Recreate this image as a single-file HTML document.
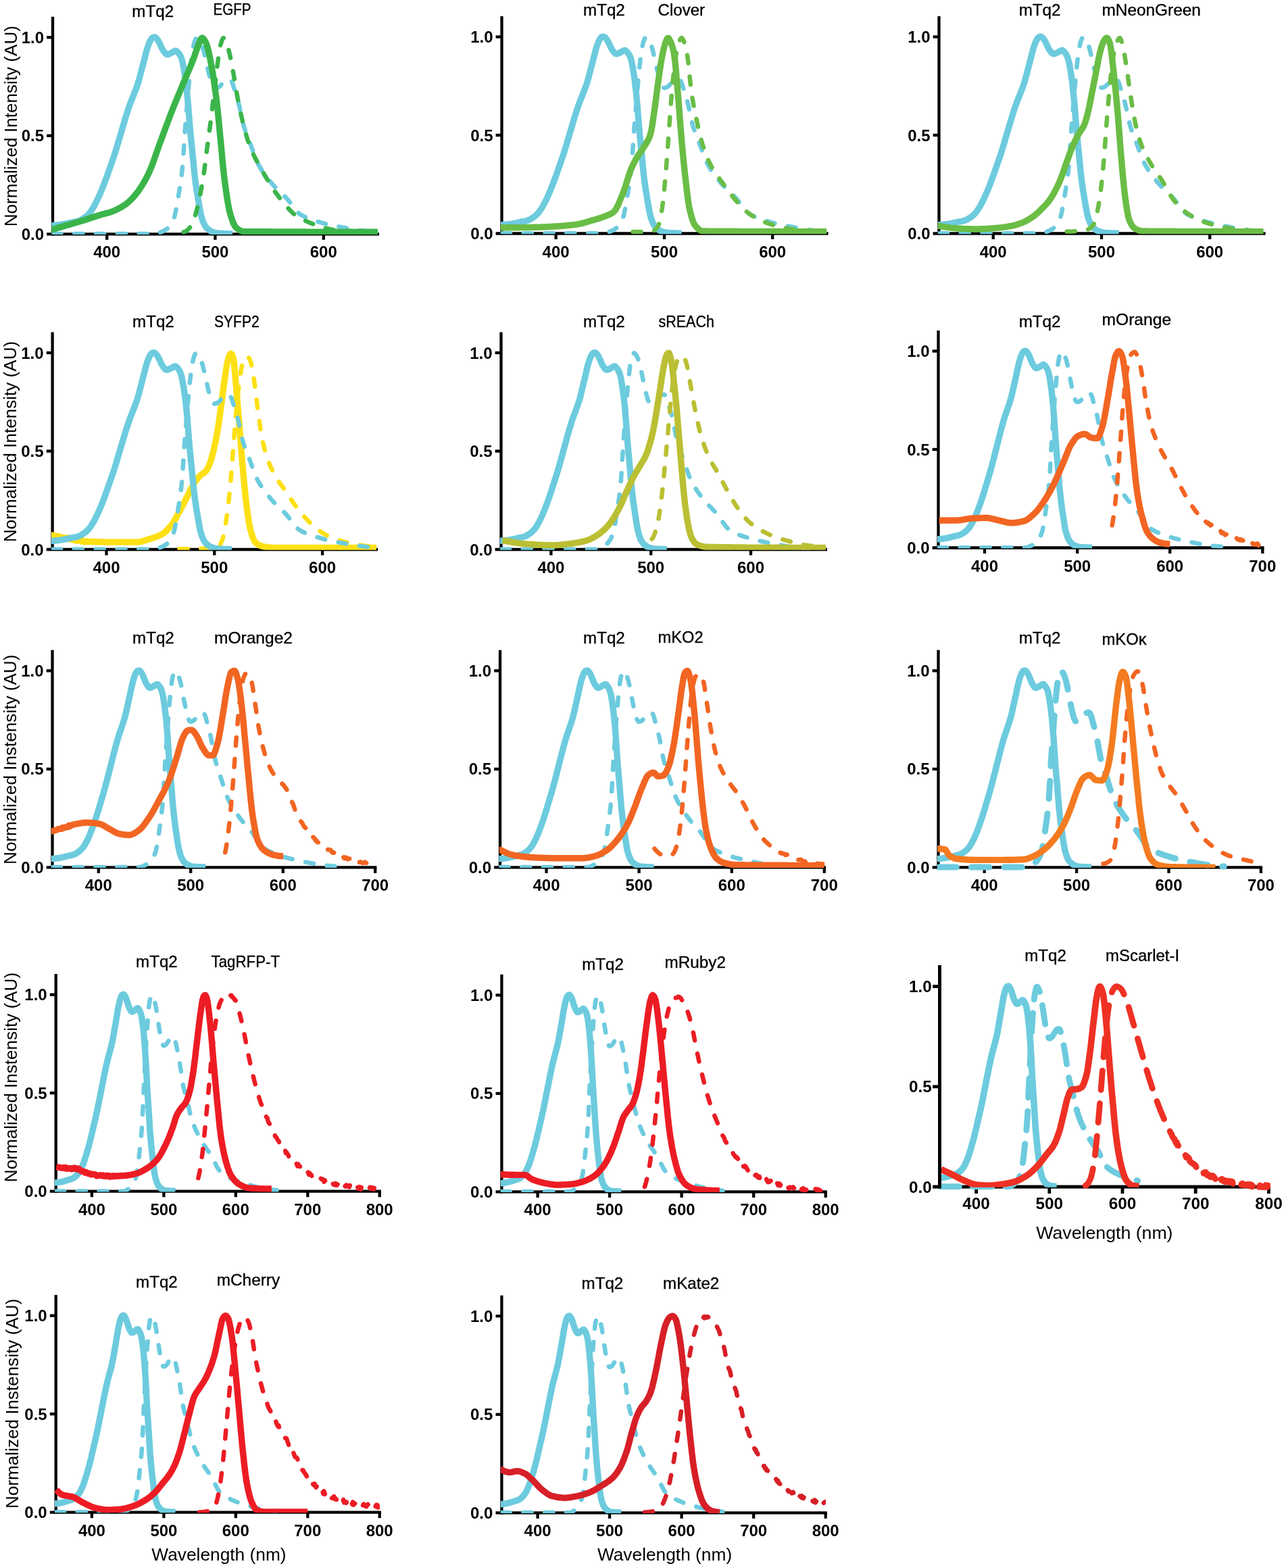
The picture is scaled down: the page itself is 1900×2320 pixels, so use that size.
<!DOCTYPE html>
<html lang="en">
<head>
<meta charset="utf-8">
<title>Spectra of mTq2 FRET pairs</title>
<style>
html,body{margin:0;padding:0;background:#fff;}
body{width:1900px;height:2320px;overflow:hidden;}
svg{display:block;}
text{white-space:pre;}
</style>
</head>
<body>
<svg width="1900" height="2320" viewBox="0 0 1900 2320">
<rect width="1900" height="2320" fill="#fff"/>
<g>
<g stroke="#000" stroke-width="4.3" fill="none" stroke-linecap="butt">
<path d="M78.0,24.7 V348.4"/>
<path d="M69.1,346.3 H561.0"/>
<path d="M69.1,200.8 H78.0"/>
<path d="M69.1,55.3 H78.0"/>
<path d="M158.2,346.3 V354.8"/>
<path d="M318.4,346.3 V354.8"/>
<path d="M478.8,346.3 V354.8"/>
</g>
<g font-family='"Liberation Sans", "DejaVu Sans", sans-serif' font-weight="700" font-size="24.0" fill="#000">
<text x="65.0" y="354.8" text-anchor="end">0.0</text>
<text x="65.0" y="209.3" text-anchor="end">0.5</text>
<text x="65.0" y="63.8" text-anchor="end">1.0</text>
<text x="158.2" y="381.3" text-anchor="middle">400</text>
<text x="318.4" y="381.3" text-anchor="middle">500</text>
<text x="478.8" y="381.3" text-anchor="middle">600</text>
</g>
<g font-family='"Liberation Sans", "DejaVu Sans", sans-serif' font-size="24.4" fill="#000" stroke="#000" stroke-width="0.35">
<text x="195.3" y="24.7" textLength="61.8" lengthAdjust="spacingAndGlyphs">mTq2</text>
<text x="315.5" y="22.3" textLength="56.1" lengthAdjust="spacingAndGlyphs">EGFP</text>
</g>
<text transform="translate(24.5,186.7) rotate(-90)" text-anchor="middle" font-family='"Liberation Sans", "DejaVu Sans", sans-serif' font-size="26.1" fill="#000">Normalized Intensity (AU)</text>
<clipPath id="c1"><rect x="76.3" y="-2.9" width="482.9" height="349.9"/></clipPath>
<clipPath id="c1b"><rect x="76.3" y="-2.9" width="485.1" height="361.2"/></clipPath>
<g fill="none" stroke-linejoin="round" clip-path="url(#c1)"><path d="M78.5,346.0 80.1,346.0 81.7,346.0 83.3,346.0 84.9,346.0 86.5,346.0 88.1,346.0 89.7,346.0 91.3,346.0 92.9,346.0 94.5,346.0 96.1,346.0 97.7,346.0 99.3,346.0 100.9,346.0 102.5,346.0 104.1,346.0 105.7,346.0 107.3,346.0 108.9,346.0 110.5,346.0 112.1,346.0 113.7,346.0 115.3,346.0 116.9,346.0 118.5,346.0 120.1,346.0 121.7,346.0 123.3,346.0 124.9,346.0 126.5,346.0 128.1,346.0 129.7,346.0 131.3,346.0 132.9,346.0 134.5,346.0 136.1,346.0 137.7,346.0 139.3,346.0 140.9,346.0 142.5,346.0 144.1,346.0 145.7,346.0 147.3,346.0 148.9,346.0 150.5,346.0 152.1,346.0 153.7,346.0 155.3,346.0 156.9,346.0 158.5,346.0 160.1,346.0 161.7,346.0 163.3,346.0 164.9,346.0 166.5,346.0 168.1,346.0 169.7,346.0 171.3,346.0 173.0,346.0 174.6,346.0 176.2,346.0 177.8,346.0 179.4,346.0 181.0,346.0 182.6,346.0 184.2,346.0 185.8,346.0 187.4,346.0 189.0,346.0 190.6,346.0 192.2,346.0 193.8,346.0 195.4,346.0 197.0,346.0 198.6,346.0 200.2,346.0 201.8,346.0 203.4,346.0 205.0,346.0 206.6,346.0 208.2,346.0 209.8,346.0 211.4,346.0 213.0,346.0 214.6,346.0 216.2,346.0 217.8,346.0 219.4,346.0 221.0,346.0 222.6,346.0 224.2,346.0 225.8,346.0 227.4,346.0 229.0,346.0 230.6,346.0 232.2,345.6 233.8,345.1 235.4,344.5 237.0,343.8 238.6,343.2 240.2,342.5 241.8,341.8 243.4,341.0 245.0,340.1 246.6,339.0 248.2,337.7 249.8,336.1 251.4,334.1 253.0,331.8 254.6,329.0 256.2,325.7 257.8,321.9 259.4,315.8 261.0,307.6 262.6,298.3 264.2,288.7 265.8,279.2 267.4,268.9 269.0,256.8 270.6,241.5 272.2,217.2 273.8,192.3 275.4,172.0 277.0,153.3 278.6,134.9 280.2,116.5 281.8,99.8 283.5,86.2 285.1,74.1 286.7,65.9 288.3,60.8 289.9,57.0 291.5,55.7 293.1,56.6 294.7,58.6 296.3,60.9 297.9,64.4 299.5,68.8 301.1,74.1 302.7,80.8 304.3,87.7 305.9,95.1 307.5,102.1 309.1,108.8 310.7,115.0 312.3,120.6 313.9,125.6 315.5,128.5 317.1,130.3 318.7,130.8 320.3,130.4 321.9,129.8 323.5,129.0 325.1,127.9 326.7,126.2 328.3,124.3 329.9,122.6 331.5,121.0 333.1,119.5 334.7,118.2 336.3,117.6 337.9,117.2 339.5,117.0 341.1,117.8 342.7,120.2 344.3,123.8 345.9,129.1 347.5,134.0 349.1,138.9 350.7,144.1 352.3,149.6 353.9,155.9 355.5,163.2 357.1,171.0 358.7,178.5 360.3,185.0 361.9,190.2 363.5,194.9 365.1,199.2 366.7,203.3 368.3,207.3 369.9,211.4 371.5,215.7 373.1,220.1 374.7,224.6 376.3,229.0 377.9,233.2 379.5,237.2 381.1,240.8 382.7,243.9 384.3,246.8 385.9,249.5 387.5,252.1 389.1,254.6 390.7,256.9 392.3,259.1 394.0,261.3 395.6,263.4 397.2,265.4 398.8,267.3 400.4,269.3 402.0,271.1 403.6,273.0 405.2,274.8 406.8,276.5 408.4,278.2 410.0,279.7 411.6,281.3 413.2,282.8 414.8,284.3 416.4,285.8 418.0,287.3 419.6,288.8 421.2,290.4 422.8,292.0 424.4,293.7 426.0,295.6 427.6,297.6 429.2,299.7 430.8,301.8 432.4,304.0 434.0,306.1 435.6,308.2 437.2,310.3 438.8,312.2 440.4,313.9 442.0,315.4 443.6,316.7 445.2,317.7 446.8,318.7 448.4,319.5 450.0,320.4 451.6,321.1 453.2,321.9 454.8,322.6 456.4,323.3 458.0,323.9 459.6,324.5 461.2,325.1 462.8,325.6 464.4,326.1 466.0,326.6 467.6,327.1 469.2,327.6 470.8,328.1 472.4,328.5 474.0,329.0 475.6,329.5 477.2,329.9 478.8,330.3 480.4,330.8 482.0,331.2 483.6,331.6 485.2,331.9 486.8,332.3 488.4,332.7 490.0,333.0 491.6,333.4 493.2,333.7 494.8,334.1 496.4,334.4 498.0,334.7 499.6,335.0 501.2,335.3 502.8,335.6 504.5,336.0 506.1,336.3 507.7,336.6 509.3,336.9 510.9,337.2 512.5,337.5 514.1,337.8 515.7,338.0 517.3,338.3 518.9,338.6 520.5,338.9 522.1,339.2 523.7,339.4 525.3,339.7 526.9,340.0 528.5,340.2 530.1,340.5 531.7,340.7 533.3,340.9 534.9,341.2 536.5,341.4 538.1,341.6 539.7,341.8 541.3,342.0 542.9,342.2 544.5,342.4 546.1,342.7 547.7,342.9 549.3,343.0 550.9,343.2 552.5,343.4 554.1,343.6 555.7,343.7 557.3,343.9 558.9,344.0" stroke="#6dcbde" stroke-width="6.5" stroke-dasharray="12 19.8" stroke-linecap="round"/></g>
<g fill="none" stroke-linejoin="round" clip-path="url(#c1)"><path d="M76.0,333.5 78.0,333.5 79.6,333.4 81.2,333.3 82.8,333.1 84.4,333.0 86.0,332.8 87.6,332.6 89.2,332.4 90.8,332.2 92.4,331.9 94.0,331.7 95.6,331.4 97.2,331.1 98.8,330.7 100.4,330.4 102.0,330.0 103.6,329.7 105.3,329.3 106.9,329.0 108.5,328.7 110.1,328.4 111.7,328.1 113.3,327.8 114.9,327.4 116.5,326.9 118.1,326.2 119.7,325.4 121.3,324.5 122.9,323.5 124.5,322.5 126.1,321.3 127.7,320.1 129.3,318.7 130.9,317.1 132.5,315.3 134.1,313.2 135.7,310.8 137.3,308.3 138.9,305.7 140.5,302.8 142.1,299.7 143.7,296.4 145.3,292.9 146.9,289.4 148.5,285.8 150.1,282.0 151.7,278.1 153.3,274.0 154.9,269.9 156.5,265.5 158.2,261.0 159.8,256.4 161.4,251.8 163.0,247.3 164.6,242.7 166.2,238.1 167.8,233.5 169.4,228.7 171.0,223.6 172.6,218.4 174.2,213.1 175.8,207.7 177.4,202.3 179.0,197.0 180.6,191.6 182.2,186.2 183.8,180.8 185.4,175.4 187.0,170.2 188.6,165.3 190.2,160.4 191.8,155.8 193.4,151.4 195.0,147.3 196.6,143.4 198.2,139.4 199.8,135.3 201.4,131.2 203.0,126.9 204.6,121.9 206.2,116.1 207.8,109.9 209.4,103.9 211.0,97.7 212.7,91.5 214.3,85.2 215.9,78.7 217.5,72.8 219.1,68.0 220.7,63.6 222.3,60.2 223.9,57.6 225.5,55.8 227.1,55.2 228.7,54.9 230.3,55.6 231.9,57.2 233.5,59.3 235.1,62.0 236.7,65.1 238.3,68.7 239.9,72.1 241.5,74.7 243.1,76.9 244.7,78.9 246.3,80.3 247.9,80.6 249.5,80.2 251.1,79.6 252.7,78.8 254.3,78.0 255.9,77.0 257.5,76.0 259.1,75.3 260.7,75.3 262.3,76.5 263.9,78.2 265.6,80.3 267.2,83.1 268.8,87.1 270.4,93.3 272.0,101.8 273.6,111.6 275.2,123.7 276.8,137.8 278.4,154.7 280.0,175.0 281.6,194.3 283.2,210.7 284.8,226.4 286.4,243.1 288.0,259.0 289.6,271.7 291.2,282.8 292.8,292.6 294.4,301.9 296.0,311.0 297.6,318.9 299.2,324.4 300.8,328.6 302.4,332.1 304.0,334.9 305.6,337.0 307.2,338.5 308.8,339.8 310.4,341.0 312.0,342.0 313.6,342.8 315.2,343.4 316.8,343.9 318.4,344.3 320.1,344.7 321.7,345.0 323.3,345.1 324.9,345.3 326.5,345.4 328.1,345.5 329.7,345.5 331.3,345.6 332.9,345.7 334.5,345.7 336.1,345.8 337.7,345.8 339.3,345.9 340.9,345.9 342.5,345.9 344.1,346.0" stroke="#6dcbde" stroke-width="9.4" stroke-linecap="butt"/></g>
<g fill="none" stroke-linejoin="round" clip-path="url(#c1)"><path d="M271.6,343.2 273.2,342.9 274.8,342.2 276.4,341.2 278.0,339.8 279.6,338.2 281.2,336.3 282.8,334.3 284.5,331.7 286.1,327.8 287.7,322.9 289.3,317.4 290.9,311.4 292.5,305.3 294.1,298.5 295.7,291.0 297.3,282.7 298.9,273.8 300.5,264.3 302.1,253.3 303.7,240.9 305.3,228.2 306.9,216.0 308.5,204.3 310.1,192.4 311.7,180.1 313.3,166.9 314.9,153.0 316.5,139.1 318.2,125.6 319.8,111.9 321.4,98.5 323.0,86.5 324.6,76.2 326.2,67.2 327.8,61.5 329.4,57.3 331.0,56.1 332.6,58.1 334.2,61.4 335.8,65.3 337.4,70.5 339.0,76.5 340.6,83.2 342.2,91.1 343.8,99.7 345.4,108.5 347.0,118.1 348.6,128.2 350.3,137.9 351.9,146.5 353.5,154.7 355.1,162.5 356.7,169.9 358.3,176.6 359.9,183.1 361.5,189.4 363.1,195.4 364.7,201.1 366.3,206.4 367.9,211.4 369.5,215.8 371.1,219.8 372.7,223.6 374.3,227.1 375.9,230.4 377.5,233.6 379.1,236.6 380.7,239.6 382.4,242.4 384.0,245.3 385.6,248.2 387.2,251.1 388.8,253.9 390.4,256.8 392.0,259.6 393.6,262.4 395.2,265.1 396.8,267.8 398.4,270.4 400.0,273.0 401.6,275.5 403.2,277.9 404.8,280.3 406.4,282.6 408.0,285.0 409.6,287.2 411.2,289.4 412.8,291.6 414.5,293.8 416.1,295.8 417.7,297.8 419.3,299.8 420.9,301.7 422.5,303.5 424.1,305.4 425.7,307.2 427.3,309.0 428.9,310.7 430.5,312.4 432.1,314.0 433.7,315.6 435.3,317.0 436.9,318.3 438.5,319.4 440.1,320.5 441.7,321.5 443.3,322.4 444.9,323.3 446.6,324.1 448.2,324.9 449.8,325.7 451.4,326.4 453.0,327.2 454.6,327.8 456.2,328.5 457.8,329.2 459.4,329.9 461.0,330.5 462.6,331.2 464.2,331.8 465.8,332.5 467.4,333.1 469.0,333.7 470.6,334.3 472.2,334.8 473.8,335.3 475.4,335.8 477.0,336.3 478.7,336.7 480.3,337.1 481.9,337.5 483.5,337.9 485.1,338.3 486.7,338.7 488.3,339.0 489.9,339.4 491.5,339.7 493.1,340.0 494.7,340.3 496.3,340.5 497.9,340.8 499.5,340.9 501.1,341.1 502.7,341.2 504.3,341.3 505.9,341.4 507.5,341.5 509.1,341.6 510.8,341.7 512.4,341.8 514.0,341.9 515.6,341.9 517.2,342.0 518.8,342.1 520.4,342.2 522.0,342.3 523.6,342.3 525.2,342.4 526.8,342.5 528.4,342.5 530.0,342.6 531.6,342.7 533.2,342.7 534.8,342.8 536.4,342.8 538.0,342.9 539.6,342.9 541.2,342.9 542.9,343.0 544.5,343.0 546.1,343.0 547.7,343.1 549.3,343.1 550.9,343.1 552.5,343.1 554.1,343.1 555.7,343.1 557.3,343.2 558.9,343.2" stroke="#3bb54a" stroke-width="6.5" stroke-dasharray="12 19.8" stroke-linecap="round"/></g>
<g fill="none" stroke-linejoin="round" clip-path="url(#c1)"><path d="M76.0,339.5 78.0,339.5 79.6,339.0 81.2,338.5 82.8,338.1 84.4,337.6 86.0,337.1 87.6,336.6 89.2,336.2 90.8,335.7 92.4,335.2 94.0,334.8 95.6,334.3 97.2,333.8 98.8,333.3 100.4,332.9 102.0,332.4 103.6,331.9 105.3,331.5 106.9,331.0 108.5,330.5 110.1,330.0 111.7,329.6 113.3,329.1 114.9,328.6 116.5,328.1 118.1,327.7 119.7,327.2 121.3,326.7 122.9,326.2 124.5,325.7 126.1,325.2 127.7,324.7 129.3,324.2 130.9,323.7 132.5,323.1 134.1,322.6 135.7,322.1 137.3,321.5 138.9,321.0 140.5,320.4 142.1,319.9 143.7,319.4 145.3,318.9 146.9,318.4 148.5,317.9 150.1,317.4 151.7,317.0 153.3,316.6 154.9,316.2 156.5,315.7 158.2,315.3 159.8,314.9 161.4,314.4 163.0,313.9 164.6,313.4 166.2,312.8 167.8,312.2 169.4,311.5 171.0,310.8 172.6,310.1 174.2,309.3 175.8,308.5 177.4,307.6 179.0,306.7 180.6,305.8 182.2,304.8 183.8,303.8 185.4,302.7 187.0,301.5 188.6,300.2 190.2,298.9 191.8,297.4 193.4,295.8 195.0,294.2 196.6,292.5 198.2,290.7 199.8,288.8 201.4,286.8 203.0,284.9 204.6,282.7 206.2,280.5 207.8,278.1 209.4,275.6 211.0,273.0 212.7,270.3 214.3,267.4 215.9,264.5 217.5,261.4 219.1,258.2 220.7,254.9 222.3,251.2 223.9,247.3 225.5,243.1 227.1,238.8 228.7,234.3 230.3,229.7 231.9,225.1 233.5,220.5 235.1,216.0 236.7,211.6 238.3,207.3 239.9,203.0 241.5,198.7 243.1,194.4 244.7,190.0 246.3,185.7 247.9,181.4 249.5,177.1 251.1,172.9 252.7,168.7 254.3,164.6 255.9,160.5 257.5,156.5 259.1,152.5 260.7,148.6 262.3,144.7 263.9,140.8 265.6,136.9 267.2,133.0 268.8,129.2 270.4,125.3 272.0,121.4 273.6,117.6 275.2,113.8 276.8,110.1 278.4,106.3 280.0,102.6 281.6,98.8 283.2,94.9 284.8,90.9 286.4,86.7 288.0,82.2 289.6,77.4 291.2,72.8 292.8,68.5 294.4,64.5 296.0,60.3 297.6,57.1 299.2,56.0 300.8,57.0 302.4,59.1 304.0,61.9 305.6,65.2 307.2,70.4 308.8,77.0 310.4,84.5 312.0,92.5 313.6,101.1 315.2,110.7 316.8,121.4 318.4,133.0 320.1,145.4 321.7,159.0 323.3,174.9 324.9,191.9 326.5,208.5 328.1,225.4 329.7,242.5 331.3,258.1 332.9,270.8 334.5,282.4 336.1,293.3 337.7,302.9 339.3,311.0 340.9,317.2 342.5,322.3 344.1,327.0 345.7,331.0 347.3,334.1 348.9,336.4 350.5,337.8 352.1,339.0 353.7,340.1 355.3,341.0 356.9,341.7 358.5,342.3 360.1,342.5 361.7,342.6 363.3,342.6 364.9,342.6 366.5,342.6 368.1,342.6 369.7,342.6 371.3,342.7 373.0,342.7 374.6,342.7 376.2,342.7 377.8,342.7 379.4,342.7 381.0,342.7 382.6,342.7 384.2,342.7 385.8,342.8 387.4,342.8 389.0,342.8 390.6,342.8 392.2,342.8 393.8,342.8 395.4,342.8 397.0,342.8 398.6,342.8 400.2,342.8 401.8,342.9 403.4,342.9 405.0,342.9 406.6,342.9 408.2,342.9 409.8,342.9 411.4,342.9 413.0,342.9 414.6,342.9 416.2,342.9 417.8,342.9 419.4,342.9 421.0,342.9 422.6,343.0 424.2,343.0 425.9,343.0 427.5,343.0 429.1,343.0 430.7,343.0 432.3,343.0 433.9,343.0 435.5,343.0 437.1,343.0 438.7,343.0 440.3,343.0 441.9,343.0 443.5,343.0 445.1,343.0 446.7,343.0 448.3,343.0 449.9,343.0 451.5,343.0 453.1,343.1 454.7,343.1 456.3,343.1 457.9,343.1 459.5,343.1 461.1,343.1 462.7,343.1 464.3,343.1 465.9,343.1 467.5,343.1 469.1,343.1 470.7,343.1 472.3,343.1 473.9,343.1 475.5,343.1 477.1,343.1 478.8,343.1 480.4,343.1 482.0,343.1 483.6,343.1 485.2,343.1 486.8,343.1 488.4,343.1 490.0,343.1 491.6,343.1 493.2,343.1 494.8,343.1 496.4,343.1 498.0,343.1 499.6,343.1 501.2,343.1 502.8,343.1 504.4,343.1 506.0,343.1 507.6,343.1 509.2,343.1 510.8,343.1 512.4,343.1 514.0,343.1 515.6,343.1 517.2,343.1 518.8,343.1 520.4,343.1 522.0,343.2 523.6,343.2 525.2,343.2 526.8,343.2 528.4,343.2 530.0,343.2 531.6,343.2 533.3,343.2 534.9,343.2 536.5,343.2 538.1,343.2 539.7,343.2 541.3,343.2 542.9,343.2 544.5,343.2 546.1,343.2 547.7,343.2 549.3,343.2 550.9,343.2 552.5,343.2 554.1,343.2 555.7,343.2 557.3,343.2 558.9,343.2" stroke="#3bb54a" stroke-width="9.4" stroke-linecap="butt"/></g>
</g>
<g>
<g stroke="#000" stroke-width="4.3" fill="none" stroke-linecap="butt">
<path d="M742.5,23.9 V347.6"/>
<path d="M733.6,345.5 H1225.6"/>
<path d="M733.6,200.0 H742.5"/>
<path d="M733.6,54.5 H742.5"/>
<path d="M822.6,345.5 V354.0"/>
<path d="M983.0,345.5 V354.0"/>
<path d="M1143.2,345.5 V354.0"/>
</g>
<g font-family='"Liberation Sans", "DejaVu Sans", sans-serif' font-weight="700" font-size="24.0" fill="#000">
<text x="729.5" y="354.0" text-anchor="end">0.0</text>
<text x="729.5" y="208.5" text-anchor="end">0.5</text>
<text x="729.5" y="63.0" text-anchor="end">1.0</text>
<text x="822.6" y="380.5" text-anchor="middle">400</text>
<text x="983.0" y="380.5" text-anchor="middle">500</text>
<text x="1143.2" y="380.5" text-anchor="middle">600</text>
</g>
<g font-family='"Liberation Sans", "DejaVu Sans", sans-serif' font-size="24.4" fill="#000" stroke="#000" stroke-width="0.35">
<text x="863.0" y="23.0" textLength="61.8" lengthAdjust="spacingAndGlyphs">mTq2</text>
<text x="973.6" y="23.0" textLength="69.5" lengthAdjust="spacingAndGlyphs">Clover</text>
</g>
<clipPath id="c2"><rect x="740.8" y="-3.7" width="482.9" height="349.9"/></clipPath>
<clipPath id="c2b"><rect x="740.8" y="-3.7" width="485.1" height="361.2"/></clipPath>
<g fill="none" stroke-linejoin="round" clip-path="url(#c2)"><path d="M743.0,345.2 744.6,345.2 746.2,345.2 747.8,345.2 749.4,345.2 751.0,345.2 752.6,345.2 754.2,345.2 755.8,345.2 757.4,345.2 759.0,345.2 760.6,345.2 762.2,345.2 763.8,345.2 765.4,345.2 767.0,345.2 768.6,345.2 770.2,345.2 771.8,345.2 773.4,345.2 775.0,345.2 776.6,345.2 778.2,345.2 779.8,345.2 781.4,345.2 783.0,345.2 784.6,345.2 786.2,345.2 787.8,345.2 789.4,345.2 791.0,345.2 792.6,345.2 794.2,345.2 795.8,345.2 797.4,345.2 799.0,345.2 800.6,345.2 802.2,345.2 803.8,345.2 805.4,345.2 807.0,345.2 808.6,345.2 810.2,345.2 811.8,345.2 813.4,345.2 815.0,345.2 816.6,345.2 818.2,345.2 819.8,345.2 821.4,345.2 823.0,345.2 824.6,345.2 826.2,345.2 827.8,345.2 829.4,345.2 831.0,345.2 832.6,345.2 834.2,345.2 835.8,345.2 837.5,345.2 839.1,345.2 840.7,345.2 842.3,345.2 843.9,345.2 845.5,345.2 847.1,345.2 848.7,345.2 850.3,345.2 851.9,345.2 853.5,345.2 855.1,345.2 856.7,345.2 858.3,345.2 859.9,345.2 861.5,345.2 863.1,345.2 864.7,345.2 866.3,345.2 867.9,345.2 869.5,345.2 871.1,345.2 872.7,345.2 874.3,345.2 875.9,345.2 877.5,345.2 879.1,345.2 880.7,345.2 882.3,345.2 883.9,345.2 885.5,345.2 887.1,345.2 888.7,345.2 890.3,345.2 891.9,345.2 893.5,345.2 895.1,345.2 896.7,344.8 898.3,344.3 899.9,343.7 901.5,343.0 903.1,342.4 904.7,341.7 906.3,341.0 907.9,340.2 909.5,339.3 911.1,338.2 912.7,336.9 914.3,335.3 915.9,333.3 917.5,331.0 919.1,328.2 920.7,324.9 922.3,321.1 923.9,315.0 925.5,306.8 927.1,297.5 928.7,287.9 930.3,278.4 931.9,268.1 933.5,256.0 935.1,240.7 936.7,216.4 938.3,191.5 939.9,171.2 941.5,152.5 943.1,134.1 944.7,115.7 946.3,99.0 948.0,85.4 949.6,73.3 951.2,65.1 952.8,60.0 954.4,56.2 956.0,54.9 957.6,55.8 959.2,57.8 960.8,60.1 962.4,63.6 964.0,68.0 965.6,73.3 967.2,80.0 968.8,86.9 970.4,94.3 972.0,101.3 973.6,108.0 975.2,114.2 976.8,119.8 978.4,124.8 980.0,127.7 981.6,129.5 983.2,130.0 984.8,129.6 986.4,129.0 988.0,128.2 989.6,127.1 991.2,125.4 992.8,123.5 994.4,121.8 996.0,120.2 997.6,118.7 999.2,117.4 1000.8,116.8 1002.4,116.4 1004.0,116.2 1005.6,117.0 1007.2,119.4 1008.8,123.0 1010.4,128.3 1012.0,133.2 1013.6,138.1 1015.2,143.3 1016.8,148.8 1018.4,155.1 1020.0,162.4 1021.6,170.2 1023.2,177.7 1024.8,184.2 1026.4,189.4 1028.0,194.1 1029.6,198.4 1031.2,202.5 1032.8,206.5 1034.4,210.6 1036.0,214.9 1037.6,219.3 1039.2,223.8 1040.8,228.2 1042.4,232.4 1044.0,236.4 1045.6,240.0 1047.2,243.1 1048.8,246.0 1050.4,248.7 1052.0,251.3 1053.6,253.8 1055.2,256.1 1056.8,258.3 1058.5,260.5 1060.1,262.6 1061.7,264.6 1063.3,266.5 1064.9,268.5 1066.5,270.3 1068.1,272.2 1069.7,274.0 1071.3,275.7 1072.9,277.4 1074.5,278.9 1076.1,280.5 1077.7,282.0 1079.3,283.5 1080.9,285.0 1082.5,286.5 1084.1,288.0 1085.7,289.6 1087.3,291.2 1088.9,292.9 1090.5,294.8 1092.1,296.8 1093.7,298.9 1095.3,301.0 1096.9,303.2 1098.5,305.3 1100.1,307.4 1101.7,309.5 1103.3,311.4 1104.9,313.1 1106.5,314.6 1108.1,315.9 1109.7,316.9 1111.3,317.9 1112.9,318.7 1114.5,319.6 1116.1,320.3 1117.7,321.1 1119.3,321.8 1120.9,322.5 1122.5,323.1 1124.1,323.7 1125.7,324.3 1127.3,324.8 1128.9,325.3 1130.5,325.8 1132.1,326.3 1133.7,326.8 1135.3,327.3 1136.9,327.7 1138.5,328.2 1140.1,328.7 1141.7,329.1 1143.3,329.5 1144.9,330.0 1146.5,330.4 1148.1,330.8 1149.7,331.1 1151.3,331.5 1152.9,331.9 1154.5,332.2 1156.1,332.6 1157.7,332.9 1159.3,333.3 1160.9,333.6 1162.5,333.9 1164.1,334.2 1165.7,334.5 1167.3,334.8 1169.0,335.2 1170.6,335.5 1172.2,335.8 1173.8,336.1 1175.4,336.4 1177.0,336.7 1178.6,337.0 1180.2,337.2 1181.8,337.5 1183.4,337.8 1185.0,338.1 1186.6,338.4 1188.2,338.6 1189.8,338.9 1191.4,339.2 1193.0,339.4 1194.6,339.7 1196.2,339.9 1197.8,340.1 1199.4,340.4 1201.0,340.6 1202.6,340.8 1204.2,341.0 1205.8,341.2 1207.4,341.4 1209.0,341.6 1210.6,341.9 1212.2,342.1 1213.8,342.2 1215.4,342.4 1217.0,342.6 1218.6,342.8 1220.2,342.9 1221.8,343.1 1223.4,343.2" stroke="#6dcbde" stroke-width="6.5" stroke-dasharray="12 19.8" stroke-linecap="round"/></g>
<g fill="none" stroke-linejoin="round" clip-path="url(#c2)"><path d="M740.5,332.7 742.5,332.7 744.1,332.6 745.7,332.5 747.3,332.3 748.9,332.2 750.5,332.0 752.1,331.8 753.7,331.6 755.3,331.4 756.9,331.1 758.5,330.9 760.1,330.6 761.7,330.3 763.3,329.9 764.9,329.6 766.5,329.2 768.1,328.9 769.8,328.5 771.4,328.2 773.0,327.9 774.6,327.6 776.2,327.3 777.8,327.0 779.4,326.6 781.0,326.1 782.6,325.4 784.2,324.6 785.8,323.7 787.4,322.7 789.0,321.7 790.6,320.5 792.2,319.3 793.8,317.9 795.4,316.3 797.0,314.5 798.6,312.4 800.2,310.0 801.8,307.5 803.4,304.9 805.0,302.0 806.6,298.9 808.2,295.6 809.8,292.1 811.4,288.6 813.0,285.0 814.6,281.2 816.2,277.3 817.8,273.2 819.4,269.1 821.0,264.7 822.6,260.2 824.3,255.6 825.9,251.0 827.5,246.5 829.1,241.9 830.7,237.3 832.3,232.7 833.9,227.9 835.5,222.8 837.1,217.6 838.7,212.3 840.3,206.9 841.9,201.5 843.5,196.2 845.1,190.8 846.7,185.4 848.3,180.0 849.9,174.6 851.5,169.4 853.1,164.5 854.7,159.6 856.3,155.0 857.9,150.6 859.5,146.5 861.1,142.6 862.7,138.6 864.3,134.5 865.9,130.4 867.5,126.1 869.1,121.1 870.7,115.3 872.3,109.1 873.9,103.1 875.5,96.9 877.2,90.7 878.8,84.4 880.4,77.9 882.0,72.0 883.6,67.2 885.2,62.8 886.8,59.4 888.4,56.8 890.0,55.0 891.6,54.4 893.2,54.1 894.8,54.8 896.4,56.4 898.0,58.5 899.6,61.2 901.2,64.3 902.8,67.9 904.4,71.3 906.0,73.9 907.6,76.1 909.2,78.1 910.8,79.5 912.4,79.8 914.0,79.4 915.6,78.8 917.2,78.0 918.8,77.2 920.4,76.2 922.0,75.2 923.6,74.5 925.2,74.5 926.8,75.7 928.4,77.4 930.1,79.5 931.7,82.3 933.3,86.3 934.9,92.5 936.5,101.0 938.1,110.8 939.7,122.9 941.3,137.0 942.9,153.9 944.5,174.2 946.1,193.5 947.7,209.9 949.3,225.6 950.9,242.3 952.5,258.2 954.1,270.9 955.7,282.0 957.3,291.8 958.9,301.1 960.5,310.2 962.1,318.1 963.7,323.6 965.3,327.8 966.9,331.3 968.5,334.1 970.1,336.2 971.7,337.7 973.3,339.0 974.9,340.2 976.5,341.2 978.1,342.0 979.7,342.6 981.3,343.1 983.0,343.5 984.6,343.9 986.2,344.2 987.8,344.3 989.4,344.5 991.0,344.6 992.6,344.7 994.2,344.7 995.8,344.8 997.4,344.9 999.0,344.9 1000.6,345.0 1002.2,345.0 1003.8,345.1 1005.4,345.1 1007.0,345.1 1008.6,345.2" stroke="#6dcbde" stroke-width="9.4" stroke-linecap="butt"/></g>
<g fill="none" stroke-linejoin="round" clip-path="url(#c2)"><path d="M936.6,343.1 938.2,343.1 939.8,343.1 941.4,343.1 943.0,343.1 944.6,343.1 946.2,343.0 947.8,343.0 949.4,343.0 951.0,342.9 952.6,342.8 954.2,342.8 955.8,342.7 957.4,342.6 959.0,342.5 960.6,342.4 962.2,342.3 963.8,342.1 965.4,342.0 967.0,341.6 968.7,340.6 970.3,339.1 971.9,337.2 973.5,334.9 975.1,331.6 976.7,325.5 978.3,317.3 979.9,307.7 981.5,295.1 983.1,279.0 984.7,260.9 986.3,242.0 987.9,220.6 989.5,198.4 991.1,176.4 992.7,154.0 994.3,134.5 995.9,117.5 997.5,102.1 999.1,89.1 1000.7,79.2 1002.3,70.9 1003.9,64.5 1005.5,60.4 1007.1,57.3 1008.7,56.0 1010.3,57.5 1011.9,60.8 1013.5,65.1 1015.1,71.8 1016.7,80.3 1018.3,91.1 1019.9,106.4 1021.5,122.6 1023.1,135.9 1024.7,146.1 1026.3,155.3 1027.9,163.6 1029.5,171.4 1031.1,178.9 1032.7,186.2 1034.3,193.2 1035.9,200.0 1037.5,206.3 1039.1,212.1 1040.7,217.2 1042.4,222.0 1044.0,226.5 1045.6,230.7 1047.2,234.7 1048.8,238.4 1050.4,241.8 1052.0,245.0 1053.6,247.9 1055.2,250.6 1056.8,253.2 1058.4,255.7 1060.0,258.0 1061.6,260.3 1063.2,262.5 1064.8,264.6 1066.4,266.8 1068.0,269.0 1069.6,271.3 1071.2,273.5 1072.8,275.8 1074.4,278.0 1076.0,280.3 1077.6,282.5 1079.2,284.6 1080.8,286.7 1082.4,288.8 1084.0,290.8 1085.6,292.7 1087.2,294.6 1088.8,296.4 1090.4,298.3 1092.0,300.1 1093.6,301.9 1095.2,303.6 1096.8,305.4 1098.4,307.1 1100.0,308.7 1101.6,310.2 1103.2,311.7 1104.8,313.1 1106.4,314.5 1108.0,315.7 1109.6,316.8 1111.2,317.9 1112.8,318.9 1114.5,319.9 1116.1,320.9 1117.7,321.8 1119.3,322.7 1120.9,323.6 1122.5,324.4 1124.1,325.2 1125.7,326.0 1127.3,326.7 1128.9,327.5 1130.5,328.1 1132.1,328.8 1133.7,329.4 1135.3,330.0 1136.9,330.6 1138.5,331.1 1140.1,331.7 1141.7,332.2 1143.3,332.7 1144.9,333.2 1146.5,333.7 1148.1,334.1 1149.7,334.6 1151.3,335.0 1152.9,335.4 1154.5,335.8 1156.1,336.2 1157.7,336.6 1159.3,336.9 1160.9,337.2 1162.5,337.5 1164.1,337.8 1165.7,338.1 1167.3,338.3 1168.9,338.5 1170.5,338.7 1172.1,338.9 1173.7,339.1 1175.3,339.3 1176.9,339.5 1178.5,339.7 1180.1,339.8 1181.7,340.0 1183.3,340.1 1184.9,340.3 1186.5,340.4 1188.2,340.6 1189.8,340.7 1191.4,340.8 1193.0,340.9 1194.6,341.0 1196.2,341.2 1197.8,341.3 1199.4,341.4 1201.0,341.5 1202.6,341.6 1204.2,341.7 1205.8,341.8 1207.4,341.9 1209.0,341.9 1210.6,342.0 1212.2,342.1 1213.8,342.2 1215.4,342.3 1217.0,342.3 1218.6,342.4 1220.2,342.5 1221.8,342.5 1223.4,342.6" stroke="#6abd45" stroke-width="6.5" stroke-dasharray="12 19.8" stroke-linecap="round"/></g>
<g fill="none" stroke-linejoin="round" clip-path="url(#c2)"><path d="M740.5,336.8 742.5,336.8 744.1,336.8 745.7,336.8 747.3,336.8 748.9,336.8 750.5,336.8 752.1,336.8 753.7,336.8 755.3,336.8 756.9,336.8 758.5,336.8 760.1,336.7 761.7,336.7 763.3,336.7 764.9,336.7 766.5,336.7 768.1,336.6 769.8,336.6 771.4,336.6 773.0,336.6 774.6,336.6 776.2,336.5 777.8,336.5 779.4,336.5 781.0,336.5 782.6,336.4 784.2,336.4 785.8,336.4 787.4,336.3 789.0,336.3 790.6,336.3 792.2,336.3 793.8,336.2 795.4,336.2 797.0,336.1 798.6,336.1 800.2,336.1 801.8,336.0 803.4,335.9 805.0,335.9 806.6,335.8 808.2,335.7 809.8,335.7 811.4,335.6 813.0,335.5 814.6,335.4 816.2,335.3 817.8,335.2 819.4,335.2 821.0,335.0 822.6,334.9 824.3,334.8 825.9,334.7 827.5,334.6 829.1,334.5 830.7,334.4 832.3,334.2 833.9,334.1 835.5,334.0 837.1,333.8 838.7,333.7 840.3,333.5 841.9,333.4 843.5,333.2 845.1,333.0 846.7,332.9 848.3,332.7 849.9,332.5 851.5,332.3 853.1,332.1 854.7,331.8 856.3,331.5 857.9,331.2 859.5,330.8 861.1,330.5 862.7,330.0 864.3,329.6 865.9,329.2 867.5,328.7 869.1,328.2 870.7,327.8 872.3,327.3 873.9,326.8 875.5,326.3 877.2,325.8 878.8,325.4 880.4,324.9 882.0,324.4 883.6,324.0 885.2,323.5 886.8,323.0 888.4,322.4 890.0,321.9 891.6,321.3 893.2,320.8 894.8,320.1 896.4,319.5 898.0,318.9 899.6,318.2 901.2,317.6 902.8,316.9 904.4,316.0 906.0,315.1 907.6,313.9 909.2,312.4 910.8,310.3 912.4,307.6 914.0,304.4 915.6,301.0 917.2,297.2 918.8,293.3 920.4,289.3 922.0,285.4 923.6,281.2 925.2,276.5 926.8,271.3 928.4,266.1 930.1,260.9 931.7,256.0 933.3,251.6 934.9,247.8 936.5,244.3 938.1,241.1 939.7,238.0 941.3,235.1 942.9,232.3 944.5,229.7 946.1,227.4 947.7,225.1 949.3,222.9 950.9,220.6 952.5,218.2 954.1,215.5 955.7,212.9 957.3,210.3 958.9,207.4 960.5,204.0 962.1,199.8 963.7,193.8 965.3,184.5 966.9,173.5 968.5,162.5 970.1,150.8 971.7,138.3 973.3,126.0 974.9,114.6 976.5,103.4 978.1,92.8 979.7,83.7 981.3,75.9 983.0,69.0 984.6,63.6 986.2,59.4 987.8,56.4 989.4,56.5 991.0,59.2 992.6,62.6 994.2,66.6 995.8,71.9 997.4,79.0 999.0,91.5 1000.6,108.7 1002.2,127.5 1003.8,146.1 1005.4,166.7 1007.0,187.7 1008.6,207.0 1010.2,224.4 1011.8,240.9 1013.4,256.2 1015.0,270.2 1016.6,284.1 1018.2,296.7 1019.8,306.5 1021.4,313.5 1023.0,319.7 1024.6,325.0 1026.2,329.4 1027.8,332.6 1029.4,334.7 1031.0,336.5 1032.6,338.0 1034.2,339.4 1035.8,340.5 1037.5,341.4 1039.1,341.9 1040.7,342.0 1042.3,342.0 1043.9,342.0 1045.5,342.1 1047.1,342.1 1048.7,342.1 1050.3,342.1 1051.9,342.1 1053.5,342.1 1055.1,342.1 1056.7,342.1 1058.3,342.2 1059.9,342.2 1061.5,342.2 1063.1,342.2 1064.7,342.2 1066.3,342.2 1067.9,342.2 1069.5,342.2 1071.1,342.2 1072.7,342.3 1074.3,342.3 1075.9,342.3 1077.5,342.3 1079.1,342.3 1080.7,342.3 1082.3,342.3 1083.9,342.3 1085.5,342.3 1087.1,342.3 1088.7,342.3 1090.4,342.3 1092.0,342.4 1093.6,342.4 1095.2,342.4 1096.8,342.4 1098.4,342.4 1100.0,342.4 1101.6,342.4 1103.2,342.4 1104.8,342.4 1106.4,342.4 1108.0,342.4 1109.6,342.4 1111.2,342.4 1112.8,342.4 1114.4,342.4 1116.0,342.5 1117.6,342.5 1119.2,342.5 1120.8,342.5 1122.4,342.5 1124.0,342.5 1125.6,342.5 1127.2,342.5 1128.8,342.5 1130.4,342.5 1132.0,342.5 1133.6,342.5 1135.2,342.5 1136.8,342.5 1138.4,342.5 1140.0,342.5 1141.6,342.5 1143.2,342.5 1144.9,342.5 1146.5,342.5 1148.1,342.5 1149.7,342.5 1151.3,342.5 1152.9,342.5 1154.5,342.5 1156.1,342.6 1157.7,342.6 1159.3,342.6 1160.9,342.6 1162.5,342.6 1164.1,342.6 1165.7,342.6 1167.3,342.6 1168.9,342.6 1170.5,342.6 1172.1,342.6 1173.7,342.6 1175.3,342.6 1176.9,342.6 1178.5,342.6 1180.1,342.6 1181.7,342.6 1183.3,342.6 1184.9,342.6 1186.5,342.6 1188.1,342.6 1189.7,342.6 1191.3,342.6 1192.9,342.6 1194.5,342.6 1196.1,342.6 1197.8,342.6 1199.4,342.6 1201.0,342.6 1202.6,342.6 1204.2,342.6 1205.8,342.6 1207.4,342.6 1209.0,342.6 1210.6,342.6 1212.2,342.6 1213.8,342.6 1215.4,342.6 1217.0,342.6 1218.6,342.6 1220.2,342.6 1221.8,342.6 1223.4,342.6" stroke="#6abd45" stroke-width="9.4" stroke-linecap="butt"/></g>
</g>
<g>
<g stroke="#000" stroke-width="4.3" fill="none" stroke-linecap="butt">
<path d="M1389.5,23.9 V347.6"/>
<path d="M1380.6,345.5 H1872.6"/>
<path d="M1380.6,200.0 H1389.5"/>
<path d="M1380.6,54.5 H1389.5"/>
<path d="M1469.7,345.5 V354.0"/>
<path d="M1630.0,345.5 V354.0"/>
<path d="M1790.2,345.5 V354.0"/>
</g>
<g font-family='"Liberation Sans", "DejaVu Sans", sans-serif' font-weight="700" font-size="24.0" fill="#000">
<text x="1376.5" y="354.0" text-anchor="end">0.0</text>
<text x="1376.5" y="208.5" text-anchor="end">0.5</text>
<text x="1376.5" y="63.0" text-anchor="end">1.0</text>
<text x="1469.7" y="380.5" text-anchor="middle">400</text>
<text x="1630.0" y="380.5" text-anchor="middle">500</text>
<text x="1790.2" y="380.5" text-anchor="middle">600</text>
</g>
<g font-family='"Liberation Sans", "DejaVu Sans", sans-serif' font-size="24.4" fill="#000" stroke="#000" stroke-width="0.35">
<text x="1507.7" y="23.0" textLength="61.8" lengthAdjust="spacingAndGlyphs">mTq2</text>
<text x="1630.5" y="23.0" textLength="146.3" lengthAdjust="spacingAndGlyphs">mNeonGreen</text>
</g>
<clipPath id="c3"><rect x="1387.8" y="-3.7" width="482.9" height="349.9"/></clipPath>
<clipPath id="c3b"><rect x="1387.8" y="-3.7" width="485.1" height="361.2"/></clipPath>
<g fill="none" stroke-linejoin="round" clip-path="url(#c3)"><path d="M1390.0,345.2 1391.6,345.2 1393.2,345.2 1394.8,345.2 1396.4,345.2 1398.0,345.2 1399.6,345.2 1401.2,345.2 1402.8,345.2 1404.4,345.2 1406.0,345.2 1407.6,345.2 1409.2,345.2 1410.8,345.2 1412.4,345.2 1414.0,345.2 1415.6,345.2 1417.2,345.2 1418.8,345.2 1420.4,345.2 1422.0,345.2 1423.6,345.2 1425.2,345.2 1426.8,345.2 1428.4,345.2 1430.0,345.2 1431.6,345.2 1433.2,345.2 1434.8,345.2 1436.4,345.2 1438.0,345.2 1439.6,345.2 1441.2,345.2 1442.8,345.2 1444.4,345.2 1446.0,345.2 1447.6,345.2 1449.2,345.2 1450.8,345.2 1452.4,345.2 1454.0,345.2 1455.6,345.2 1457.2,345.2 1458.8,345.2 1460.4,345.2 1462.0,345.2 1463.6,345.2 1465.2,345.2 1466.8,345.2 1468.4,345.2 1470.0,345.2 1471.6,345.2 1473.2,345.2 1474.8,345.2 1476.4,345.2 1478.0,345.2 1479.6,345.2 1481.2,345.2 1482.8,345.2 1484.5,345.2 1486.1,345.2 1487.7,345.2 1489.3,345.2 1490.9,345.2 1492.5,345.2 1494.1,345.2 1495.7,345.2 1497.3,345.2 1498.9,345.2 1500.5,345.2 1502.1,345.2 1503.7,345.2 1505.3,345.2 1506.9,345.2 1508.5,345.2 1510.1,345.2 1511.7,345.2 1513.3,345.2 1514.9,345.2 1516.5,345.2 1518.1,345.2 1519.7,345.2 1521.3,345.2 1522.9,345.2 1524.5,345.2 1526.1,345.2 1527.7,345.2 1529.3,345.2 1530.9,345.2 1532.5,345.2 1534.1,345.2 1535.7,345.2 1537.3,345.2 1538.9,345.2 1540.5,345.2 1542.1,345.2 1543.7,344.8 1545.3,344.3 1546.9,343.7 1548.5,343.0 1550.1,342.4 1551.7,341.7 1553.3,341.0 1554.9,340.2 1556.5,339.3 1558.1,338.2 1559.7,336.9 1561.3,335.3 1562.9,333.3 1564.5,331.0 1566.1,328.2 1567.7,324.9 1569.3,321.1 1570.9,315.0 1572.5,306.8 1574.1,297.5 1575.7,287.9 1577.3,278.4 1578.9,268.1 1580.5,256.0 1582.1,240.7 1583.7,216.4 1585.3,191.5 1586.9,171.2 1588.5,152.5 1590.1,134.1 1591.7,115.7 1593.3,99.0 1595.0,85.4 1596.6,73.3 1598.2,65.1 1599.8,60.0 1601.4,56.2 1603.0,54.9 1604.6,55.8 1606.2,57.8 1607.8,60.1 1609.4,63.6 1611.0,68.0 1612.6,73.3 1614.2,80.0 1615.8,86.9 1617.4,94.3 1619.0,101.3 1620.6,108.0 1622.2,114.2 1623.8,119.8 1625.4,124.8 1627.0,127.7 1628.6,129.5 1630.2,130.0 1631.8,129.6 1633.4,129.0 1635.0,128.2 1636.6,127.1 1638.2,125.4 1639.8,123.5 1641.4,121.8 1643.0,120.2 1644.6,118.7 1646.2,117.4 1647.8,116.8 1649.4,116.4 1651.0,116.2 1652.6,117.0 1654.2,119.4 1655.8,123.0 1657.4,128.3 1659.0,133.2 1660.6,138.1 1662.2,143.3 1663.8,148.8 1665.4,155.1 1667.0,162.4 1668.6,170.2 1670.2,177.7 1671.8,184.2 1673.4,189.4 1675.0,194.1 1676.6,198.4 1678.2,202.5 1679.8,206.5 1681.4,210.6 1683.0,214.9 1684.6,219.3 1686.2,223.8 1687.8,228.2 1689.4,232.4 1691.0,236.4 1692.6,240.0 1694.2,243.1 1695.8,246.0 1697.4,248.7 1699.0,251.3 1700.6,253.8 1702.2,256.1 1703.8,258.3 1705.5,260.5 1707.1,262.6 1708.7,264.6 1710.3,266.5 1711.9,268.5 1713.5,270.3 1715.1,272.2 1716.7,274.0 1718.3,275.7 1719.9,277.4 1721.5,278.9 1723.1,280.5 1724.7,282.0 1726.3,283.5 1727.9,285.0 1729.5,286.5 1731.1,288.0 1732.7,289.6 1734.3,291.2 1735.9,292.9 1737.5,294.8 1739.1,296.8 1740.7,298.9 1742.3,301.0 1743.9,303.2 1745.5,305.3 1747.1,307.4 1748.7,309.5 1750.3,311.4 1751.9,313.1 1753.5,314.6 1755.1,315.9 1756.7,316.9 1758.3,317.9 1759.9,318.7 1761.5,319.6 1763.1,320.3 1764.7,321.1 1766.3,321.8 1767.9,322.5 1769.5,323.1 1771.1,323.7 1772.7,324.3 1774.3,324.8 1775.9,325.3 1777.5,325.8 1779.1,326.3 1780.7,326.8 1782.3,327.3 1783.9,327.7 1785.5,328.2 1787.1,328.7 1788.7,329.1 1790.3,329.5 1791.9,330.0 1793.5,330.4 1795.1,330.8 1796.7,331.1 1798.3,331.5 1799.9,331.9 1801.5,332.2 1803.1,332.6 1804.7,332.9 1806.3,333.3 1807.9,333.6 1809.5,333.9 1811.1,334.2 1812.7,334.5 1814.3,334.8 1816.0,335.2 1817.6,335.5 1819.2,335.8 1820.8,336.1 1822.4,336.4 1824.0,336.7 1825.6,337.0 1827.2,337.2 1828.8,337.5 1830.4,337.8 1832.0,338.1 1833.6,338.4 1835.2,338.6 1836.8,338.9 1838.4,339.2 1840.0,339.4 1841.6,339.7 1843.2,339.9 1844.8,340.1 1846.4,340.4 1848.0,340.6 1849.6,340.8 1851.2,341.0 1852.8,341.2 1854.4,341.4 1856.0,341.6 1857.6,341.9 1859.2,342.1 1860.8,342.2 1862.4,342.4 1864.0,342.6 1865.6,342.8 1867.2,342.9 1868.8,343.1 1870.4,343.2" stroke="#6dcbde" stroke-width="6.5" stroke-dasharray="12 19.8" stroke-linecap="round"/></g>
<g fill="none" stroke-linejoin="round" clip-path="url(#c3)"><path d="M1387.5,332.7 1389.5,332.7 1391.1,332.6 1392.7,332.5 1394.3,332.3 1395.9,332.2 1397.5,332.0 1399.1,331.8 1400.7,331.6 1402.3,331.4 1403.9,331.1 1405.5,330.9 1407.1,330.6 1408.7,330.3 1410.3,329.9 1411.9,329.6 1413.5,329.2 1415.1,328.9 1416.8,328.5 1418.4,328.2 1420.0,327.9 1421.6,327.6 1423.2,327.3 1424.8,327.0 1426.4,326.6 1428.0,326.1 1429.6,325.4 1431.2,324.6 1432.8,323.7 1434.4,322.7 1436.0,321.7 1437.6,320.5 1439.2,319.3 1440.8,317.9 1442.4,316.3 1444.0,314.5 1445.6,312.4 1447.2,310.0 1448.8,307.5 1450.4,304.9 1452.0,302.0 1453.6,298.9 1455.2,295.6 1456.8,292.1 1458.4,288.6 1460.0,285.0 1461.6,281.2 1463.2,277.3 1464.8,273.2 1466.4,269.1 1468.0,264.7 1469.7,260.2 1471.3,255.6 1472.9,251.0 1474.5,246.5 1476.1,241.9 1477.7,237.3 1479.3,232.7 1480.9,227.9 1482.5,222.8 1484.1,217.6 1485.7,212.3 1487.3,206.9 1488.9,201.5 1490.5,196.2 1492.1,190.8 1493.7,185.4 1495.3,180.0 1496.9,174.6 1498.5,169.4 1500.1,164.5 1501.7,159.6 1503.3,155.0 1504.9,150.6 1506.5,146.5 1508.1,142.6 1509.7,138.6 1511.3,134.5 1512.9,130.4 1514.5,126.1 1516.1,121.1 1517.7,115.3 1519.3,109.1 1520.9,103.1 1522.5,96.9 1524.2,90.7 1525.8,84.4 1527.4,77.9 1529.0,72.0 1530.6,67.2 1532.2,62.8 1533.8,59.4 1535.4,56.8 1537.0,55.0 1538.6,54.4 1540.2,54.1 1541.8,54.8 1543.4,56.4 1545.0,58.5 1546.6,61.2 1548.2,64.3 1549.8,67.9 1551.4,71.3 1553.0,73.9 1554.6,76.1 1556.2,78.1 1557.8,79.5 1559.4,79.8 1561.0,79.4 1562.6,78.8 1564.2,78.0 1565.8,77.2 1567.4,76.2 1569.0,75.2 1570.6,74.5 1572.2,74.5 1573.8,75.7 1575.4,77.4 1577.1,79.5 1578.7,82.3 1580.3,86.3 1581.9,92.5 1583.5,101.0 1585.1,110.8 1586.7,122.9 1588.3,137.0 1589.9,153.9 1591.5,174.2 1593.1,193.5 1594.7,209.9 1596.3,225.6 1597.9,242.3 1599.5,258.2 1601.1,270.9 1602.7,282.0 1604.3,291.8 1605.9,301.1 1607.5,310.2 1609.1,318.1 1610.7,323.6 1612.3,327.8 1613.9,331.3 1615.5,334.1 1617.1,336.2 1618.7,337.7 1620.3,339.0 1621.9,340.2 1623.5,341.2 1625.1,342.0 1626.7,342.6 1628.3,343.1 1630.0,343.5 1631.6,343.9 1633.2,344.2 1634.8,344.3 1636.4,344.5 1638.0,344.6 1639.6,344.7 1641.2,344.7 1642.8,344.8 1644.4,344.9 1646.0,344.9 1647.6,345.0 1649.2,345.0 1650.8,345.1 1652.4,345.1 1654.0,345.1 1655.6,345.2" stroke="#6dcbde" stroke-width="9.4" stroke-linecap="butt"/></g>
<g fill="none" stroke-linejoin="round" clip-path="url(#c3)"><path d="M1578.7,342.6 1580.3,342.6 1581.9,342.6 1583.6,342.5 1585.2,342.5 1586.8,342.4 1588.4,342.3 1590.0,342.2 1591.6,342.1 1593.2,342.0 1594.8,341.9 1596.4,341.7 1598.0,341.6 1599.6,341.4 1601.2,341.2 1602.8,341.0 1604.4,340.7 1606.1,340.5 1607.7,340.2 1609.3,339.8 1610.9,339.1 1612.5,338.1 1614.1,336.8 1615.7,335.3 1617.3,333.4 1618.9,331.3 1620.5,327.6 1622.1,321.3 1623.7,313.5 1625.3,305.3 1626.9,295.4 1628.6,283.7 1630.2,270.4 1631.8,254.6 1633.4,237.0 1635.0,216.5 1636.6,193.9 1638.2,173.2 1639.8,154.3 1641.4,136.6 1643.0,119.8 1644.6,103.5 1646.2,90.3 1647.8,80.7 1649.4,72.6 1651.1,66.3 1652.7,62.2 1654.3,58.9 1655.9,56.6 1657.5,56.2 1659.1,59.4 1660.7,65.4 1662.3,72.1 1663.9,80.0 1665.5,89.9 1667.1,100.5 1668.7,111.2 1670.3,122.6 1671.9,134.4 1673.6,145.3 1675.2,155.4 1676.8,165.2 1678.4,174.4 1680.0,182.6 1681.6,189.6 1683.2,195.9 1684.8,201.6 1686.4,206.9 1688.0,211.6 1689.6,215.9 1691.2,219.8 1692.8,223.5 1694.4,226.9 1696.1,230.1 1697.7,233.1 1699.3,236.0 1700.9,238.8 1702.5,241.6 1704.1,244.3 1705.7,246.9 1707.3,249.4 1708.9,251.7 1710.5,254.1 1712.1,256.3 1713.7,258.6 1715.3,260.9 1717.0,263.3 1718.6,265.7 1720.2,268.2 1721.8,270.8 1723.4,273.6 1725.0,276.4 1726.6,279.4 1728.2,282.3 1729.8,285.1 1731.4,287.9 1733.0,290.6 1734.6,293.0 1736.2,295.3 1737.8,297.4 1739.5,299.3 1741.1,301.2 1742.7,303.0 1744.3,304.7 1745.9,306.4 1747.5,307.9 1749.1,309.4 1750.7,310.8 1752.3,312.2 1753.9,313.4 1755.5,314.6 1757.1,315.7 1758.7,316.8 1760.3,317.8 1762.0,318.8 1763.6,319.8 1765.2,320.8 1766.8,321.7 1768.4,322.5 1770.0,323.3 1771.6,324.1 1773.2,324.9 1774.8,325.6 1776.4,326.3 1778.0,327.0 1779.6,327.6 1781.2,328.2 1782.8,328.8 1784.5,329.3 1786.1,329.9 1787.7,330.4 1789.3,330.9 1790.9,331.4 1792.5,331.9 1794.1,332.3 1795.7,332.8 1797.3,333.2 1798.9,333.6 1800.5,334.0 1802.1,334.3 1803.7,334.7 1805.3,335.0 1807.0,335.4 1808.6,335.7 1810.2,336.1 1811.8,336.4 1813.4,336.7 1815.0,337.0 1816.6,337.3 1818.2,337.6 1819.8,337.8 1821.4,338.1 1823.0,338.3 1824.6,338.6 1826.2,338.8 1827.8,339.0 1829.5,339.1 1831.1,339.3 1832.7,339.5 1834.3,339.6 1835.9,339.8 1837.5,340.0 1839.1,340.1 1840.7,340.3 1842.3,340.4 1843.9,340.6 1845.5,340.7 1847.1,340.9 1848.7,341.0 1850.3,341.1 1852.0,341.2 1853.6,341.4 1855.2,341.5 1856.8,341.6 1858.4,341.6 1860.0,341.7 1861.6,341.8 1863.2,341.9 1864.8,341.9 1866.4,342.0 1868.0,342.0 1869.6,342.0" stroke="#6abd45" stroke-width="6.5" stroke-dasharray="12 19.8" stroke-linecap="round"/></g>
<g fill="none" stroke-linejoin="round" clip-path="url(#c3)"><path d="M1387.5,334.4 1389.5,334.4 1391.1,334.6 1392.7,334.9 1394.3,335.2 1395.9,335.5 1397.5,335.7 1399.1,336.0 1400.7,336.2 1402.3,336.5 1403.9,336.7 1405.5,336.9 1407.1,337.1 1408.7,337.2 1410.3,337.4 1411.9,337.5 1413.5,337.6 1415.1,337.7 1416.7,337.9 1418.3,338.0 1419.9,338.1 1421.5,338.2 1423.1,338.3 1424.7,338.4 1426.3,338.5 1427.9,338.6 1429.5,338.7 1431.1,338.7 1432.7,338.8 1434.3,338.8 1435.9,338.9 1437.5,338.9 1439.1,339.0 1440.7,339.0 1442.3,339.0 1443.9,339.0 1445.5,339.0 1447.1,338.9 1448.7,338.9 1450.3,338.8 1451.9,338.8 1453.5,338.7 1455.1,338.6 1456.7,338.6 1458.3,338.5 1459.9,338.4 1461.5,338.3 1463.1,338.2 1464.7,338.1 1466.3,338.0 1467.9,337.8 1469.5,337.7 1471.1,337.6 1472.7,337.5 1474.3,337.4 1475.9,337.2 1477.5,337.1 1479.1,336.9 1480.7,336.8 1482.3,336.6 1483.9,336.4 1485.5,336.2 1487.1,335.9 1488.7,335.7 1490.3,335.4 1491.9,335.2 1493.5,334.9 1495.1,334.6 1496.7,334.3 1498.3,334.0 1499.9,333.6 1501.5,333.2 1503.1,332.8 1504.7,332.3 1506.3,331.8 1507.9,331.3 1509.5,330.7 1511.1,330.1 1512.7,329.5 1514.3,328.8 1515.9,328.1 1517.5,327.3 1519.1,326.5 1520.7,325.6 1522.3,324.6 1523.9,323.7 1525.5,322.6 1527.1,321.6 1528.7,320.5 1530.3,319.3 1531.9,318.0 1533.5,316.6 1535.1,315.2 1536.7,313.7 1538.3,312.2 1539.9,310.6 1541.5,309.0 1543.1,307.4 1544.7,305.8 1546.3,304.1 1547.9,302.4 1549.5,300.6 1551.1,298.7 1552.7,296.6 1554.3,294.3 1555.9,291.9 1557.5,289.3 1559.1,286.6 1560.7,283.7 1562.3,280.6 1563.9,277.5 1565.5,274.1 1567.1,270.7 1568.7,267.0 1570.3,262.8 1571.9,258.4 1573.6,253.8 1575.2,249.1 1576.8,244.5 1578.4,239.9 1580.0,235.6 1581.6,231.1 1583.2,226.7 1584.8,222.3 1586.4,218.3 1588.0,214.5 1589.6,211.1 1591.2,207.8 1592.8,204.6 1594.4,201.6 1596.0,198.7 1597.6,196.0 1599.2,193.6 1600.8,191.3 1602.4,188.7 1604.0,185.7 1605.6,181.8 1607.2,176.7 1608.8,170.7 1610.4,164.2 1612.0,157.0 1613.6,148.8 1615.2,140.4 1616.8,132.3 1618.4,124.3 1620.0,116.3 1621.6,108.3 1623.2,100.0 1624.8,91.4 1626.4,83.3 1628.0,76.6 1629.6,70.7 1631.2,65.5 1632.8,61.5 1634.4,59.0 1636.0,57.0 1637.6,56.0 1639.2,57.0 1640.8,59.9 1642.4,64.0 1644.0,72.6 1645.6,85.7 1647.2,100.3 1648.8,114.5 1650.4,129.8 1652.0,146.2 1653.6,163.6 1655.2,182.8 1656.8,203.7 1658.4,224.2 1660.0,242.6 1661.6,260.4 1663.2,276.9 1664.8,290.9 1666.4,302.3 1668.0,312.6 1669.6,320.8 1671.2,326.0 1672.8,329.5 1674.4,332.5 1676.0,334.9 1677.6,336.7 1679.2,338.0 1680.8,338.9 1682.4,339.7 1684.0,340.4 1685.6,341.0 1687.2,341.5 1688.8,341.8 1690.4,342.0 1692.0,342.0 1693.6,342.0 1695.2,342.0 1696.8,342.1 1698.4,342.1 1700.0,342.1 1701.6,342.1 1703.2,342.1 1704.8,342.1 1706.4,342.1 1708.0,342.1 1709.6,342.2 1711.2,342.2 1712.8,342.2 1714.4,342.2 1716.0,342.2 1717.6,342.2 1719.2,342.2 1720.8,342.2 1722.4,342.2 1724.0,342.3 1725.6,342.3 1727.2,342.3 1728.8,342.3 1730.4,342.3 1732.0,342.3 1733.6,342.3 1735.2,342.3 1736.8,342.3 1738.4,342.3 1740.0,342.3 1741.6,342.4 1743.2,342.4 1744.8,342.4 1746.4,342.4 1748.0,342.4 1749.6,342.4 1751.2,342.4 1752.8,342.4 1754.4,342.4 1756.0,342.4 1757.6,342.4 1759.2,342.4 1760.8,342.4 1762.4,342.4 1764.0,342.5 1765.6,342.5 1767.2,342.5 1768.8,342.5 1770.4,342.5 1772.0,342.5 1773.6,342.5 1775.2,342.5 1776.8,342.5 1778.4,342.5 1780.0,342.5 1781.6,342.5 1783.2,342.5 1784.8,342.5 1786.4,342.5 1788.0,342.5 1789.6,342.5 1791.2,342.5 1792.8,342.5 1794.4,342.5 1796.0,342.5 1797.6,342.5 1799.2,342.5 1800.8,342.5 1802.4,342.5 1804.0,342.6 1805.6,342.6 1807.2,342.6 1808.8,342.6 1810.4,342.6 1812.0,342.6 1813.6,342.6 1815.2,342.6 1816.8,342.6 1818.4,342.6 1820.0,342.6 1821.6,342.6 1823.2,342.6 1824.8,342.6 1826.4,342.6 1828.0,342.6 1829.6,342.6 1831.2,342.6 1832.8,342.6 1834.4,342.6 1836.0,342.6 1837.6,342.6 1839.2,342.6 1840.8,342.6 1842.4,342.6 1844.0,342.6 1845.6,342.6 1847.2,342.6 1848.8,342.6 1850.4,342.6 1852.0,342.6 1853.6,342.6 1855.2,342.6 1856.8,342.6 1858.4,342.6 1860.0,342.6 1861.6,342.6 1863.2,342.6 1864.8,342.6 1866.4,342.6 1868.0,342.6 1869.6,342.6" stroke="#6abd45" stroke-width="9.4" stroke-linecap="butt"/></g>
</g>
<g>
<g stroke="#000" stroke-width="4.3" fill="none" stroke-linecap="butt">
<path d="M77.6,491.4 V815.1"/>
<path d="M68.7,813.0 H559.1"/>
<path d="M68.7,667.5 H77.6"/>
<path d="M68.7,522.0 H77.6"/>
<path d="M157.5,813.0 V821.5"/>
<path d="M317.3,813.0 V821.5"/>
<path d="M477.1,813.0 V821.5"/>
</g>
<g font-family='"Liberation Sans", "DejaVu Sans", sans-serif' font-weight="700" font-size="24.0" fill="#000">
<text x="64.6" y="821.5" text-anchor="end">0.0</text>
<text x="64.6" y="676.0" text-anchor="end">0.5</text>
<text x="64.6" y="530.5" text-anchor="end">1.0</text>
<text x="157.5" y="848.0" text-anchor="middle">400</text>
<text x="317.3" y="848.0" text-anchor="middle">500</text>
<text x="477.1" y="848.0" text-anchor="middle">600</text>
</g>
<g font-family='"Liberation Sans", "DejaVu Sans", sans-serif' font-size="24.4" fill="#000" stroke="#000" stroke-width="0.35">
<text x="196.0" y="483.5" textLength="61.8" lengthAdjust="spacingAndGlyphs">mTq2</text>
<text x="317.0" y="483.5" textLength="66.7" lengthAdjust="spacingAndGlyphs">SYFP2</text>
</g>
<text transform="translate(24.1,653.4) rotate(-90)" text-anchor="middle" font-family='"Liberation Sans", "DejaVu Sans", sans-serif' font-size="26.1" fill="#000">Normalized Intensity (AU)</text>
<clipPath id="c4"><rect x="75.9" y="463.8" width="481.4" height="349.9"/></clipPath>
<clipPath id="c4b"><rect x="75.9" y="463.8" width="483.6" height="361.2"/></clipPath>
<g fill="none" stroke-linejoin="round" clip-path="url(#c4)"><path d="M265.6,812.2 267.2,812.2 268.8,812.2 270.4,812.2 272.0,812.2 273.6,812.2 275.2,812.2 276.8,812.2 278.4,812.2 280.0,812.1 281.6,812.1 283.2,812.1 284.8,812.1 286.4,812.1 288.0,812.1 289.6,812.0 291.2,812.0 292.8,812.0 294.4,812.0 296.0,811.9 297.6,811.9 299.2,811.9 300.8,811.8 302.4,811.8 304.0,811.7 305.6,811.7 307.2,811.6 308.8,811.6 310.4,811.5 312.0,811.4 313.6,811.4 315.2,811.3 316.8,811.2 318.4,811.2 320.0,811.1 321.6,810.8 323.2,809.6 324.8,807.5 326.4,804.5 328.0,801.0 329.6,797.0 331.2,790.7 332.8,782.1 334.4,771.9 336.0,761.1 337.6,748.6 339.2,734.0 340.8,718.0 342.4,700.1 344.0,679.1 345.6,657.5 347.2,637.7 348.8,618.4 350.4,600.2 352.0,584.3 353.6,569.8 355.2,556.9 356.8,547.1 358.4,539.6 360.0,533.6 361.6,530.3 363.2,528.7 364.8,527.6 366.4,527.4 368.0,529.0 369.6,532.1 371.2,536.1 372.8,543.0 374.4,552.3 376.0,562.7 377.7,574.0 379.3,587.4 380.9,601.3 382.5,613.6 384.1,625.4 385.7,636.4 387.3,645.8 388.9,653.5 390.5,660.4 392.1,666.6 393.7,672.1 395.3,677.1 396.9,681.6 398.5,685.9 400.1,689.8 401.7,693.5 403.3,696.9 404.9,700.1 406.5,703.0 408.1,705.8 409.7,708.4 411.3,710.8 412.9,713.1 414.5,715.3 416.1,717.5 417.7,719.7 419.3,722.0 420.9,724.3 422.5,726.7 424.1,729.1 425.7,731.6 427.3,734.0 428.9,736.4 430.5,738.8 432.1,741.2 433.7,743.4 435.3,745.7 436.9,747.8 438.5,750.0 440.1,752.1 441.7,754.2 443.3,756.2 444.9,758.2 446.5,760.1 448.1,762.0 449.7,763.8 451.3,765.6 452.9,767.4 454.5,769.1 456.1,770.8 457.7,772.4 459.3,774.0 460.9,775.5 462.5,777.0 464.1,778.4 465.7,779.7 467.3,781.1 468.9,782.3 470.5,783.6 472.1,784.8 473.7,786.0 475.3,787.1 476.9,788.2 478.5,789.3 480.1,790.3 481.7,791.2 483.3,792.0 484.9,792.8 486.5,793.6 488.1,794.4 489.7,795.1 491.3,795.8 492.9,796.4 494.5,797.0 496.1,797.6 497.8,798.2 499.4,798.7 501.0,799.3 502.6,799.7 504.2,800.2 505.8,800.7 507.4,801.2 509.0,801.6 510.6,802.0 512.2,802.4 513.8,802.8 515.4,803.2 517.0,803.6 518.6,803.9 520.2,804.3 521.8,804.6 523.4,804.9 525.0,805.1 526.6,805.4 528.2,805.7 529.8,806.0 531.4,806.2 533.0,806.5 534.6,806.7 536.2,807.0 537.8,807.2 539.4,807.4 541.0,807.7 542.6,807.9 544.2,808.1 545.8,808.3 547.4,808.5 549.0,808.7 550.6,808.8 552.2,809.0 553.8,809.1 555.4,809.3 557.0,809.4" stroke="#fde014" stroke-width="6.5" stroke-dasharray="12 19.8" stroke-linecap="round"/></g>
<g fill="none" stroke-linejoin="round" clip-path="url(#c4)"><path d="M75.6,792.0 77.6,792.0 79.2,792.4 80.8,792.8 82.4,793.1 84.0,793.7 85.6,793.4 87.2,793.8 88.8,794.1 90.4,794.5 92.0,795.7 93.6,795.5 95.2,795.8 96.8,796.5 98.4,795.7 100.0,796.3 101.6,795.9 103.2,797.6 104.8,798.1 106.4,797.3 108.0,797.0 109.6,798.9 111.2,799.6 112.8,799.9 114.4,800.2 116.0,799.5 117.5,800.0 119.1,800.3 120.7,801.1 122.3,799.8 123.9,800.9 125.5,802.0 127.1,801.1 128.7,801.2 130.3,801.3 131.9,801.3 133.5,801.4 135.1,801.5 136.7,801.5 138.3,801.6 139.9,801.6 141.5,801.7 143.1,801.7 144.7,801.8 146.3,801.8 147.9,801.9 149.5,801.9 151.1,801.9 152.7,802.0 154.3,802.0 155.9,802.0 157.5,802.0 159.1,802.1 160.7,802.1 162.3,802.1 163.9,802.1 165.5,802.1 167.1,802.1 168.7,802.1 170.3,802.1 171.9,802.1 173.5,802.1 175.1,802.1 176.7,802.1 178.3,802.1 179.9,802.1 181.5,802.1 183.1,802.1 184.7,802.1 186.3,802.1 187.9,802.1 189.5,802.1 191.1,802.1 192.7,802.1 194.3,802.1 195.9,802.1 197.4,802.1 199.0,802.1 200.6,802.1 202.2,802.1 203.8,802.1 205.4,801.9 207.0,801.7 208.6,801.4 210.2,801.0 211.8,800.5 213.4,800.0 215.0,799.5 216.6,799.0 218.2,798.4 219.8,797.9 221.4,797.4 223.0,796.9 224.6,796.5 226.2,796.0 227.8,795.5 229.4,794.9 231.0,794.3 232.6,793.7 234.2,793.1 235.8,792.4 237.4,791.6 239.0,790.8 240.6,789.9 242.2,788.8 243.8,787.5 245.4,786.0 247.0,784.4 248.6,782.7 250.2,780.8 251.8,778.9 253.4,776.9 255.0,774.9 256.6,772.6 258.2,770.1 259.8,767.4 261.4,764.5 263.0,761.6 264.6,758.7 266.2,755.8 267.8,752.8 269.4,749.7 271.0,746.5 272.6,743.3 274.2,740.1 275.8,737.0 277.4,733.9 278.9,730.8 280.5,727.6 282.1,724.4 283.7,721.3 285.3,718.4 286.9,715.8 288.5,713.3 290.1,711.1 291.7,708.9 293.3,706.9 294.9,705.1 296.5,703.4 298.1,702.0 299.7,700.9 301.3,699.9 302.9,698.7 304.5,697.2 306.1,695.0 307.7,692.0 309.3,688.6 310.9,684.7 312.5,679.9 314.1,674.2 315.7,667.9 317.3,661.1 318.9,653.6 320.5,645.3 322.1,636.3 323.7,626.1 325.3,614.8 326.9,603.0 328.5,591.2 330.1,578.7 331.7,566.2 333.3,554.9 334.9,544.8 336.5,535.7 338.1,529.6 339.7,525.4 341.3,523.1 342.9,523.9 344.5,527.1 346.1,534.8 347.7,552.2 349.3,570.1 350.9,589.1 352.5,609.0 354.1,628.6 355.7,648.5 357.2,668.3 358.8,687.1 360.4,704.7 362.0,721.9 363.6,737.4 365.2,750.5 366.8,762.5 368.4,773.1 370.0,781.3 371.6,787.3 373.2,792.6 374.8,797.1 376.4,800.6 378.0,802.8 379.6,804.1 381.2,805.3 382.8,806.3 384.4,807.1 386.0,807.7 387.6,808.2 389.2,808.6 390.8,808.9 392.4,809.2 394.0,809.4 395.6,809.7 397.2,809.9 398.8,810.1 400.4,810.2 402.0,810.3 403.6,810.4 405.2,810.4 406.8,810.4 408.4,810.4 410.0,810.4 411.6,810.4 413.2,810.4 414.8,810.4 416.4,810.4 418.0,810.4 419.6,810.4 421.2,810.4 422.8,810.4 424.4,810.4 426.0,810.4 427.6,810.4 429.2,810.4 430.8,810.4 432.4,810.4 434.0,810.4 435.6,810.4 437.1,810.4 438.7,810.4 440.3,810.4 441.9,810.4 443.5,810.4 445.1,810.4 446.7,810.4 448.3,810.4 449.9,810.4 451.5,810.4 453.1,810.4 454.7,810.4 456.3,810.4 457.9,810.4 459.5,810.4 461.1,810.4 462.7,810.4 464.3,810.4 465.9,810.4 467.5,810.4 469.1,810.4 470.7,810.4 472.3,810.4 473.9,810.4 475.5,810.4 477.1,810.4 478.7,810.4 480.3,810.4 481.9,810.4 483.5,810.4 485.1,810.4 486.7,810.4 488.3,810.4 489.9,810.4 491.5,810.4 493.1,810.4 494.7,810.4 496.3,810.4 497.9,810.4 499.5,810.4 501.1,810.4 502.7,810.4 504.3,810.4 505.9,810.4 507.5,810.4 509.1,810.4 510.7,810.4 512.3,810.4 513.9,810.4 515.5,810.4 517.1,810.4 518.6,810.4 520.2,810.4 521.8,810.4 523.4,810.4 525.0,810.4 526.6,810.4 528.2,810.4 529.8,810.4 531.4,810.4 533.0,810.4 534.6,810.4 536.2,810.4 537.8,810.4 539.4,810.4 541.0,810.4 542.6,810.4 544.2,810.4 545.8,810.4 547.4,810.4 549.0,810.4 550.6,810.4 552.2,810.4 553.8,810.4 555.4,810.4 557.0,810.4" stroke="#fde014" stroke-width="9.4" stroke-linecap="butt"/></g>
<g fill="none" stroke-linejoin="round" clip-path="url(#c4)"><path d="M78.1,812.7 79.7,812.7 81.3,812.7 82.9,812.7 84.4,812.7 86.0,812.7 87.6,812.7 89.2,812.7 90.8,812.7 92.4,812.7 94.0,812.7 95.6,812.7 97.2,812.7 98.8,812.7 100.4,812.7 102.0,812.7 103.6,812.7 105.2,812.7 106.8,812.7 108.4,812.7 110.0,812.7 111.6,812.7 113.2,812.7 114.8,812.7 116.4,812.7 118.0,812.7 119.6,812.7 121.2,812.7 122.8,812.7 124.4,812.7 126.0,812.7 127.6,812.7 129.1,812.7 130.7,812.7 132.3,812.7 133.9,812.7 135.5,812.7 137.1,812.7 138.7,812.7 140.3,812.7 141.9,812.7 143.5,812.7 145.1,812.7 146.7,812.7 148.3,812.7 149.9,812.7 151.5,812.7 153.1,812.7 154.7,812.7 156.3,812.7 157.9,812.7 159.5,812.7 161.1,812.7 162.7,812.7 164.3,812.7 165.9,812.7 167.5,812.7 169.1,812.7 170.7,812.7 172.3,812.7 173.9,812.7 175.4,812.7 177.0,812.7 178.6,812.7 180.2,812.7 181.8,812.7 183.4,812.7 185.0,812.7 186.6,812.7 188.2,812.7 189.8,812.7 191.4,812.7 193.0,812.7 194.6,812.7 196.2,812.7 197.8,812.7 199.4,812.7 201.0,812.7 202.6,812.7 204.2,812.7 205.8,812.7 207.4,812.7 209.0,812.7 210.6,812.7 212.2,812.7 213.8,812.7 215.4,812.7 217.0,812.7 218.6,812.7 220.1,812.7 221.7,812.7 223.3,812.7 224.9,812.7 226.5,812.7 228.1,812.7 229.7,812.7 231.3,812.3 232.9,811.8 234.5,811.2 236.1,810.5 237.7,809.9 239.3,809.2 240.9,808.5 242.5,807.7 244.1,806.8 245.7,805.7 247.3,804.4 248.9,802.8 250.5,800.8 252.1,798.5 253.7,795.7 255.3,792.4 256.9,788.6 258.5,782.5 260.1,774.3 261.7,765.0 263.3,755.4 264.8,745.9 266.4,735.6 268.0,723.5 269.6,708.2 271.2,683.9 272.8,659.0 274.4,638.7 276.0,620.0 277.6,601.6 279.2,583.2 280.8,566.5 282.4,552.9 284.0,540.8 285.6,532.6 287.2,527.5 288.8,523.7 290.4,522.4 292.0,523.3 293.6,525.3 295.2,527.6 296.8,531.1 298.4,535.5 300.0,540.8 301.6,547.5 303.2,554.4 304.8,561.8 306.4,568.8 308.0,575.5 309.5,581.7 311.1,587.3 312.7,592.3 314.3,595.2 315.9,597.0 317.5,597.5 319.1,597.1 320.7,596.5 322.3,595.7 323.9,594.6 325.5,592.9 327.1,591.0 328.7,589.3 330.3,587.7 331.9,586.2 333.5,584.9 335.1,584.3 336.7,583.9 338.3,583.7 339.9,584.5 341.5,586.9 343.1,590.5 344.7,595.8 346.3,600.7 347.9,605.6 349.5,610.8 351.1,616.3 352.7,622.6 354.3,629.9 355.8,637.7 357.4,645.2 359.0,651.7 360.6,656.9 362.2,661.6 363.8,665.9 365.4,670.0 367.0,674.0 368.6,678.1 370.2,682.4 371.8,686.8 373.4,691.3 375.0,695.7 376.6,699.9 378.2,703.9 379.8,707.5 381.4,710.6 383.0,713.5 384.6,716.2 386.2,718.8 387.8,721.3 389.4,723.6 391.0,725.8 392.6,728.0 394.2,730.1 395.8,732.1 397.4,734.0 399.0,736.0 400.5,737.8 402.1,739.7 403.7,741.5 405.3,743.2 406.9,744.9 408.5,746.4 410.1,748.0 411.7,749.5 413.3,751.0 414.9,752.5 416.5,754.0 418.1,755.5 419.7,757.1 421.3,758.7 422.9,760.4 424.5,762.3 426.1,764.3 427.7,766.4 429.3,768.5 430.9,770.7 432.5,772.8 434.1,774.9 435.7,777.0 437.3,778.9 438.9,780.6 440.5,782.1 442.1,783.4 443.7,784.4 445.2,785.4 446.8,786.2 448.4,787.1 450.0,787.8 451.6,788.6 453.2,789.3 454.8,790.0 456.4,790.6 458.0,791.2 459.6,791.8 461.2,792.3 462.8,792.8 464.4,793.3 466.0,793.8 467.6,794.3 469.2,794.8 470.8,795.2 472.4,795.7 474.0,796.2 475.6,796.6 477.2,797.0 478.8,797.5 480.4,797.9 482.0,798.3 483.6,798.6 485.2,799.0 486.8,799.4 488.4,799.7 489.9,800.1 491.5,800.4 493.1,800.8 494.7,801.1 496.3,801.4 497.9,801.7 499.5,802.0 501.1,802.3 502.7,802.7 504.3,803.0 505.9,803.3 507.5,803.6 509.1,803.9 510.7,804.2 512.3,804.5 513.9,804.7 515.5,805.0 517.1,805.3 518.7,805.6 520.3,805.9 521.9,806.1 523.5,806.4 525.1,806.7 526.7,806.9 528.3,807.2 529.9,807.4 531.5,807.6 533.1,807.9 534.6,808.1 536.2,808.3 537.8,808.5 539.4,808.7 541.0,808.9 542.6,809.1 544.2,809.4 545.8,809.6 547.4,809.7 549.0,809.9 550.6,810.1 552.2,810.3 553.8,810.4 555.4,810.6 557.0,810.7" stroke="#6dcbde" stroke-width="6.5" stroke-dasharray="12 19.8" stroke-linecap="round"/></g>
<g fill="none" stroke-linejoin="round" clip-path="url(#c4)"><path d="M75.6,800.2 77.6,800.2 79.2,800.1 80.8,800.0 82.4,799.8 84.0,799.7 85.6,799.5 87.2,799.3 88.8,799.1 90.4,798.9 92.0,798.6 93.6,798.4 95.2,798.1 96.8,797.8 98.4,797.4 100.0,797.1 101.6,796.7 103.2,796.4 104.8,796.0 106.4,795.7 108.0,795.4 109.6,795.1 111.2,794.8 112.8,794.5 114.4,794.1 116.0,793.6 117.5,792.9 119.1,792.1 120.7,791.2 122.3,790.2 123.9,789.2 125.5,788.0 127.1,786.8 128.7,785.4 130.3,783.8 131.9,782.0 133.5,779.9 135.1,777.5 136.7,775.0 138.3,772.4 139.9,769.5 141.5,766.4 143.1,763.1 144.7,759.6 146.3,756.1 147.9,752.5 149.5,748.7 151.1,744.8 152.7,740.7 154.3,736.6 155.9,732.2 157.5,727.7 159.1,723.1 160.7,718.5 162.3,714.0 163.9,709.4 165.5,704.8 167.1,700.2 168.7,695.4 170.3,690.3 171.9,685.1 173.5,679.8 175.1,674.4 176.7,669.0 178.3,663.7 179.9,658.3 181.5,652.9 183.1,647.5 184.7,642.1 186.3,636.9 187.9,632.0 189.5,627.1 191.1,622.5 192.7,618.1 194.3,614.0 195.9,610.1 197.4,606.1 199.0,602.0 200.6,597.9 202.2,593.6 203.8,588.6 205.4,582.8 207.0,576.6 208.6,570.6 210.2,564.4 211.8,558.2 213.4,551.9 215.0,545.4 216.6,539.5 218.2,534.7 219.8,530.3 221.4,526.9 223.0,524.3 224.6,522.5 226.2,521.9 227.8,521.6 229.4,522.3 231.0,523.9 232.6,526.0 234.2,528.7 235.8,531.8 237.4,535.4 239.0,538.8 240.6,541.4 242.2,543.6 243.8,545.6 245.4,547.0 247.0,547.3 248.6,546.9 250.2,546.3 251.8,545.5 253.4,544.7 255.0,543.7 256.6,542.7 258.2,542.0 259.8,542.0 261.4,543.2 263.0,544.9 264.6,547.0 266.2,549.8 267.8,553.8 269.4,560.0 271.0,568.5 272.6,578.3 274.2,590.4 275.8,604.5 277.4,621.4 278.9,641.7 280.5,661.0 282.1,677.4 283.7,693.1 285.3,709.8 286.9,725.7 288.5,738.4 290.1,749.5 291.7,759.3 293.3,768.6 294.9,777.7 296.5,785.6 298.1,791.1 299.7,795.3 301.3,798.8 302.9,801.6 304.5,803.7 306.1,805.2 307.7,806.5 309.3,807.7 310.9,808.7 312.5,809.5 314.1,810.1 315.7,810.6 317.3,811.0 318.9,811.4 320.5,811.7 322.1,811.8 323.7,812.0 325.3,812.1 326.9,812.2 328.5,812.2 330.1,812.3 331.7,812.4 333.3,812.4 334.9,812.5 336.5,812.5 338.1,812.6 339.7,812.6 341.3,812.6 342.9,812.7" stroke="#6dcbde" stroke-width="9.4" stroke-linecap="butt"/></g>
</g>
<g>
<g stroke="#000" stroke-width="4.3" fill="none" stroke-linecap="butt">
<path d="M741.5,491.4 V815.1"/>
<path d="M732.6,813.0 H1224.0"/>
<path d="M732.6,667.5 H741.5"/>
<path d="M732.6,522.0 H741.5"/>
<path d="M815.4,813.0 V821.5"/>
<path d="M963.2,813.0 V821.5"/>
<path d="M1111.0,813.0 V821.5"/>
</g>
<g font-family='"Liberation Sans", "DejaVu Sans", sans-serif' font-weight="700" font-size="24.0" fill="#000">
<text x="728.5" y="821.5" text-anchor="end">0.0</text>
<text x="728.5" y="676.0" text-anchor="end">0.5</text>
<text x="728.5" y="530.5" text-anchor="end">1.0</text>
<text x="815.4" y="848.0" text-anchor="middle">400</text>
<text x="963.2" y="848.0" text-anchor="middle">500</text>
<text x="1111.0" y="848.0" text-anchor="middle">600</text>
</g>
<g font-family='"Liberation Sans", "DejaVu Sans", sans-serif' font-size="24.4" fill="#000" stroke="#000" stroke-width="0.35">
<text x="863.0" y="483.5" textLength="61.8" lengthAdjust="spacingAndGlyphs">mTq2</text>
<text x="974.4" y="483.5" textLength="82.5" lengthAdjust="spacingAndGlyphs">sREACh</text>
</g>
<clipPath id="c5"><rect x="739.8" y="463.8" width="482.3" height="349.9"/></clipPath>
<clipPath id="c5b"><rect x="739.8" y="463.8" width="484.5" height="361.2"/></clipPath>
<g fill="none" stroke-linejoin="round" clip-path="url(#c5)"><path d="M741.9,812.7 743.4,812.7 744.9,812.7 746.4,812.7 747.8,812.7 749.3,812.7 750.8,812.7 752.3,812.7 753.7,812.7 755.2,812.7 756.7,812.7 758.2,812.7 759.6,812.7 761.1,812.7 762.6,812.7 764.1,812.7 765.6,812.7 767.0,812.7 768.5,812.7 770.0,812.7 771.5,812.7 772.9,812.7 774.4,812.7 775.9,812.7 777.4,812.7 778.8,812.7 780.3,812.7 781.8,812.7 783.3,812.7 784.8,812.7 786.2,812.7 787.7,812.7 789.2,812.7 790.7,812.7 792.1,812.7 793.6,812.7 795.1,812.7 796.6,812.7 798.0,812.7 799.5,812.7 801.0,812.7 802.5,812.7 803.9,812.7 805.4,812.7 806.9,812.7 808.4,812.7 809.9,812.7 811.3,812.7 812.8,812.7 814.3,812.7 815.8,812.7 817.2,812.7 818.7,812.7 820.2,812.7 821.7,812.7 823.1,812.7 824.6,812.7 826.1,812.7 827.6,812.7 829.0,812.7 830.5,812.7 832.0,812.7 833.5,812.7 835.0,812.7 836.4,812.7 837.9,812.7 839.4,812.7 840.9,812.7 842.3,812.7 843.8,812.7 845.3,812.7 846.8,812.7 848.2,812.7 849.7,812.7 851.2,812.7 852.7,812.7 854.2,812.7 855.6,812.7 857.1,812.7 858.6,812.7 860.1,812.7 861.5,812.7 863.0,812.7 864.5,812.7 866.0,812.7 867.4,812.7 868.9,812.7 870.4,812.7 871.9,812.7 873.3,812.7 874.8,812.7 876.3,812.7 877.8,812.7 879.3,812.7 880.7,812.7 882.2,812.7 883.7,812.3 885.2,811.8 886.6,811.2 888.1,810.5 889.6,809.9 891.1,809.2 892.5,808.5 894.0,807.7 895.5,806.8 897.0,805.7 898.4,804.4 899.9,802.8 901.4,800.8 902.9,798.5 904.4,795.7 905.8,792.4 907.3,788.6 908.8,782.5 910.3,774.3 911.7,765.0 913.2,755.3 914.7,745.9 916.2,735.6 917.6,723.5 919.1,708.1 920.6,683.8 922.1,658.9 923.6,638.7 925.0,619.9 926.5,601.6 928.0,583.1 929.5,566.5 930.9,552.9 932.4,540.8 933.9,532.5 935.4,527.5 936.8,523.7 938.3,522.4 939.8,523.3 941.3,525.3 942.7,527.7 944.2,531.1 945.7,535.5 947.2,540.9 948.7,547.5 950.1,554.5 951.6,561.8 953.1,568.8 954.6,575.5 956.0,581.7 957.5,587.3 959.0,592.4 960.5,595.2 961.9,597.1 963.4,597.5 964.9,597.1 966.4,596.5 967.8,595.7 969.3,594.5 970.8,592.9 972.3,591.0 973.8,589.3 975.2,587.7 976.7,586.2 978.2,584.9 979.7,584.3 981.1,583.9 982.6,583.7 984.1,584.5 985.6,586.9 987.0,590.5 988.5,595.8 990.0,600.7 991.5,605.7 993.0,610.8 994.4,616.3 995.9,622.6 997.4,629.9 998.9,637.7 1000.3,645.2 1001.8,651.7 1003.3,657.0 1004.8,661.7 1006.2,666.0 1007.7,670.0 1009.2,674.0 1010.7,678.1 1012.1,682.4 1013.6,686.8 1015.1,691.3 1016.6,695.7 1018.1,700.0 1019.5,703.9 1021.0,707.5 1022.5,710.6 1024.0,713.5 1025.4,716.2 1026.9,718.8 1028.4,721.3 1029.9,723.6 1031.3,725.8 1032.8,728.0 1034.3,730.1 1035.8,732.1 1037.2,734.0 1038.7,736.0 1040.2,737.8 1041.7,739.7 1043.2,741.5 1044.6,743.2 1046.1,744.9 1047.6,746.4 1049.1,748.0 1050.5,749.5 1052.0,751.0 1053.5,752.5 1055.0,754.0 1056.4,755.5 1057.9,757.1 1059.4,758.7 1060.9,760.5 1062.4,762.3 1063.8,764.3 1065.3,766.4 1066.8,768.5 1068.3,770.7 1069.7,772.8 1071.2,775.0 1072.7,777.0 1074.2,778.9 1075.6,780.6 1077.1,782.1 1078.6,783.4 1080.1,784.5 1081.5,785.4 1083.0,786.2 1084.5,787.1 1086.0,787.8 1087.5,788.6 1088.9,789.3 1090.4,790.0 1091.9,790.6 1093.4,791.2 1094.8,791.8 1096.3,792.3 1097.8,792.8 1099.3,793.3 1100.7,793.8 1102.2,794.3 1103.7,794.8 1105.2,795.2 1106.6,795.7 1108.1,796.2 1109.6,796.6 1111.1,797.0 1112.6,797.5 1114.0,797.9 1115.5,798.3 1117.0,798.6 1118.5,799.0 1119.9,799.4 1121.4,799.7 1122.9,800.1 1124.4,800.4 1125.8,800.8 1127.3,801.1 1128.8,801.4 1130.3,801.7 1131.8,802.0 1133.2,802.3 1134.7,802.7 1136.2,803.0 1137.7,803.3 1139.1,803.6 1140.6,803.9 1142.1,804.2 1143.6,804.5 1145.0,804.8 1146.5,805.0 1148.0,805.3 1149.5,805.6 1150.9,805.9 1152.4,806.1 1153.9,806.4 1155.4,806.7 1156.9,806.9 1158.3,807.2 1159.8,807.4 1161.3,807.6 1162.8,807.9 1164.2,808.1 1165.7,808.3 1167.2,808.5 1168.7,808.7 1170.1,808.9 1171.6,809.1 1173.1,809.4 1174.6,809.6 1176.1,809.7 1177.5,809.9 1179.0,810.1 1180.5,810.3 1182.0,810.4 1183.4,810.6 1184.9,810.7 1186.4,810.8 1187.9,810.9 1189.3,811.0 1190.8,811.1 1192.3,811.2 1193.8,811.3 1195.2,811.4" stroke="#6dcbde" stroke-width="6.5" stroke-dasharray="12 19.8" stroke-linecap="round"/></g>
<g fill="none" stroke-linejoin="round" clip-path="url(#c5)"><path d="M739.5,800.2 741.5,800.2 743.0,800.1 744.5,800.0 745.9,799.8 747.4,799.7 748.9,799.5 750.4,799.3 751.8,799.1 753.3,798.9 754.8,798.6 756.3,798.4 757.8,798.1 759.2,797.8 760.7,797.4 762.2,797.1 763.7,796.7 765.1,796.4 766.6,796.0 768.1,795.7 769.6,795.4 771.1,795.1 772.5,794.8 774.0,794.5 775.5,794.1 777.0,793.6 778.5,792.9 779.9,792.1 781.4,791.2 782.9,790.2 784.4,789.2 785.8,788.0 787.3,786.8 788.8,785.4 790.3,783.8 791.8,782.0 793.2,779.9 794.7,777.5 796.2,775.0 797.7,772.4 799.1,769.5 800.6,766.4 802.1,763.1 803.6,759.6 805.1,756.1 806.5,752.5 808.0,748.7 809.5,744.8 811.0,740.7 812.4,736.6 813.9,732.2 815.4,727.7 816.9,723.1 818.4,718.5 819.8,714.0 821.3,709.4 822.8,704.8 824.3,700.2 825.7,695.4 827.2,690.3 828.7,685.1 830.2,679.8 831.7,674.4 833.1,669.0 834.6,663.7 836.1,658.3 837.6,652.9 839.0,647.5 840.5,642.1 842.0,636.9 843.5,632.0 845.0,627.1 846.4,622.5 847.9,618.1 849.4,614.0 850.9,610.1 852.4,606.1 853.8,602.0 855.3,597.9 856.8,593.6 858.3,588.6 859.7,582.8 861.2,576.6 862.7,570.6 864.2,564.4 865.7,558.2 867.1,551.9 868.6,545.4 870.1,539.5 871.6,534.7 873.0,530.3 874.5,526.9 876.0,524.3 877.5,522.5 879.0,521.9 880.4,521.6 881.9,522.3 883.4,523.9 884.9,526.0 886.3,528.7 887.8,531.8 889.3,535.4 890.8,538.8 892.3,541.4 893.7,543.6 895.2,545.6 896.7,547.0 898.2,547.3 899.6,546.9 901.1,546.3 902.6,545.5 904.1,544.7 905.6,543.7 907.0,542.7 908.5,542.0 910.0,542.0 911.5,543.2 912.9,544.9 914.4,547.0 915.9,549.8 917.4,553.8 918.9,560.0 920.3,568.5 921.8,578.3 923.3,590.4 924.8,604.5 926.2,621.4 927.7,641.7 929.2,661.0 930.7,677.4 932.2,693.1 933.6,709.8 935.1,725.7 936.6,738.4 938.1,749.5 939.6,759.3 941.0,768.6 942.5,777.7 944.0,785.6 945.5,791.1 946.9,795.3 948.4,798.8 949.9,801.6 951.4,803.7 952.9,805.2 954.3,806.5 955.8,807.7 957.3,808.7 958.8,809.5 960.2,810.1 961.7,810.6 963.2,811.0 964.7,811.4 966.2,811.7 967.6,811.8 969.1,812.0 970.6,812.1 972.1,812.2 973.5,812.2 975.0,812.3 976.5,812.4 978.0,812.4 979.5,812.5 980.9,812.5 982.4,812.6 983.9,812.6 985.4,812.6 986.8,812.7" stroke="#6dcbde" stroke-width="9.4" stroke-linecap="butt"/></g>
<g fill="none" stroke-linejoin="round" clip-path="url(#c5)"><path d="M964.7,797.5 966.2,795.6 967.7,792.5 969.1,788.6 970.6,784.1 972.1,778.9 973.6,772.2 975.1,764.2 976.5,755.1 978.0,744.6 979.5,732.0 981.0,718.0 982.4,703.6 983.9,688.5 985.4,672.4 986.9,656.1 988.4,640.0 989.8,623.3 991.3,606.7 992.8,591.5 994.3,577.9 995.7,564.7 997.2,553.5 998.7,545.6 1000.2,539.7 1001.7,534.8 1003.1,531.5 1004.6,529.8 1006.1,528.6 1007.6,527.7 1009.0,527.0 1010.5,526.8 1012.0,527.7 1013.5,530.8 1015.0,535.4 1016.4,540.3 1017.9,546.9 1019.4,555.3 1020.9,564.2 1022.3,572.4 1023.8,580.7 1025.3,589.0 1026.8,597.2 1028.3,605.0 1029.7,612.1 1031.2,619.0 1032.7,625.7 1034.2,632.2 1035.6,638.2 1037.1,643.8 1038.6,648.8 1040.1,653.5 1041.6,657.8 1043.0,661.9 1044.5,665.8 1046.0,669.4 1047.5,672.9 1048.9,676.2 1050.4,679.3 1051.9,682.2 1053.4,684.9 1054.9,687.5 1056.3,690.0 1057.8,692.4 1059.3,694.8 1060.8,697.3 1062.2,699.8 1063.7,702.4 1065.2,705.1 1066.7,707.9 1068.2,710.7 1069.6,713.5 1071.1,716.4 1072.6,719.3 1074.1,722.1 1075.5,724.9 1077.0,727.6 1078.5,730.3 1080.0,732.8 1081.5,735.4 1082.9,737.9 1084.4,740.4 1085.9,742.9 1087.4,745.3 1088.8,747.7 1090.3,749.9 1091.8,752.1 1093.3,754.2 1094.8,756.2 1096.2,758.2 1097.7,760.1 1099.2,762.0 1100.7,763.9 1102.1,765.6 1103.6,767.3 1105.1,768.9 1106.6,770.4 1108.1,771.8 1109.5,773.1 1111.0,774.4 1112.5,775.6 1114.0,776.7 1115.4,777.8 1116.9,778.9 1118.4,779.9 1119.9,780.9 1121.4,781.8 1122.8,782.8 1124.3,783.6 1125.8,784.5 1127.3,785.3 1128.7,786.1 1130.2,786.9 1131.7,787.7 1133.2,788.4 1134.7,789.1 1136.1,789.9 1137.6,790.5 1139.1,791.2 1140.6,791.8 1142.0,792.5 1143.5,793.1 1145.0,793.7 1146.5,794.2 1148.0,794.8 1149.4,795.3 1150.9,795.9 1152.4,796.4 1153.9,796.9 1155.3,797.3 1156.8,797.8 1158.3,798.2 1159.8,798.7 1161.3,799.1 1162.7,799.5 1164.2,799.9 1165.7,800.3 1167.2,800.7 1168.6,801.1 1170.1,801.5 1171.6,801.9 1173.1,802.3 1174.6,802.7 1176.0,803.0 1177.5,803.4 1179.0,803.8 1180.5,804.2 1181.9,804.5 1183.4,804.9 1184.9,805.2 1186.4,805.5 1187.9,805.8 1189.3,806.1 1190.8,806.4 1192.3,806.6 1193.8,806.8 1195.2,807.0 1196.7,807.2 1198.2,807.4 1199.7,807.6 1201.2,807.8 1202.6,808.0 1204.1,808.1 1205.6,808.3 1207.1,808.5 1208.5,808.6 1210.0,808.8 1211.5,808.9 1213.0,809.0 1214.5,809.2 1215.9,809.3 1217.4,809.4 1218.9,809.4 1220.4,809.5 1221.8,809.5" stroke="#bbbf33" stroke-width="6.5" stroke-dasharray="12 19.8" stroke-linecap="round"/></g>
<g fill="none" stroke-linejoin="round" clip-path="url(#c5)"><path d="M743.5,799.5 745.0,799.8 746.5,800.1 747.9,800.4 749.4,800.6 750.9,800.9 752.4,801.2 753.8,801.5 755.3,801.7 756.8,802.0 758.3,802.2 759.8,802.5 761.2,802.7 762.7,802.9 764.2,803.2 765.7,803.4 767.1,803.6 768.6,803.8 770.1,804.0 771.6,804.1 773.0,804.3 774.5,804.5 776.0,804.6 777.5,804.7 778.9,804.9 780.4,805.0 781.9,805.1 783.4,805.2 784.8,805.3 786.3,805.4 787.8,805.5 789.3,805.6 790.8,805.7 792.2,805.8 793.7,805.9 795.2,806.0 796.7,806.1 798.1,806.1 799.6,806.2 801.1,806.3 802.6,806.4 804.0,806.4 805.5,806.5 807.0,806.5 808.5,806.6 809.9,806.6 811.4,806.7 812.9,806.7 814.4,806.7 815.9,806.7 817.3,806.7 818.8,806.7 820.3,806.7 821.8,806.6 823.2,806.6 824.7,806.5 826.2,806.4 827.7,806.3 829.1,806.1 830.6,806.0 832.1,805.9 833.6,805.7 835.0,805.5 836.5,805.4 838.0,805.2 839.5,805.0 840.9,804.8 842.4,804.6 843.9,804.4 845.4,804.3 846.9,804.1 848.3,803.9 849.8,803.7 851.3,803.4 852.8,803.2 854.2,802.9 855.7,802.7 857.2,802.4 858.7,802.1 860.1,801.8 861.6,801.4 863.1,801.1 864.6,800.7 866.0,800.3 867.5,799.9 869.0,799.4 870.5,798.9 872.0,798.4 873.4,797.7 874.9,797.0 876.4,796.3 877.9,795.5 879.3,794.6 880.8,793.7 882.3,792.8 883.8,791.8 885.2,790.8 886.7,789.8 888.2,788.7 889.7,787.6 891.1,786.3 892.6,785.0 894.1,783.6 895.6,782.2 897.1,780.6 898.5,779.0 900.0,777.3 901.5,775.6 903.0,773.7 904.4,771.7 905.9,769.6 907.4,767.3 908.9,765.0 910.3,762.5 911.8,759.9 913.3,757.3 914.8,754.6 916.2,751.8 917.7,748.9 919.2,745.9 920.7,742.6 922.1,739.2 923.6,735.7 925.1,732.2 926.6,728.8 928.1,725.6 929.5,722.3 931.0,719.1 932.5,715.9 934.0,712.7 935.4,709.7 936.9,706.7 938.4,704.0 939.9,701.3 941.3,698.8 942.8,696.3 944.3,693.8 945.8,691.2 947.2,688.7 948.7,686.3 950.2,684.0 951.7,681.6 953.2,679.0 954.6,676.1 956.1,672.8 957.6,669.0 959.1,664.8 960.5,660.2 962.0,655.1 963.5,649.7 965.0,643.8 966.4,637.4 967.9,629.9 969.4,621.6 970.9,612.8 972.3,603.6 973.8,594.4 975.3,585.3 976.8,575.9 978.3,566.0 979.7,556.1 981.2,547.2 982.7,539.8 984.2,533.0 985.6,527.3 987.1,524.1 988.6,522.5 990.1,522.5 991.5,526.2 993.0,531.7 994.5,540.8 996.0,553.0 997.4,566.7 998.9,580.5 1000.4,595.8 1001.9,612.3 1003.3,629.3 1004.8,646.6 1006.3,665.2 1007.8,683.8 1009.3,700.9 1010.7,716.8 1012.2,732.2 1013.7,746.0 1015.2,757.2 1016.6,766.7 1018.1,775.4 1019.6,783.0 1021.1,789.2 1022.5,793.6 1024.0,796.7 1025.5,799.5 1027.0,801.7 1028.4,803.5 1029.9,804.7 1031.4,805.5 1032.9,806.2 1034.4,806.8 1035.8,807.4 1037.3,807.9 1038.8,808.3 1040.3,808.7 1041.7,808.9 1043.2,809.1 1044.7,809.3 1046.2,809.3 1047.6,809.3 1049.1,809.4 1050.6,809.4 1052.1,809.4 1053.5,809.4 1055.0,809.5 1056.5,809.5 1058.0,809.5 1059.5,809.5 1060.9,809.5 1062.4,809.6 1063.9,809.6 1065.4,809.6 1066.8,809.6 1068.3,809.7 1069.8,809.7 1071.3,809.7 1072.7,809.7 1074.2,809.7 1075.7,809.7 1077.2,809.8 1078.6,809.8 1080.1,809.8 1081.6,809.8 1083.1,809.8 1084.5,809.9 1086.0,809.9 1087.5,809.9 1089.0,809.9 1090.5,809.9 1091.9,809.9 1093.4,809.9 1094.9,810.0 1096.4,810.0 1097.8,810.0 1099.3,810.0 1100.8,810.0 1102.3,810.0 1103.7,810.0 1105.2,810.1 1106.7,810.1 1108.2,810.1 1109.6,810.1 1111.1,810.1 1112.6,810.1 1114.1,810.1 1115.6,810.1 1117.0,810.1 1118.5,810.2 1120.0,810.2 1121.5,810.2 1122.9,810.2 1124.4,810.2 1125.9,810.2 1127.4,810.2 1128.8,810.2 1130.3,810.2 1131.8,810.2 1133.3,810.2 1134.7,810.3 1136.2,810.3 1137.7,810.3 1139.2,810.3 1140.7,810.3 1142.1,810.3 1143.6,810.3 1145.1,810.3 1146.6,810.3 1148.0,810.3 1149.5,810.3 1151.0,810.3 1152.5,810.3 1153.9,810.3 1155.4,810.3 1156.9,810.3 1158.4,810.4 1159.8,810.4 1161.3,810.4 1162.8,810.4 1164.3,810.4 1165.7,810.4 1167.2,810.4 1168.7,810.4 1170.2,810.4 1171.7,810.4 1173.1,810.4 1174.6,810.4 1176.1,810.4 1177.6,810.4 1179.0,810.4 1180.5,810.4 1182.0,810.4 1183.5,810.4 1184.9,810.4 1186.4,810.4 1187.9,810.4 1189.4,810.4 1190.8,810.4 1192.3,810.4 1193.8,810.4 1195.3,810.4 1196.8,810.4 1198.2,810.4 1199.7,810.4 1201.2,810.4 1202.7,810.4 1204.1,810.4 1205.6,810.4 1207.1,810.4 1208.6,810.4 1210.0,810.4 1211.5,810.4 1213.0,810.4 1214.5,810.4 1215.9,810.4 1217.4,810.4 1218.9,810.4 1220.4,810.4 1221.8,810.4" stroke="#bbbf33" stroke-width="9.4" stroke-linecap="butt"/></g>
</g>
<g>
<g stroke="#000" stroke-width="4.3" fill="none" stroke-linecap="butt">
<path d="M1388.5,488.9 V812.6"/>
<path d="M1379.6,810.5 H1870.5"/>
<path d="M1379.6,665.0 H1388.5"/>
<path d="M1379.6,519.5 H1388.5"/>
<path d="M1457.0,810.5 V819.0"/>
<path d="M1594.2,810.5 V819.0"/>
<path d="M1731.2,810.5 V819.0"/>
<path d="M1868.3,810.5 V819.0"/>
</g>
<g font-family='"Liberation Sans", "DejaVu Sans", sans-serif' font-weight="700" font-size="24.0" fill="#000">
<text x="1375.5" y="819.0" text-anchor="end">0.0</text>
<text x="1375.5" y="673.5" text-anchor="end">0.5</text>
<text x="1375.5" y="528.0" text-anchor="end">1.0</text>
<text x="1457.0" y="845.5" text-anchor="middle">400</text>
<text x="1594.2" y="845.5" text-anchor="middle">500</text>
<text x="1731.2" y="845.5" text-anchor="middle">600</text>
<text x="1868.3" y="845.5" text-anchor="middle">700</text>
</g>
<g font-family='"Liberation Sans", "DejaVu Sans", sans-serif' font-size="24.4" fill="#000" stroke="#000" stroke-width="0.35">
<text x="1507.7" y="483.5" textLength="61.8" lengthAdjust="spacingAndGlyphs">mTq2</text>
<text x="1630.5" y="481.3" textLength="102.6" lengthAdjust="spacingAndGlyphs">mOrange</text>
</g>
<clipPath id="c6"><rect x="1386.8" y="461.3" width="481.8" height="349.9"/></clipPath>
<clipPath id="c6b"><rect x="1386.8" y="461.3" width="484.0" height="361.2"/></clipPath>
<g fill="none" stroke-linejoin="round" clip-path="url(#c6)"><path d="M1388.9,810.2 1390.3,810.2 1391.6,810.2 1393.0,810.2 1394.4,810.2 1395.7,810.2 1397.1,810.2 1398.5,810.2 1399.9,810.2 1401.2,810.2 1402.6,810.2 1404.0,810.2 1405.3,810.2 1406.7,810.2 1408.1,810.2 1409.4,810.2 1410.8,810.2 1412.2,810.2 1413.6,810.2 1414.9,810.2 1416.3,810.2 1417.7,810.2 1419.0,810.2 1420.4,810.2 1421.8,810.2 1423.1,810.2 1424.5,810.2 1425.9,810.2 1427.2,810.2 1428.6,810.2 1430.0,810.2 1431.4,810.2 1432.7,810.2 1434.1,810.2 1435.5,810.2 1436.8,810.2 1438.2,810.2 1439.6,810.2 1440.9,810.2 1442.3,810.2 1443.7,810.2 1445.1,810.2 1446.4,810.2 1447.8,810.2 1449.2,810.2 1450.5,810.2 1451.9,810.2 1453.3,810.2 1454.6,810.2 1456.0,810.2 1457.4,810.2 1458.8,810.2 1460.1,810.2 1461.5,810.2 1462.9,810.2 1464.2,810.2 1465.6,810.2 1467.0,810.2 1468.3,810.2 1469.7,810.2 1471.1,810.2 1472.4,810.2 1473.8,810.2 1475.2,810.2 1476.6,810.2 1477.9,810.2 1479.3,810.2 1480.7,810.2 1482.0,810.2 1483.4,810.2 1484.8,810.2 1486.1,810.2 1487.5,810.2 1488.9,810.2 1490.3,810.2 1491.6,810.2 1493.0,810.2 1494.4,810.2 1495.7,810.2 1497.1,810.2 1498.5,810.2 1499.8,810.2 1501.2,810.2 1502.6,810.2 1504.0,810.2 1505.3,810.2 1506.7,810.2 1508.1,810.2 1509.4,810.2 1510.8,810.2 1512.2,810.2 1513.5,810.2 1514.9,810.2 1516.3,810.2 1517.6,810.2 1519.0,810.2 1520.4,809.8 1521.8,809.3 1523.1,808.7 1524.5,808.0 1525.9,807.4 1527.2,806.7 1528.6,806.0 1530.0,805.2 1531.3,804.3 1532.7,803.2 1534.1,801.9 1535.5,800.3 1536.8,798.3 1538.2,796.0 1539.6,793.2 1540.9,789.9 1542.3,786.1 1543.7,780.0 1545.0,771.8 1546.4,762.5 1547.8,752.8 1549.2,743.4 1550.5,733.1 1551.9,721.0 1553.3,705.6 1554.6,681.3 1556.0,656.4 1557.4,636.2 1558.7,617.4 1560.1,599.1 1561.5,580.6 1562.9,564.0 1564.2,550.4 1565.6,538.3 1567.0,530.0 1568.3,525.0 1569.7,521.2 1571.1,519.9 1572.4,520.8 1573.8,522.8 1575.2,525.2 1576.5,528.6 1577.9,533.0 1579.3,538.4 1580.7,545.0 1582.0,552.0 1583.4,559.3 1584.8,566.3 1586.1,573.0 1587.5,579.2 1588.9,584.8 1590.2,589.9 1591.6,592.7 1593.0,594.6 1594.4,595.0 1595.7,594.6 1597.1,594.0 1598.5,593.2 1599.8,592.0 1601.2,590.4 1602.6,588.5 1603.9,586.8 1605.3,585.2 1606.7,583.7 1608.1,582.4 1609.4,581.8 1610.8,581.4 1612.2,581.2 1613.5,582.0 1614.9,584.4 1616.3,588.0 1617.6,593.3 1619.0,598.2 1620.4,603.2 1621.7,608.3 1623.1,613.8 1624.5,620.1 1625.9,627.4 1627.2,635.2 1628.6,642.7 1630.0,649.2 1631.3,654.5 1632.7,659.2 1634.1,663.5 1635.4,667.5 1636.8,671.5 1638.2,675.6 1639.6,679.9 1640.9,684.3 1642.3,688.8 1643.7,693.2 1645.0,697.5 1646.4,701.4 1647.8,705.0 1649.1,708.1 1650.5,711.0 1651.9,713.7 1653.3,716.3 1654.6,718.8 1656.0,721.1 1657.4,723.3 1658.7,725.5 1660.1,727.6 1661.5,729.6 1662.8,731.5 1664.2,733.5 1665.6,735.3 1666.9,737.2 1668.3,739.0 1669.7,740.7 1671.1,742.4 1672.4,743.9 1673.8,745.5 1675.2,747.0 1676.5,748.5 1677.9,750.0 1679.3,751.5 1680.6,753.0 1682.0,754.6 1683.4,756.2 1684.8,758.0 1686.1,759.8 1687.5,761.8 1688.9,763.9 1690.2,766.0 1691.6,768.2 1693.0,770.3 1694.3,772.5 1695.7,774.5 1697.1,776.4 1698.5,778.1 1699.8,779.6 1701.2,780.9 1702.6,782.0 1703.9,782.9 1705.3,783.7 1706.7,784.6 1708.0,785.3 1709.4,786.1 1710.8,786.8 1712.1,787.5 1713.5,788.1 1714.9,788.7 1716.3,789.3 1717.6,789.8 1719.0,790.3 1720.4,790.8 1721.7,791.3 1723.1,791.8 1724.5,792.3 1725.8,792.7 1727.2,793.2 1728.6,793.7 1730.0,794.1 1731.3,794.5 1732.7,795.0 1734.1,795.4 1735.4,795.8 1736.8,796.1 1738.2,796.5 1739.5,796.9 1740.9,797.2 1742.3,797.6 1743.7,797.9 1745.0,798.3 1746.4,798.6 1747.8,798.9 1749.1,799.2 1750.5,799.5 1751.9,799.8 1753.2,800.2 1754.6,800.5 1756.0,800.8 1757.3,801.1 1758.7,801.4 1760.1,801.7 1761.5,802.0 1762.8,802.3 1764.2,802.5 1765.6,802.8 1766.9,803.1 1768.3,803.4 1769.7,803.6 1771.0,803.9 1772.4,804.2 1773.8,804.4 1775.2,804.7 1776.5,804.9 1777.9,805.1 1779.3,805.4 1780.6,805.6 1782.0,805.8 1783.4,806.0 1784.7,806.2 1786.1,806.4 1787.5,806.6 1788.9,806.9 1790.2,807.1 1791.6,807.2 1793.0,807.4 1794.3,807.6 1795.7,807.8 1797.1,807.9 1798.4,808.1 1799.8,808.2 1801.2,808.3 1802.5,808.4 1803.9,808.5 1805.3,808.6 1806.7,808.7 1808.0,808.8 1809.4,808.9" stroke="#6dcbde" stroke-width="6.5" stroke-dasharray="12 19.8" stroke-linecap="round"/></g>
<g fill="none" stroke-linejoin="round" clip-path="url(#c6)"><path d="M1386.5,797.7 1388.5,797.7 1389.9,797.6 1391.2,797.5 1392.6,797.3 1394.0,797.2 1395.4,797.0 1396.7,796.8 1398.1,796.6 1399.5,796.4 1400.8,796.1 1402.2,795.9 1403.6,795.6 1405.0,795.3 1406.3,794.9 1407.7,794.6 1409.1,794.2 1410.4,793.9 1411.8,793.5 1413.2,793.2 1414.5,792.9 1415.9,792.6 1417.3,792.3 1418.7,792.0 1420.0,791.6 1421.4,791.1 1422.8,790.4 1424.1,789.6 1425.5,788.7 1426.9,787.7 1428.3,786.7 1429.6,785.5 1431.0,784.3 1432.4,782.9 1433.7,781.3 1435.1,779.5 1436.5,777.4 1437.9,775.0 1439.2,772.5 1440.6,769.9 1442.0,767.0 1443.3,763.9 1444.7,760.6 1446.1,757.1 1447.5,753.6 1448.8,750.0 1450.2,746.2 1451.6,742.3 1452.9,738.2 1454.3,734.1 1455.7,729.7 1457.0,725.2 1458.4,720.6 1459.8,716.0 1461.2,711.5 1462.5,706.9 1463.9,702.3 1465.3,697.7 1466.6,692.9 1468.0,687.8 1469.4,682.6 1470.8,677.3 1472.1,671.9 1473.5,666.5 1474.9,661.2 1476.2,655.8 1477.6,650.4 1479.0,645.0 1480.4,639.6 1481.7,634.4 1483.1,629.5 1484.5,624.6 1485.8,620.0 1487.2,615.6 1488.6,611.5 1490.0,607.6 1491.3,603.6 1492.7,599.5 1494.1,595.4 1495.4,591.1 1496.8,586.1 1498.2,580.3 1499.6,574.1 1500.9,568.1 1502.3,561.9 1503.7,555.7 1505.0,549.4 1506.4,542.9 1507.8,537.0 1509.1,532.2 1510.5,527.8 1511.9,524.4 1513.3,521.8 1514.6,520.0 1516.0,519.4 1517.4,519.1 1518.7,519.8 1520.1,521.4 1521.5,523.5 1522.9,526.2 1524.2,529.3 1525.6,532.9 1527.0,536.3 1528.3,538.9 1529.7,541.1 1531.1,543.1 1532.5,544.5 1533.8,544.8 1535.2,544.4 1536.6,543.8 1537.9,543.0 1539.3,542.2 1540.7,541.2 1542.1,540.2 1543.4,539.5 1544.8,539.5 1546.2,540.7 1547.5,542.4 1548.9,544.5 1550.3,547.3 1551.6,551.3 1553.0,557.5 1554.4,566.0 1555.8,575.8 1557.1,587.9 1558.5,602.0 1559.9,618.9 1561.2,639.2 1562.6,658.5 1564.0,674.9 1565.4,690.6 1566.7,707.3 1568.1,723.2 1569.5,735.9 1570.8,747.0 1572.2,756.8 1573.6,766.1 1575.0,775.2 1576.3,783.1 1577.7,788.6 1579.1,792.8 1580.4,796.3 1581.8,799.1 1583.2,801.2 1584.6,802.7 1585.9,804.0 1587.3,805.2 1588.7,806.2 1590.0,807.0 1591.4,807.6 1592.8,808.1 1594.2,808.5 1595.5,808.9 1596.9,809.2 1598.3,809.3 1599.6,809.5 1601.0,809.6 1602.4,809.7 1603.7,809.7 1605.1,809.8 1606.5,809.9 1607.9,809.9 1609.2,810.0 1610.6,810.0 1612.0,810.1 1613.3,810.1 1614.7,810.1 1616.1,810.2" stroke="#6dcbde" stroke-width="9.4" stroke-linecap="butt"/></g>
<g fill="none" stroke-linejoin="round" clip-path="url(#c6)"><path d="M1645.7,777.3 1647.1,768.9 1648.5,759.0 1649.9,747.7 1651.2,735.4 1652.6,721.2 1654.0,704.9 1655.3,687.4 1656.7,669.7 1658.1,651.4 1659.5,631.8 1660.8,612.9 1662.2,596.3 1663.6,582.1 1665.0,568.9 1666.3,557.3 1667.7,548.0 1669.1,540.7 1670.4,534.0 1671.8,528.7 1673.2,525.3 1674.6,523.5 1675.9,522.1 1677.3,521.1 1678.7,520.6 1680.0,521.2 1681.4,523.3 1682.8,526.3 1684.2,529.8 1685.5,533.8 1686.9,539.3 1688.3,545.7 1689.6,552.8 1691.0,560.6 1692.4,570.1 1693.8,579.9 1695.1,589.1 1696.5,597.1 1697.9,604.7 1699.2,612.0 1700.6,618.8 1702.0,624.8 1703.4,629.9 1704.7,634.5 1706.1,638.7 1707.5,642.5 1708.9,646.1 1710.2,649.5 1711.6,652.8 1713.0,656.0 1714.3,659.0 1715.7,661.8 1717.1,664.5 1718.5,667.1 1719.8,669.7 1721.2,672.2 1722.6,674.6 1723.9,676.9 1725.3,679.2 1726.7,681.4 1728.1,683.6 1729.4,685.8 1730.8,688.1 1732.2,690.5 1733.5,693.0 1734.9,695.6 1736.3,698.3 1737.7,701.1 1739.0,704.0 1740.4,706.8 1741.8,709.7 1743.1,712.5 1744.5,715.3 1745.9,718.0 1747.3,720.6 1748.6,723.1 1750.0,725.7 1751.4,728.2 1752.7,730.8 1754.1,733.3 1755.5,735.7 1756.9,738.1 1758.2,740.4 1759.6,742.7 1761.0,744.8 1762.4,746.9 1763.7,748.6 1765.1,750.4 1766.5,752.4 1767.8,754.2 1769.2,756.7 1770.6,757.5 1772.0,760.0 1773.3,761.1 1774.7,763.6 1776.1,764.4 1777.4,764.3 1778.8,766.4 1780.2,767.7 1781.6,769.4 1782.9,769.2 1784.3,772.0 1785.7,773.5 1787.0,773.3 1788.4,775.2 1789.8,774.7 1791.2,777.4 1792.5,776.6 1793.9,778.1 1795.3,780.7 1796.6,780.1 1798.0,780.7 1799.4,780.9 1800.8,782.2 1802.1,783.2 1803.5,784.8 1804.9,786.9 1806.2,785.5 1807.6,788.6 1809.0,787.8 1810.4,788.5 1811.7,790.5 1813.1,791.4 1814.5,790.5 1815.9,791.4 1817.2,792.6 1818.6,793.9 1820.0,792.8 1821.3,794.8 1822.7,795.7 1824.1,795.4 1825.5,795.9 1826.8,796.8 1828.2,797.6 1829.6,796.0 1830.9,797.6 1832.3,798.5 1833.7,798.2 1835.1,799.4 1836.4,798.1 1837.8,799.6 1839.2,799.7 1840.5,799.1 1841.9,801.3 1843.3,802.1 1844.7,800.3 1846.0,801.8 1847.4,801.0 1848.8,801.4 1850.1,802.5 1851.5,804.8 1852.9,803.4 1854.3,804.8 1855.6,805.5 1857.0,805.1 1858.4,805.9 1859.8,804.5 1861.1,804.3 1862.5,807.2 1863.9,806.8 1865.2,807.0 1866.6,807.6 1868.0,805.5" stroke="#f26522" stroke-width="6.5" stroke-dasharray="12 19.8" stroke-linecap="round"/></g>
<g fill="none" stroke-linejoin="round" clip-path="url(#c6)"><path d="M1389.6,770.0 1391.0,770.0 1392.3,770.0 1393.7,770.0 1395.1,770.0 1396.5,770.0 1397.8,770.0 1399.2,770.0 1400.6,770.0 1402.0,770.0 1403.3,770.0 1404.7,770.0 1406.1,770.0 1407.4,770.0 1408.8,770.0 1410.2,770.0 1411.6,770.0 1412.9,770.0 1414.3,770.0 1415.7,770.0 1417.0,769.9 1418.4,769.9 1419.8,769.7 1421.2,769.5 1422.5,769.3 1423.9,769.1 1425.3,768.9 1426.7,768.6 1428.0,768.4 1429.4,768.1 1430.8,767.9 1432.1,767.6 1433.5,767.4 1434.9,767.3 1436.3,767.1 1437.6,767.0 1439.0,767.0 1440.4,766.9 1441.7,766.8 1443.1,766.7 1444.5,766.7 1445.9,766.6 1447.2,766.6 1448.6,766.5 1450.0,766.5 1451.3,766.4 1452.7,766.4 1454.1,766.4 1455.5,766.3 1456.8,766.3 1458.2,766.3 1459.6,766.3 1461.0,766.3 1462.3,766.4 1463.7,766.6 1465.1,766.8 1466.4,767.1 1467.8,767.4 1469.2,767.8 1470.6,768.1 1471.9,768.5 1473.3,768.8 1474.7,769.2 1476.0,769.5 1477.4,769.8 1478.8,770.1 1480.2,770.4 1481.5,770.8 1482.9,771.1 1484.3,771.5 1485.7,771.9 1487.0,772.2 1488.4,772.6 1489.8,772.9 1491.1,773.1 1492.5,773.4 1493.9,773.5 1495.3,773.6 1496.6,773.7 1498.0,773.6 1499.4,773.6 1500.7,773.5 1502.1,773.4 1503.5,773.2 1504.9,773.0 1506.2,772.8 1507.6,772.6 1509.0,772.4 1510.3,772.1 1511.7,771.8 1513.1,771.5 1514.5,771.2 1515.8,770.8 1517.2,770.3 1518.6,769.6 1520.0,768.8 1521.3,767.9 1522.7,766.8 1524.1,765.7 1525.4,764.5 1526.8,763.3 1528.2,762.1 1529.6,760.9 1530.9,759.6 1532.3,758.2 1533.7,756.7 1535.0,755.1 1536.4,753.4 1537.8,751.6 1539.2,749.8 1540.5,747.9 1541.9,745.9 1543.3,744.0 1544.6,742.0 1546.0,739.9 1547.4,737.8 1548.8,735.5 1550.1,733.2 1551.5,730.9 1552.9,728.4 1554.3,725.9 1555.6,723.3 1557.0,720.7 1558.4,718.1 1559.7,715.4 1561.1,712.6 1562.5,709.6 1563.9,706.6 1565.2,703.5 1566.6,700.4 1568.0,697.2 1569.3,694.0 1570.7,690.8 1572.1,687.6 1573.5,684.4 1574.8,681.2 1576.2,677.7 1577.6,674.2 1579.0,670.7 1580.3,667.2 1581.7,664.0 1583.1,661.0 1584.4,658.4 1585.8,656.3 1587.2,654.2 1588.6,652.2 1589.9,650.3 1591.3,648.6 1592.7,647.2 1594.0,645.9 1595.4,645.0 1596.8,644.4 1598.2,643.8 1599.5,643.3 1600.9,642.8 1602.3,642.5 1603.6,642.3 1605.0,642.2 1606.4,642.4 1607.8,643.0 1609.1,644.0 1610.5,645.1 1611.9,646.1 1613.3,646.9 1614.6,647.4 1616.0,647.6 1617.4,647.9 1618.7,648.1 1620.1,648.2 1621.5,648.3 1622.9,648.4 1624.2,648.3 1625.6,646.7 1627.0,643.9 1628.3,640.1 1629.7,635.9 1631.1,631.6 1632.5,626.5 1633.8,620.1 1635.2,612.8 1636.6,605.1 1637.9,597.4 1639.3,589.7 1640.7,581.3 1642.1,572.7 1643.4,564.1 1644.8,555.9 1646.2,548.5 1647.6,540.8 1648.9,533.5 1650.3,527.7 1651.7,524.3 1653.0,521.9 1654.4,520.1 1655.8,519.5 1657.2,520.4 1658.5,522.5 1659.9,525.5 1661.3,529.5 1662.6,536.7 1664.0,546.3 1665.4,557.0 1666.8,568.0 1668.1,581.1 1669.5,595.4 1670.9,610.1 1672.3,624.5 1673.6,639.3 1675.0,654.3 1676.4,668.9 1677.7,682.8 1679.1,696.9 1680.5,710.4 1681.9,722.2 1683.2,731.7 1684.6,739.8 1686.0,747.1 1687.3,753.6 1688.7,759.5 1690.1,764.9 1691.5,769.9 1692.8,774.7 1694.2,779.0 1695.6,782.8 1696.9,785.8 1698.3,788.2 1699.7,790.3 1701.1,792.2 1702.4,793.8 1703.8,795.3 1705.2,796.5 1706.6,797.6 1707.9,798.6 1709.3,799.5 1710.7,800.3 1712.0,801.0 1713.4,801.7 1714.8,802.3 1716.2,802.8 1717.5,803.1 1718.9,803.4 1720.3,803.7 1721.6,804.0 1723.0,804.2 1724.4,804.4 1725.8,804.6 1727.1,804.8 1728.5,804.9 1729.9,804.9 1731.2,805.0" stroke="#f26522" stroke-width="9.4" stroke-linecap="butt"/></g>
</g>
<g>
<g stroke="#000" stroke-width="4.3" fill="none" stroke-linecap="butt">
<path d="M77.5,961.8 V1285.6"/>
<path d="M68.6,1283.4 H557.4"/>
<path d="M68.6,1137.9 H77.5"/>
<path d="M68.6,992.4 H77.5"/>
<path d="M145.8,1283.4 V1291.9"/>
<path d="M282.2,1283.4 V1291.9"/>
<path d="M418.8,1283.4 V1291.9"/>
<path d="M555.2,1283.4 V1291.9"/>
</g>
<g font-family='"Liberation Sans", "DejaVu Sans", sans-serif' font-weight="700" font-size="24.0" fill="#000">
<text x="64.5" y="1291.9" text-anchor="end">0.0</text>
<text x="64.5" y="1146.4" text-anchor="end">0.5</text>
<text x="64.5" y="1000.9" text-anchor="end">1.0</text>
<text x="145.8" y="1318.4" text-anchor="middle">400</text>
<text x="282.2" y="1318.4" text-anchor="middle">500</text>
<text x="418.8" y="1318.4" text-anchor="middle">600</text>
<text x="555.2" y="1318.4" text-anchor="middle">700</text>
</g>
<g font-family='"Liberation Sans", "DejaVu Sans", sans-serif' font-size="24.4" fill="#000" stroke="#000" stroke-width="0.35">
<text x="196.0" y="951.6" textLength="61.8" lengthAdjust="spacingAndGlyphs">mTq2</text>
<text x="317.0" y="951.6" textLength="116.0" lengthAdjust="spacingAndGlyphs">mOrange2</text>
</g>
<text transform="translate(24.0,1123.8) rotate(-90)" text-anchor="middle" font-family='"Liberation Sans", "DejaVu Sans", sans-serif' font-size="26.1" fill="#000">Normalized Instensity (AU)</text>
<clipPath id="c7"><rect x="75.8" y="934.2" width="479.7" height="349.9"/></clipPath>
<clipPath id="c7b"><rect x="75.8" y="934.2" width="481.9" height="361.2"/></clipPath>
<g fill="none" stroke-linejoin="round" clip-path="url(#c7)"><path d="M77.9,1283.1 79.3,1283.1 80.6,1283.1 82.0,1283.1 83.4,1283.1 84.7,1283.1 86.1,1283.1 87.4,1283.1 88.8,1283.1 90.2,1283.1 91.5,1283.1 92.9,1283.1 94.3,1283.1 95.6,1283.1 97.0,1283.1 98.4,1283.1 99.7,1283.1 101.1,1283.1 102.4,1283.1 103.8,1283.1 105.2,1283.1 106.5,1283.1 107.9,1283.1 109.3,1283.1 110.6,1283.1 112.0,1283.1 113.4,1283.1 114.7,1283.1 116.1,1283.1 117.4,1283.1 118.8,1283.1 120.2,1283.1 121.5,1283.1 122.9,1283.1 124.3,1283.1 125.6,1283.1 127.0,1283.1 128.4,1283.1 129.7,1283.1 131.1,1283.1 132.4,1283.1 133.8,1283.1 135.2,1283.1 136.5,1283.1 137.9,1283.1 139.3,1283.1 140.6,1283.1 142.0,1283.1 143.4,1283.1 144.7,1283.1 146.1,1283.1 147.4,1283.1 148.8,1283.1 150.2,1283.1 151.5,1283.1 152.9,1283.1 154.3,1283.1 155.6,1283.1 157.0,1283.1 158.4,1283.1 159.7,1283.1 161.1,1283.1 162.4,1283.1 163.8,1283.1 165.2,1283.1 166.5,1283.1 167.9,1283.1 169.3,1283.1 170.6,1283.1 172.0,1283.1 173.4,1283.1 174.7,1283.1 176.1,1283.1 177.4,1283.1 178.8,1283.1 180.2,1283.1 181.5,1283.1 182.9,1283.1 184.3,1283.1 185.6,1283.1 187.0,1283.1 188.4,1283.1 189.7,1283.1 191.1,1283.1 192.4,1283.1 193.8,1283.1 195.2,1283.1 196.5,1283.1 197.9,1283.1 199.3,1283.1 200.6,1283.1 202.0,1283.1 203.4,1283.1 204.7,1283.1 206.1,1283.1 207.4,1283.1 208.8,1282.7 210.2,1282.2 211.5,1281.6 212.9,1280.9 214.3,1280.3 215.6,1279.6 217.0,1278.9 218.4,1278.1 219.7,1277.2 221.1,1276.1 222.4,1274.8 223.8,1273.2 225.2,1271.2 226.5,1268.9 227.9,1266.1 229.3,1262.8 230.6,1259.0 232.0,1252.9 233.4,1244.7 234.7,1235.4 236.1,1225.7 237.4,1216.3 238.8,1206.0 240.2,1193.9 241.5,1178.5 242.9,1154.2 244.3,1129.3 245.6,1109.1 247.0,1090.3 248.4,1072.0 249.7,1053.5 251.1,1036.9 252.5,1023.3 253.8,1011.2 255.2,1002.9 256.5,997.9 257.9,994.1 259.3,992.8 260.6,993.7 262.0,995.7 263.4,998.1 264.7,1001.5 266.1,1005.9 267.5,1011.3 268.8,1017.9 270.2,1024.9 271.5,1032.2 272.9,1039.2 274.3,1045.9 275.6,1052.1 277.0,1057.7 278.4,1062.8 279.7,1065.6 281.1,1067.5 282.5,1067.9 283.8,1067.5 285.2,1066.9 286.5,1066.1 287.9,1064.9 289.3,1063.3 290.6,1061.4 292.0,1059.7 293.4,1058.1 294.7,1056.6 296.1,1055.3 297.5,1054.7 298.8,1054.3 300.2,1054.1 301.5,1054.9 302.9,1057.3 304.3,1060.9 305.6,1066.2 307.0,1071.1 308.4,1076.1 309.7,1081.2 311.1,1086.7 312.5,1093.0 313.8,1100.3 315.2,1108.1 316.5,1115.6 317.9,1122.1 319.3,1127.4 320.6,1132.1 322.0,1136.4 323.4,1140.4 324.7,1144.4 326.1,1148.5 327.5,1152.8 328.8,1157.2 330.2,1161.7 331.5,1166.1 332.9,1170.4 334.3,1174.3 335.6,1177.9 337.0,1181.0 338.4,1183.9 339.7,1186.6 341.1,1189.2 342.5,1191.7 343.8,1194.0 345.2,1196.2 346.5,1198.4 347.9,1200.5 349.3,1202.5 350.6,1204.4 352.0,1206.4 353.4,1208.2 354.7,1210.1 356.1,1211.9 357.5,1213.6 358.8,1215.3 360.2,1216.8 361.5,1218.4 362.9,1219.9 364.3,1221.4 365.6,1222.9 367.0,1224.4 368.4,1225.9 369.7,1227.5 371.1,1229.1 372.5,1230.9 373.8,1232.7 375.2,1234.7 376.5,1236.8 377.9,1238.9 379.3,1241.1 380.6,1243.2 382.0,1245.4 383.4,1247.4 384.7,1249.3 386.1,1251.0 387.5,1252.5 388.8,1253.8 390.2,1254.9 391.5,1255.8 392.9,1256.6 394.3,1257.5 395.6,1258.2 397.0,1259.0 398.4,1259.7 399.7,1260.4 401.1,1261.0 402.5,1261.6 403.8,1262.2 405.2,1262.7 406.6,1263.2 407.9,1263.7 409.3,1264.2 410.6,1264.7 412.0,1265.2 413.4,1265.6 414.7,1266.1 416.1,1266.6 417.5,1267.0 418.8,1267.4 420.2,1267.9 421.6,1268.3 422.9,1268.7 424.3,1269.0 425.6,1269.4 427.0,1269.8 428.4,1270.1 429.7,1270.5 431.1,1270.8 432.5,1271.2 433.8,1271.5 435.2,1271.8 436.6,1272.1 437.9,1272.4 439.3,1272.7 440.6,1273.1 442.0,1273.4 443.4,1273.7 444.7,1274.0 446.1,1274.3 447.5,1274.6 448.8,1274.9 450.2,1275.2 451.6,1275.4 452.9,1275.7 454.3,1276.0 455.6,1276.3 457.0,1276.5 458.4,1276.8 459.7,1277.1 461.1,1277.3 462.5,1277.6 463.8,1277.8 465.2,1278.0 466.6,1278.3 467.9,1278.5 469.3,1278.7 470.6,1278.9 472.0,1279.1 473.4,1279.3 474.7,1279.5 476.1,1279.8 477.5,1280.0 478.8,1280.1 480.2,1280.3 481.6,1280.5 482.9,1280.7 484.3,1280.8 485.6,1281.0 487.0,1281.1 488.4,1281.2 489.7,1281.3 491.1,1281.4 492.5,1281.5 493.8,1281.6 495.2,1281.7 496.6,1281.8" stroke="#6dcbde" stroke-width="6.5" stroke-dasharray="12 19.8" stroke-linecap="round"/></g>
<g fill="none" stroke-linejoin="round" clip-path="url(#c7)"><path d="M75.5,1270.6 77.5,1270.6 78.9,1270.5 80.2,1270.4 81.6,1270.2 83.0,1270.1 84.3,1269.9 85.7,1269.7 87.1,1269.5 88.4,1269.3 89.8,1269.0 91.2,1268.8 92.5,1268.5 93.9,1268.2 95.2,1267.8 96.6,1267.5 98.0,1267.1 99.3,1266.8 100.7,1266.4 102.1,1266.1 103.4,1265.8 104.8,1265.5 106.2,1265.2 107.5,1264.9 108.9,1264.5 110.3,1264.0 111.6,1263.3 113.0,1262.5 114.4,1261.6 115.7,1260.6 117.1,1259.6 118.5,1258.4 119.8,1257.2 121.2,1255.8 122.5,1254.2 123.9,1252.4 125.3,1250.3 126.6,1247.9 128.0,1245.4 129.4,1242.8 130.7,1239.9 132.1,1236.8 133.5,1233.5 134.8,1230.0 136.2,1226.5 137.6,1222.9 138.9,1219.1 140.3,1215.2 141.7,1211.1 143.0,1207.0 144.4,1202.6 145.8,1198.1 147.1,1193.5 148.5,1188.9 149.8,1184.4 151.2,1179.8 152.6,1175.2 153.9,1170.6 155.3,1165.8 156.7,1160.7 158.0,1155.5 159.4,1150.2 160.8,1144.8 162.1,1139.4 163.5,1134.1 164.9,1128.7 166.2,1123.3 167.6,1117.9 169.0,1112.5 170.3,1107.3 171.7,1102.4 173.1,1097.5 174.4,1092.9 175.8,1088.5 177.1,1084.4 178.5,1080.5 179.9,1076.5 181.2,1072.4 182.6,1068.3 184.0,1064.0 185.3,1059.0 186.7,1053.2 188.1,1047.0 189.4,1041.0 190.8,1034.8 192.2,1028.6 193.5,1022.3 194.9,1015.8 196.3,1009.9 197.6,1005.1 199.0,1000.7 200.3,997.3 201.7,994.7 203.1,992.9 204.4,992.3 205.8,992.0 207.2,992.7 208.5,994.3 209.9,996.4 211.3,999.1 212.6,1002.2 214.0,1005.8 215.4,1009.2 216.7,1011.8 218.1,1014.0 219.5,1016.0 220.8,1017.4 222.2,1017.7 223.6,1017.3 224.9,1016.7 226.3,1015.9 227.7,1015.1 229.0,1014.1 230.4,1013.1 231.7,1012.4 233.1,1012.4 234.5,1013.6 235.8,1015.3 237.2,1017.4 238.6,1020.2 239.9,1024.2 241.3,1030.4 242.7,1038.9 244.0,1048.7 245.4,1060.8 246.8,1074.9 248.1,1091.8 249.5,1112.1 250.9,1131.4 252.2,1147.8 253.6,1163.5 254.9,1180.2 256.3,1196.1 257.7,1208.8 259.0,1219.9 260.4,1229.7 261.8,1239.0 263.1,1248.1 264.5,1256.0 265.9,1261.5 267.2,1265.7 268.6,1269.2 270.0,1272.0 271.3,1274.1 272.7,1275.6 274.1,1276.9 275.4,1278.1 276.8,1279.1 278.2,1279.9 279.5,1280.5 280.9,1281.0 282.2,1281.4 283.6,1281.8 285.0,1282.1 286.3,1282.2 287.7,1282.4 289.1,1282.5 290.4,1282.6 291.8,1282.6 293.2,1282.7 294.5,1282.8 295.9,1282.8 297.3,1282.9 298.6,1282.9 300.0,1283.0 301.4,1283.0 302.7,1283.0 304.1,1283.1" stroke="#6dcbde" stroke-width="9.4" stroke-linecap="butt"/></g>
<g fill="none" stroke-linejoin="round" clip-path="url(#c7)"><path d="M333.2,1261.3 334.5,1254.2 335.9,1245.6 337.2,1235.9 338.6,1225.1 340.0,1213.0 341.3,1198.9 342.7,1183.5 344.1,1167.5 345.4,1150.4 346.8,1131.6 348.1,1112.6 349.5,1094.9 350.9,1078.6 352.2,1062.6 353.6,1047.9 355.0,1035.5 356.3,1025.4 357.7,1016.0 359.0,1008.2 360.4,1002.7 361.8,999.6 363.1,997.1 364.5,995.6 365.9,995.5 367.2,996.7 368.6,998.9 369.9,1002.0 371.3,1005.5 372.7,1009.9 374.0,1017.2 375.4,1026.3 376.8,1035.9 378.1,1044.8 379.5,1054.3 380.8,1063.9 382.2,1072.8 383.6,1080.4 384.9,1087.3 386.3,1093.9 387.7,1099.9 389.0,1105.4 390.4,1110.4 391.7,1115.0 393.1,1119.4 394.5,1123.5 395.8,1127.3 397.2,1130.7 398.6,1133.9 399.9,1136.8 401.3,1139.4 402.6,1141.8 404.0,1144.1 405.4,1146.2 406.7,1148.1 408.1,1150.1 409.5,1151.8 410.8,1152.9 412.2,1154.3 413.5,1155.3 414.9,1156.1 416.3,1157.6 417.6,1160.0 419.0,1161.1 420.4,1162.3 421.7,1165.3 423.1,1165.9 424.4,1168.6 425.8,1171.6 427.2,1175.7 428.5,1177.7 429.9,1182.8 431.3,1185.2 432.6,1187.9 434.0,1190.4 435.3,1194.5 436.7,1199.0 438.1,1201.7 439.4,1204.9 440.8,1208.0 442.2,1211.0 443.5,1212.7 444.9,1215.0 446.2,1216.3 447.6,1218.4 449.0,1221.3 450.3,1223.5 451.7,1224.5 453.1,1226.0 454.4,1228.4 455.8,1229.8 457.1,1231.0 458.5,1235.2 459.9,1234.3 461.2,1237.6 462.6,1238.4 464.0,1238.9 465.3,1240.4 466.7,1243.4 468.0,1243.1 469.4,1246.0 470.8,1246.4 472.1,1246.2 473.5,1248.4 474.9,1249.0 476.2,1249.6 477.6,1250.4 478.9,1251.6 480.3,1254.7 481.7,1254.5 483.0,1255.3 484.4,1257.3 485.8,1256.8 487.1,1257.5 488.5,1257.6 489.8,1258.1 491.2,1261.3 492.6,1261.8 493.9,1261.3 495.3,1263.6 496.7,1264.1 498.0,1263.8 499.4,1265.7 500.7,1264.6 502.1,1265.1 503.5,1268.1 504.8,1267.2 506.2,1267.0 507.6,1267.0 508.9,1269.5 510.3,1270.2 511.6,1268.6 513.0,1268.9 514.4,1271.4 515.7,1271.0 517.1,1270.5 518.5,1270.5 519.8,1272.8 521.2,1271.7 522.5,1271.6 523.9,1272.6 525.3,1274.0 526.6,1274.7 528.0,1274.3 529.4,1273.0 530.7,1275.6 532.1,1276.0 533.4,1275.2 534.8,1276.4 536.2,1276.4 537.5,1277.1 538.9,1275.9 540.3,1275.6 541.6,1276.7 543.0,1277.8 544.3,1277.5 545.7,1277.0 547.1,1276.2 548.4,1276.3 549.8,1278.8 551.2,1279.7 552.5,1277.5 553.9,1277.5 555.2,1279.0" stroke="#f26522" stroke-width="6.5" stroke-dasharray="12 19.8" stroke-linecap="round"/></g>
<g fill="none" stroke-linejoin="round" clip-path="url(#c7)"><path d="M75.5,1229.8 77.5,1229.8 78.9,1229.4 80.2,1229.0 81.6,1228.6 83.0,1228.1 84.3,1227.7 85.7,1227.0 87.1,1226.4 88.4,1226.5 89.8,1226.2 91.2,1226.3 92.5,1224.6 93.9,1225.0 95.3,1224.3 96.6,1224.6 98.0,1223.7 99.4,1223.2 100.7,1223.6 102.1,1221.2 103.5,1222.5 104.8,1221.3 106.2,1220.8 107.6,1220.4 108.9,1220.0 110.3,1219.7 111.7,1219.3 113.0,1219.1 114.4,1218.8 115.8,1218.6 117.1,1218.3 118.5,1218.1 119.9,1217.9 121.2,1217.7 122.6,1217.5 124.0,1217.3 125.3,1217.2 126.7,1217.1 128.1,1217.1 129.4,1217.1 130.8,1217.1 132.2,1217.2 133.5,1217.3 134.9,1217.4 136.3,1217.5 137.6,1217.6 139.0,1217.8 140.4,1217.9 141.7,1218.1 143.1,1218.3 144.5,1218.5 145.8,1218.8 147.2,1219.0 148.6,1219.3 149.9,1219.8 151.3,1220.4 152.7,1221.1 154.0,1221.9 155.4,1222.7 156.8,1223.5 158.1,1224.4 159.5,1225.2 160.9,1225.9 162.2,1226.6 163.6,1227.4 165.0,1228.1 166.3,1229.0 167.7,1229.8 169.1,1230.6 170.4,1231.3 171.8,1232.0 173.2,1232.7 174.5,1233.2 175.9,1233.6 177.3,1233.8 178.6,1234.1 180.0,1234.4 181.4,1234.6 182.7,1234.8 184.1,1235.0 185.5,1235.2 186.8,1235.3 188.2,1235.4 189.6,1235.5 190.9,1235.5 192.3,1235.4 193.7,1235.2 195.0,1234.8 196.4,1234.2 197.7,1233.6 199.1,1232.8 200.5,1231.9 201.8,1231.0 203.2,1230.1 204.6,1229.1 205.9,1228.1 207.3,1227.0 208.7,1225.7 210.0,1224.3 211.4,1222.7 212.8,1220.9 214.1,1219.1 215.5,1217.2 216.9,1215.2 218.2,1213.2 219.6,1211.2 221.0,1209.2 222.3,1207.2 223.7,1205.0 225.1,1202.7 226.4,1200.4 227.8,1198.0 229.2,1195.5 230.5,1193.0 231.9,1190.5 233.3,1187.9 234.6,1185.3 236.0,1182.8 237.4,1180.3 238.7,1177.8 240.1,1175.3 241.5,1172.7 242.8,1170.1 244.2,1167.4 245.6,1164.7 246.9,1161.8 248.3,1158.8 249.7,1155.6 251.0,1152.3 252.4,1148.6 253.8,1144.7 255.1,1140.5 256.5,1136.3 257.9,1131.9 259.2,1127.6 260.6,1123.2 262.0,1118.9 263.3,1114.2 264.7,1109.4 266.1,1104.5 267.4,1099.9 268.8,1095.8 270.2,1092.4 271.5,1089.6 272.9,1086.9 274.3,1084.5 275.6,1082.5 277.0,1081.2 278.4,1080.7 279.7,1080.4 281.1,1080.2 282.5,1080.1 283.8,1080.1 285.2,1080.9 286.6,1082.2 287.9,1084.0 289.3,1086.1 290.7,1088.1 292.0,1090.3 293.4,1093.0 294.8,1096.0 296.1,1099.1 297.5,1102.1 298.9,1104.8 300.2,1107.0 301.6,1109.2 303.0,1111.4 304.3,1113.5 305.7,1115.3 307.1,1116.7 308.4,1117.5 309.8,1117.6 311.2,1117.6 312.5,1117.6 313.9,1117.6 315.3,1117.5 316.6,1115.8 318.0,1112.7 319.4,1108.6 320.7,1104.0 322.1,1099.2 323.5,1093.6 324.8,1086.6 326.2,1078.6 327.6,1070.2 328.9,1061.9 330.3,1053.8 331.7,1045.2 333.0,1036.3 334.4,1027.7 335.8,1019.9 337.1,1013.2 338.5,1006.8 339.9,1000.8 341.2,996.2 342.6,994.1 344.0,993.2 345.3,992.6 346.7,992.4 348.1,993.4 349.4,996.5 350.8,1000.7 352.2,1005.6 353.5,1013.0 354.9,1022.5 356.3,1033.2 357.6,1044.3 359.0,1057.0 360.4,1071.1 361.7,1085.6 363.1,1099.9 364.5,1114.6 365.8,1129.5 367.2,1144.1 368.6,1158.0 369.9,1172.0 371.3,1185.7 372.7,1198.0 374.0,1207.9 375.4,1216.6 376.8,1224.6 378.1,1231.8 379.5,1237.7 380.9,1242.2 382.2,1245.5 383.6,1248.4 385.0,1250.9 386.3,1253.1 387.7,1254.9 389.1,1256.5 390.4,1257.7 391.8,1258.7 393.2,1259.7 394.5,1260.6 395.9,1261.4 397.3,1262.1 398.6,1262.8 400.0,1263.4 401.4,1263.9 402.7,1264.4 404.1,1264.8 405.5,1265.1 406.8,1265.3 408.2,1265.6 409.6,1265.9 410.9,1266.1 412.3,1266.3 413.7,1266.5 415.0,1266.6 416.4,1266.7 417.8,1266.8 419.1,1266.8" stroke="#f26522" stroke-width="9.4" stroke-linecap="butt"/></g>
</g>
<g>
<g stroke="#000" stroke-width="4.3" fill="none" stroke-linecap="butt">
<path d="M740.0,961.8 V1285.6"/>
<path d="M731.1,1283.4 H1222.0"/>
<path d="M731.1,1137.9 H740.0"/>
<path d="M731.1,992.4 H740.0"/>
<path d="M808.5,1283.4 V1291.9"/>
<path d="M945.6,1283.4 V1291.9"/>
<path d="M1082.8,1283.4 V1291.9"/>
<path d="M1219.8,1283.4 V1291.9"/>
</g>
<g font-family='"Liberation Sans", "DejaVu Sans", sans-serif' font-weight="700" font-size="24.0" fill="#000">
<text x="727.0" y="1291.9" text-anchor="end">0.0</text>
<text x="727.0" y="1146.4" text-anchor="end">0.5</text>
<text x="727.0" y="1000.9" text-anchor="end">1.0</text>
<text x="808.5" y="1318.4" text-anchor="middle">400</text>
<text x="945.6" y="1318.4" text-anchor="middle">500</text>
<text x="1082.8" y="1318.4" text-anchor="middle">600</text>
<text x="1219.8" y="1318.4" text-anchor="middle">700</text>
</g>
<g font-family='"Liberation Sans", "DejaVu Sans", sans-serif' font-size="24.4" fill="#000" stroke="#000" stroke-width="0.35">
<text x="863.0" y="951.6" textLength="61.8" lengthAdjust="spacingAndGlyphs">mTq2</text>
<text x="973.6" y="950.5" textLength="67.0" lengthAdjust="spacingAndGlyphs">mKO2</text>
</g>
<clipPath id="c8"><rect x="738.3" y="934.2" width="481.8" height="349.9"/></clipPath>
<clipPath id="c8b"><rect x="738.3" y="934.2" width="484.0" height="361.2"/></clipPath>
<g fill="none" stroke-linejoin="round" clip-path="url(#c8)"><path d="M740.4,1283.1 741.8,1283.1 743.1,1283.1 744.5,1283.1 745.9,1283.1 747.2,1283.1 748.6,1283.1 750.0,1283.1 751.4,1283.1 752.7,1283.1 754.1,1283.1 755.5,1283.1 756.8,1283.1 758.2,1283.1 759.6,1283.1 760.9,1283.1 762.3,1283.1 763.7,1283.1 765.1,1283.1 766.4,1283.1 767.8,1283.1 769.2,1283.1 770.5,1283.1 771.9,1283.1 773.3,1283.1 774.6,1283.1 776.0,1283.1 777.4,1283.1 778.7,1283.1 780.1,1283.1 781.5,1283.1 782.9,1283.1 784.2,1283.1 785.6,1283.1 787.0,1283.1 788.3,1283.1 789.7,1283.1 791.1,1283.1 792.4,1283.1 793.8,1283.1 795.2,1283.1 796.6,1283.1 797.9,1283.1 799.3,1283.1 800.7,1283.1 802.0,1283.1 803.4,1283.1 804.8,1283.1 806.1,1283.1 807.5,1283.1 808.9,1283.1 810.3,1283.1 811.6,1283.1 813.0,1283.1 814.4,1283.1 815.7,1283.1 817.1,1283.1 818.5,1283.1 819.8,1283.1 821.2,1283.1 822.6,1283.1 823.9,1283.1 825.3,1283.1 826.7,1283.1 828.1,1283.1 829.4,1283.1 830.8,1283.1 832.2,1283.1 833.5,1283.1 834.9,1283.1 836.3,1283.1 837.6,1283.1 839.0,1283.1 840.4,1283.1 841.8,1283.1 843.1,1283.1 844.5,1283.1 845.9,1283.1 847.2,1283.1 848.6,1283.1 850.0,1283.1 851.3,1283.1 852.7,1283.1 854.1,1283.1 855.5,1283.1 856.8,1283.1 858.2,1283.1 859.6,1283.1 860.9,1283.1 862.3,1283.1 863.7,1283.1 865.0,1283.1 866.4,1283.1 867.8,1283.1 869.1,1283.1 870.5,1283.1 871.9,1282.7 873.3,1282.2 874.6,1281.6 876.0,1280.9 877.4,1280.3 878.7,1279.6 880.1,1278.9 881.5,1278.1 882.8,1277.2 884.2,1276.1 885.6,1274.8 887.0,1273.2 888.3,1271.2 889.7,1268.9 891.1,1266.1 892.4,1262.8 893.8,1259.0 895.2,1252.9 896.5,1244.7 897.9,1235.4 899.3,1225.7 900.7,1216.3 902.0,1206.0 903.4,1193.9 904.8,1178.5 906.1,1154.2 907.5,1129.3 908.9,1109.1 910.2,1090.3 911.6,1072.0 913.0,1053.5 914.4,1036.9 915.7,1023.3 917.1,1011.2 918.5,1002.9 919.8,997.9 921.2,994.1 922.6,992.8 923.9,993.7 925.3,995.7 926.7,998.1 928.0,1001.5 929.4,1005.9 930.8,1011.3 932.2,1017.9 933.5,1024.9 934.9,1032.2 936.3,1039.2 937.6,1045.9 939.0,1052.1 940.4,1057.7 941.7,1062.8 943.1,1065.6 944.5,1067.5 945.9,1067.9 947.2,1067.5 948.6,1066.9 950.0,1066.1 951.3,1064.9 952.7,1063.3 954.1,1061.4 955.4,1059.7 956.8,1058.1 958.2,1056.6 959.6,1055.3 960.9,1054.7 962.3,1054.3 963.7,1054.1 965.0,1054.9 966.4,1057.3 967.8,1060.9 969.1,1066.2 970.5,1071.1 971.9,1076.1 973.2,1081.2 974.6,1086.7 976.0,1093.0 977.4,1100.3 978.7,1108.1 980.1,1115.6 981.5,1122.1 982.8,1127.4 984.2,1132.1 985.6,1136.4 986.9,1140.4 988.3,1144.4 989.7,1148.5 991.1,1152.8 992.4,1157.2 993.8,1161.7 995.2,1166.1 996.5,1170.4 997.9,1174.3 999.3,1177.9 1000.6,1181.0 1002.0,1183.9 1003.4,1186.6 1004.8,1189.2 1006.1,1191.7 1007.5,1194.0 1008.9,1196.2 1010.2,1198.4 1011.6,1200.5 1013.0,1202.5 1014.3,1204.4 1015.7,1206.4 1017.1,1208.2 1018.4,1210.1 1019.8,1211.9 1021.2,1213.6 1022.6,1215.3 1023.9,1216.8 1025.3,1218.4 1026.7,1219.9 1028.0,1221.4 1029.4,1222.9 1030.8,1224.4 1032.1,1225.9 1033.5,1227.5 1034.9,1229.1 1036.3,1230.9 1037.6,1232.7 1039.0,1234.7 1040.4,1236.8 1041.7,1238.9 1043.1,1241.1 1044.5,1243.2 1045.8,1245.4 1047.2,1247.4 1048.6,1249.3 1050.0,1251.0 1051.3,1252.5 1052.7,1253.8 1054.1,1254.9 1055.4,1255.8 1056.8,1256.6 1058.2,1257.5 1059.5,1258.2 1060.9,1259.0 1062.3,1259.7 1063.6,1260.4 1065.0,1261.0 1066.4,1261.6 1067.8,1262.2 1069.1,1262.7 1070.5,1263.2 1071.9,1263.7 1073.2,1264.2 1074.6,1264.7 1076.0,1265.2 1077.3,1265.6 1078.7,1266.1 1080.1,1266.6 1081.5,1267.0 1082.8,1267.4 1084.2,1267.9 1085.6,1268.3 1086.9,1268.7 1088.3,1269.0 1089.7,1269.4 1091.0,1269.8 1092.4,1270.1 1093.8,1270.5 1095.2,1270.8 1096.5,1271.2 1097.9,1271.5 1099.3,1271.8 1100.6,1272.1 1102.0,1272.4 1103.4,1272.7 1104.7,1273.1 1106.1,1273.4 1107.5,1273.7 1108.8,1274.0 1110.2,1274.3 1111.6,1274.6 1113.0,1274.9 1114.3,1275.2 1115.7,1275.4 1117.1,1275.7 1118.4,1276.0 1119.8,1276.3 1121.2,1276.5 1122.5,1276.8 1123.9,1277.1 1125.3,1277.3 1126.7,1277.6 1128.0,1277.8 1129.4,1278.0 1130.8,1278.3 1132.1,1278.5 1133.5,1278.7 1134.9,1278.9 1136.2,1279.1 1137.6,1279.3 1139.0,1279.5 1140.4,1279.8 1141.7,1280.0 1143.1,1280.1 1144.5,1280.3 1145.8,1280.5 1147.2,1280.7 1148.6,1280.8 1149.9,1281.0 1151.3,1281.1 1152.7,1281.2 1154.0,1281.3 1155.4,1281.4 1156.8,1281.5 1158.2,1281.6 1159.5,1281.7 1160.9,1281.8" stroke="#6dcbde" stroke-width="6.5" stroke-dasharray="12 19.8" stroke-linecap="round"/></g>
<g fill="none" stroke-linejoin="round" clip-path="url(#c8)"><path d="M738.0,1270.6 740.0,1270.6 741.4,1270.5 742.7,1270.4 744.1,1270.2 745.5,1270.1 746.9,1269.9 748.2,1269.7 749.6,1269.5 751.0,1269.3 752.3,1269.0 753.7,1268.8 755.1,1268.5 756.5,1268.2 757.8,1267.8 759.2,1267.5 760.6,1267.1 761.9,1266.8 763.3,1266.4 764.7,1266.1 766.0,1265.8 767.4,1265.5 768.8,1265.2 770.2,1264.9 771.5,1264.5 772.9,1264.0 774.3,1263.3 775.6,1262.5 777.0,1261.6 778.4,1260.6 779.8,1259.6 781.1,1258.4 782.5,1257.2 783.9,1255.8 785.2,1254.2 786.6,1252.4 788.0,1250.3 789.4,1247.9 790.7,1245.4 792.1,1242.8 793.5,1239.9 794.8,1236.8 796.2,1233.5 797.6,1230.0 799.0,1226.5 800.3,1222.9 801.7,1219.1 803.1,1215.2 804.4,1211.1 805.8,1207.0 807.2,1202.6 808.5,1198.1 809.9,1193.5 811.3,1188.9 812.7,1184.4 814.0,1179.8 815.4,1175.2 816.8,1170.6 818.1,1165.8 819.5,1160.7 820.9,1155.5 822.3,1150.2 823.6,1144.8 825.0,1139.4 826.4,1134.1 827.7,1128.7 829.1,1123.3 830.5,1117.9 831.9,1112.5 833.2,1107.3 834.6,1102.4 836.0,1097.5 837.3,1092.9 838.7,1088.5 840.1,1084.4 841.5,1080.5 842.8,1076.5 844.2,1072.4 845.6,1068.3 846.9,1064.0 848.3,1059.0 849.7,1053.2 851.1,1047.0 852.4,1041.0 853.8,1034.8 855.2,1028.6 856.5,1022.3 857.9,1015.8 859.3,1009.9 860.6,1005.1 862.0,1000.7 863.4,997.3 864.8,994.7 866.1,992.9 867.5,992.3 868.9,992.0 870.2,992.7 871.6,994.3 873.0,996.4 874.4,999.1 875.7,1002.2 877.1,1005.8 878.5,1009.2 879.8,1011.8 881.2,1014.0 882.6,1016.0 884.0,1017.4 885.3,1017.7 886.7,1017.3 888.1,1016.7 889.4,1015.9 890.8,1015.1 892.2,1014.1 893.6,1013.1 894.9,1012.4 896.3,1012.4 897.7,1013.6 899.0,1015.3 900.4,1017.4 901.8,1020.2 903.1,1024.2 904.5,1030.4 905.9,1038.9 907.3,1048.7 908.6,1060.8 910.0,1074.9 911.4,1091.8 912.7,1112.1 914.1,1131.4 915.5,1147.8 916.9,1163.5 918.2,1180.2 919.6,1196.1 921.0,1208.8 922.3,1219.9 923.7,1229.7 925.1,1239.0 926.5,1248.1 927.8,1256.0 929.2,1261.5 930.6,1265.7 931.9,1269.2 933.3,1272.0 934.7,1274.1 936.1,1275.6 937.4,1276.9 938.8,1278.1 940.2,1279.1 941.5,1279.9 942.9,1280.5 944.3,1281.0 945.6,1281.4 947.0,1281.8 948.4,1282.1 949.8,1282.2 951.1,1282.4 952.5,1282.5 953.9,1282.6 955.2,1282.6 956.6,1282.7 958.0,1282.8 959.4,1282.8 960.7,1282.9 962.1,1282.9 963.5,1283.0 964.8,1283.0 966.2,1283.0 967.6,1283.1" stroke="#6dcbde" stroke-width="9.4" stroke-linecap="butt"/></g>
<g fill="none" stroke-linejoin="round" clip-path="url(#c8)"><path d="M968.5,1255.7 969.9,1257.3 971.2,1258.8 972.6,1260.2 974.0,1261.5 975.4,1262.6 976.7,1263.6 978.1,1264.4 979.5,1264.9 980.9,1265.3 982.2,1265.7 983.6,1266.1 985.0,1266.4 986.4,1266.6 987.7,1266.7 989.1,1266.8 990.5,1266.5 991.8,1266.0 993.2,1265.3 994.6,1264.3 996.0,1263.2 997.3,1261.6 998.7,1258.8 1000.1,1255.2 1001.5,1250.9 1002.8,1245.4 1004.2,1237.9 1005.6,1228.9 1007.0,1218.8 1008.3,1207.2 1009.7,1193.1 1011.1,1177.4 1012.5,1161.1 1013.8,1143.9 1015.2,1125.0 1016.6,1105.8 1017.9,1087.7 1019.3,1071.0 1020.7,1054.3 1022.1,1039.1 1023.4,1027.2 1024.8,1018.7 1026.2,1011.2 1027.6,1005.2 1028.9,1001.4 1030.3,999.8 1031.7,998.5 1033.1,997.7 1034.4,997.2 1035.8,997.6 1037.2,999.3 1038.5,1002.0 1039.9,1005.3 1041.3,1009.8 1042.7,1017.4 1044.0,1026.9 1045.4,1036.5 1046.8,1045.5 1048.2,1055.0 1049.5,1064.6 1050.9,1073.5 1052.3,1081.5 1053.7,1089.3 1055.0,1096.6 1056.4,1103.4 1057.8,1109.6 1059.2,1114.8 1060.5,1119.5 1061.9,1123.8 1063.3,1127.8 1064.6,1131.5 1066.0,1134.9 1067.4,1138.1 1068.8,1140.9 1070.1,1143.6 1071.5,1146.1 1072.9,1148.4 1074.3,1150.6 1075.6,1152.7 1077.0,1154.8 1078.4,1156.8 1079.8,1158.8 1081.1,1160.8 1082.5,1162.6 1083.9,1164.3 1085.2,1166.1 1086.6,1167.8 1088.0,1169.6 1089.4,1171.5 1090.7,1173.5 1092.1,1175.7 1093.5,1177.8 1094.9,1180.1 1096.2,1182.4 1097.6,1184.7 1099.0,1187.1 1100.4,1189.6 1101.7,1192.1 1103.1,1194.7 1104.5,1197.5 1105.8,1200.3 1107.2,1203.2 1108.6,1206.1 1110.0,1209.0 1111.3,1211.9 1112.7,1214.7 1114.1,1217.3 1115.5,1219.8 1116.8,1222.2 1118.2,1224.6 1119.6,1226.9 1121.0,1229.2 1122.3,1231.4 1123.7,1233.6 1125.1,1235.6 1126.5,1237.6 1127.8,1239.4 1129.2,1241.1 1130.6,1242.7 1131.9,1244.1 1133.3,1245.5 1134.7,1246.8 1136.1,1248.0 1137.4,1249.2 1138.8,1250.3 1140.2,1251.4 1141.6,1252.7 1142.9,1253.7 1144.3,1254.3 1145.7,1254.9 1147.1,1256.9 1148.4,1257.3 1149.8,1257.3 1151.2,1258.9 1152.5,1259.9 1153.9,1261.0 1155.3,1262.2 1156.7,1262.7 1158.0,1262.4 1159.4,1263.1 1160.8,1263.7 1162.2,1265.1 1163.5,1264.0 1164.9,1264.7 1166.3,1266.4 1167.7,1266.1 1169.0,1266.6 1170.4,1268.3 1171.8,1269.4 1173.2,1269.7 1174.5,1270.3 1175.9,1270.3 1177.3,1271.9 1178.6,1271.6 1180.0,1271.3 1181.4,1272.1 1182.8,1272.2 1184.1,1272.0 1185.5,1271.8 1186.9,1274.0 1188.3,1274.5 1189.6,1274.2 1191.0,1274.2 1192.4,1275.7 1193.8,1276.5 1195.1,1276.3 1196.5,1276.5 1197.9,1276.3 1199.2,1276.0 1200.6,1277.2 1202.0,1275.6 1203.4,1276.1 1204.7,1277.1 1206.1,1278.2 1207.5,1278.9 1208.9,1277.8 1210.2,1277.8 1211.6,1279.9 1213.0,1278.1 1214.4,1277.9 1215.7,1278.9 1217.1,1278.8 1218.5,1278.5 1219.8,1278.4" stroke="#f26522" stroke-width="6.5" stroke-dasharray="12 19.8" stroke-linecap="round"/></g>
<g fill="none" stroke-linejoin="round" clip-path="url(#c8)"><path d="M738.7,1257.5 740.7,1257.5 742.1,1258.3 743.5,1259.0 744.9,1259.7 746.2,1260.4 747.6,1261.0 749.0,1261.7 750.3,1262.3 751.7,1262.9 753.1,1263.4 754.5,1263.9 755.8,1264.3 757.2,1264.7 758.6,1265.0 760.0,1265.2 761.3,1265.5 762.7,1265.8 764.1,1266.0 765.4,1266.2 766.8,1266.4 768.2,1266.7 769.6,1266.9 770.9,1267.1 772.3,1267.2 773.7,1267.4 775.1,1267.6 776.4,1267.7 777.8,1267.9 779.2,1268.0 780.5,1268.1 781.9,1268.2 783.3,1268.3 784.7,1268.4 786.0,1268.5 787.4,1268.6 788.8,1268.7 790.2,1268.7 791.5,1268.8 792.9,1268.9 794.3,1268.9 795.6,1269.0 797.0,1269.1 798.4,1269.1 799.8,1269.2 801.1,1269.2 802.5,1269.3 803.9,1269.3 805.3,1269.4 806.6,1269.4 808.0,1269.5 809.4,1269.5 810.8,1269.5 812.1,1269.6 813.5,1269.6 814.9,1269.6 816.2,1269.7 817.6,1269.7 819.0,1269.7 820.4,1269.7 821.7,1269.7 823.1,1269.7 824.5,1269.7 825.9,1269.7 827.2,1269.7 828.6,1269.7 830.0,1269.7 831.3,1269.7 832.7,1269.7 834.1,1269.7 835.5,1269.7 836.8,1269.7 838.2,1269.7 839.6,1269.7 841.0,1269.7 842.3,1269.7 843.7,1269.7 845.1,1269.7 846.4,1269.7 847.8,1269.7 849.2,1269.7 850.6,1269.7 851.9,1269.7 853.3,1269.7 854.7,1269.7 856.1,1269.7 857.4,1269.7 858.8,1269.7 860.2,1269.7 861.5,1269.7 862.9,1269.7 864.3,1269.6 865.7,1269.5 867.0,1269.4 868.4,1269.2 869.8,1269.0 871.2,1268.8 872.5,1268.5 873.9,1268.2 875.3,1267.9 876.6,1267.6 878.0,1267.3 879.4,1266.9 880.8,1266.6 882.1,1266.2 883.5,1265.7 884.9,1265.2 886.3,1264.6 887.6,1264.0 889.0,1263.3 890.4,1262.6 891.7,1261.8 893.1,1261.0 894.5,1260.1 895.9,1259.3 897.2,1258.4 898.6,1257.5 900.0,1256.5 901.4,1255.4 902.7,1254.2 904.1,1252.9 905.5,1251.5 906.8,1250.1 908.2,1248.6 909.6,1247.0 911.0,1245.5 912.3,1243.8 913.7,1242.2 915.1,1240.5 916.5,1238.7 917.8,1236.8 919.2,1234.9 920.6,1232.9 921.9,1230.8 923.3,1228.6 924.7,1226.4 926.1,1224.0 927.4,1221.6 928.8,1219.0 930.2,1216.2 931.6,1213.1 932.9,1209.9 934.3,1206.6 935.7,1203.2 937.0,1199.7 938.4,1196.3 939.8,1192.8 941.2,1189.1 942.5,1185.3 943.9,1181.5 945.3,1177.6 946.7,1173.8 948.0,1170.2 949.4,1166.8 950.8,1163.6 952.2,1160.3 953.5,1157.0 954.9,1153.8 956.3,1151.0 957.6,1148.6 959.0,1147.0 960.4,1145.9 961.8,1144.9 963.1,1144.1 964.5,1143.5 965.9,1143.1 967.3,1143.2 968.6,1144.0 970.0,1145.5 971.4,1147.0 972.7,1148.2 974.1,1148.6 975.5,1148.6 976.9,1148.4 978.2,1148.2 979.6,1147.9 981.0,1147.6 982.4,1147.0 983.7,1145.6 985.1,1143.4 986.5,1140.8 987.8,1137.8 989.2,1134.6 990.6,1130.5 992.0,1125.4 993.3,1119.6 994.7,1113.2 996.1,1106.4 997.5,1099.0 998.8,1090.6 1000.2,1081.4 1001.6,1071.8 1002.9,1062.1 1004.3,1052.3 1005.7,1041.7 1007.1,1031.1 1008.4,1021.3 1009.8,1012.8 1011.2,1004.3 1012.6,997.7 1013.9,994.7 1015.3,993.3 1016.7,992.5 1018.0,993.1 1019.4,996.4 1020.8,1001.5 1022.2,1007.5 1023.5,1016.3 1024.9,1028.4 1026.3,1042.3 1027.7,1056.4 1029.0,1071.9 1030.4,1089.0 1031.8,1106.3 1033.1,1122.6 1034.5,1138.2 1035.9,1153.4 1037.3,1167.8 1038.6,1181.0 1040.0,1193.6 1041.4,1205.5 1042.8,1216.2 1044.1,1224.7 1045.5,1231.8 1046.9,1238.1 1048.2,1243.8 1049.6,1248.6 1051.0,1252.7 1052.4,1256.2 1053.7,1259.4 1055.1,1262.3 1056.5,1264.9 1057.9,1267.1 1059.2,1269.0 1060.6,1270.4 1062.0,1271.6 1063.3,1272.6 1064.7,1273.6 1066.1,1274.4 1067.5,1275.2 1068.8,1275.8 1070.2,1276.3 1071.6,1276.7 1073.0,1277.1 1074.3,1277.4 1075.7,1277.7 1077.1,1278.1 1078.4,1278.3 1079.8,1278.6 1081.2,1278.8 1082.6,1279.1 1083.9,1279.3 1085.3,1279.4 1086.7,1279.5 1088.1,1279.6 1089.4,1279.7 1090.8,1279.7 1092.2,1279.7 1093.6,1279.8 1094.9,1279.8 1096.3,1279.8 1097.7,1279.8 1099.0,1279.8 1100.4,1279.8 1101.8,1279.9 1103.2,1279.9 1104.5,1279.9 1105.9,1279.9 1107.3,1279.9 1108.7,1279.9 1110.0,1280.0 1111.4,1280.0 1112.8,1280.0 1114.1,1280.0 1115.5,1280.0 1116.9,1280.0 1118.3,1280.0 1119.6,1280.1 1121.0,1280.1 1122.4,1280.1 1123.8,1280.1 1125.1,1280.1 1126.5,1280.1 1127.9,1280.1 1129.2,1280.1 1130.6,1280.2 1132.0,1280.2 1133.4,1280.2 1134.7,1280.2 1136.1,1280.2 1137.5,1280.2 1138.9,1280.2 1140.2,1280.2 1141.6,1280.2 1143.0,1280.2 1144.3,1280.2 1145.7,1280.3 1147.1,1280.3 1148.5,1280.3 1149.8,1280.3 1151.2,1280.3 1152.6,1280.3 1154.0,1280.3 1155.3,1280.3 1156.7,1280.3 1158.1,1280.3 1159.4,1280.3 1160.8,1280.3 1162.2,1280.3 1163.6,1280.3 1164.9,1280.4 1166.3,1280.4 1167.7,1280.4 1169.1,1280.4 1170.4,1280.4 1171.8,1280.4 1173.2,1280.4 1174.5,1280.4 1175.9,1280.4 1177.3,1280.4 1178.7,1280.4 1180.0,1280.4 1181.4,1280.4 1182.8,1280.4 1184.2,1280.4 1185.5,1280.4 1186.9,1280.4 1188.3,1280.4 1189.6,1280.4 1191.0,1280.4 1192.4,1280.4 1193.8,1280.4 1195.1,1280.4 1196.5,1280.4 1197.9,1280.4 1199.3,1280.4 1200.6,1280.4 1202.0,1280.4 1203.4,1280.4 1204.7,1280.4 1206.1,1280.4 1207.5,1280.4 1208.9,1280.4 1210.2,1280.4 1211.6,1280.4 1213.0,1280.4 1214.4,1280.4 1215.7,1280.4 1217.1,1280.4 1218.5,1280.4 1219.8,1280.4" stroke="#f26522" stroke-width="9.4" stroke-linecap="butt"/></g>
</g>
<g>
<g stroke="#000" stroke-width="4.3" fill="none" stroke-linecap="butt">
<path d="M1388.5,961.8 V1285.6"/>
<path d="M1379.6,1283.4 H1868.1"/>
<path d="M1379.6,1137.9 H1388.5"/>
<path d="M1379.6,992.4 H1388.5"/>
<path d="M1456.7,1283.4 V1291.9"/>
<path d="M1593.1,1283.4 V1291.9"/>
<path d="M1729.5,1283.4 V1291.9"/>
<path d="M1865.9,1283.4 V1291.9"/>
</g>
<g font-family='"Liberation Sans", "DejaVu Sans", sans-serif' font-weight="700" font-size="24.0" fill="#000">
<text x="1375.5" y="1291.9" text-anchor="end">0.0</text>
<text x="1375.5" y="1146.4" text-anchor="end">0.5</text>
<text x="1375.5" y="1000.9" text-anchor="end">1.0</text>
<text x="1456.7" y="1318.4" text-anchor="middle">400</text>
<text x="1593.1" y="1318.4" text-anchor="middle">500</text>
<text x="1729.5" y="1318.4" text-anchor="middle">600</text>
<text x="1865.9" y="1318.4" text-anchor="middle">700</text>
</g>
<g font-family='"Liberation Sans", "DejaVu Sans", sans-serif' font-size="24.4" fill="#000" stroke="#000" stroke-width="0.35">
<text x="1507.7" y="951.6" textLength="61.8" lengthAdjust="spacingAndGlyphs">mTq2</text>
<text x="1630.5" y="954.0" textLength="66.2" lengthAdjust="spacingAndGlyphs">mKOκ</text>
</g>
<clipPath id="c9"><rect x="1386.8" y="934.2" width="479.4" height="349.9"/></clipPath>
<clipPath id="c9b"><rect x="1386.8" y="934.2" width="481.6" height="361.2"/></clipPath>
<g fill="none" stroke-linejoin="round" clip-path="url(#c9b)"><path d="M1388.9,1283.1 1390.3,1283.1 1391.6,1283.1 1393.0,1283.1 1394.3,1283.1 1395.7,1283.1 1397.1,1283.1 1398.4,1283.1 1399.8,1283.1 1401.2,1283.1 1402.5,1283.1 1403.9,1283.1 1405.2,1283.1 1406.6,1283.1 1408.0,1283.1 1409.3,1283.1 1410.7,1283.1 1412.1,1283.1 1413.4,1283.1 1414.8,1283.1 1416.2,1283.1 1417.5,1283.1 1418.9,1283.1 1420.2,1283.1 1421.6,1283.1 1423.0,1283.1 1424.3,1283.1 1425.7,1283.1 1427.1,1283.1 1428.4,1283.1 1429.8,1283.1 1431.1,1283.1 1432.5,1283.1 1433.9,1283.1 1435.2,1283.1 1436.6,1283.1 1438.0,1283.1 1439.3,1283.1 1440.7,1283.1 1442.0,1283.1 1443.4,1283.1 1444.8,1283.1 1446.1,1283.1 1447.5,1283.1 1448.9,1283.1 1450.2,1283.1 1451.6,1283.1 1452.9,1283.1 1454.3,1283.1 1455.7,1283.1 1457.0,1283.1 1458.4,1283.1 1459.8,1283.1 1461.1,1283.1 1462.5,1283.1 1463.8,1283.1 1465.2,1283.1 1466.6,1283.1 1467.9,1283.1 1469.3,1283.1 1470.7,1283.1 1472.0,1283.1 1473.4,1283.1 1474.7,1283.1 1476.1,1283.1 1477.5,1283.1 1478.8,1283.1 1480.2,1283.1 1481.6,1283.1 1482.9,1283.1 1484.3,1283.1 1485.6,1283.1 1487.0,1283.1 1488.4,1283.1 1489.7,1283.1 1491.1,1283.1 1492.5,1283.1 1493.8,1283.1 1495.2,1283.1 1496.6,1283.1 1497.9,1283.1 1499.3,1283.1 1500.6,1283.1 1502.0,1283.1 1503.4,1283.1 1504.7,1283.1 1506.1,1283.1 1507.5,1283.1 1508.8,1283.1 1510.2,1283.1 1511.5,1283.1 1512.9,1283.1 1514.3,1283.1 1515.6,1283.1 1517.0,1283.1 1518.4,1283.1 1519.7,1282.7 1521.1,1282.2 1522.4,1281.6 1523.8,1280.9 1525.2,1280.3 1526.5,1279.6 1527.9,1278.9 1529.3,1278.1 1530.6,1277.2 1532.0,1276.1 1533.3,1274.8 1534.7,1273.2 1536.1,1271.2 1537.4,1268.8 1538.8,1266.1 1540.2,1262.8 1541.5,1259.0 1542.9,1252.8 1544.2,1244.7 1545.6,1235.4 1547.0,1225.7 1548.3,1216.3 1549.7,1206.0 1551.1,1193.9 1552.4,1178.5 1553.8,1154.2 1555.1,1129.3 1556.5,1109.1 1557.9,1090.3 1559.2,1072.0 1560.6,1053.5 1562.0,1036.9 1563.3,1023.3 1564.7,1011.2 1566.0,1002.9 1567.4,997.9 1568.8,994.1 1570.1,992.8 1571.5,993.7 1572.9,995.7 1574.2,998.1 1575.6,1001.5 1577.0,1005.9 1578.3,1011.3 1579.7,1017.9 1581.0,1024.9 1582.4,1032.2 1583.8,1039.2 1585.1,1045.9 1586.5,1052.1 1587.9,1057.8 1589.2,1062.8 1590.6,1065.6 1591.9,1067.5 1593.3,1067.9 1594.7,1067.5 1596.0,1066.9 1597.4,1066.1 1598.8,1064.9 1600.1,1063.3 1601.5,1061.4 1602.8,1059.7 1604.2,1058.1 1605.6,1056.6 1606.9,1055.3 1608.3,1054.7 1609.7,1054.3 1611.0,1054.1 1612.4,1054.9 1613.7,1057.3 1615.1,1060.9 1616.5,1066.2 1617.8,1071.1 1619.2,1076.1 1620.6,1081.2 1621.9,1086.7 1623.3,1093.0 1624.6,1100.3 1626.0,1108.1 1627.4,1115.6 1628.7,1122.1 1630.1,1127.4 1631.5,1132.1 1632.8,1136.4 1634.2,1140.4 1635.5,1144.4 1636.9,1148.5 1638.3,1152.8 1639.6,1157.2 1641.0,1161.7 1642.4,1166.1 1643.7,1170.4 1645.1,1174.3 1646.5,1177.9 1647.8,1181.0 1649.2,1183.9 1650.5,1186.6 1651.9,1189.2 1653.3,1191.7 1654.6,1194.0 1656.0,1196.3 1657.4,1198.4 1658.7,1200.5 1660.1,1202.5 1661.4,1204.4 1662.8,1206.4 1664.2,1208.3 1665.5,1210.1 1666.9,1211.9 1668.3,1213.6 1669.6,1215.3 1671.0,1216.8 1672.3,1218.4 1673.7,1219.9 1675.1,1221.4 1676.4,1222.9 1677.8,1224.4 1679.2,1225.9 1680.5,1227.5 1681.9,1229.1 1683.2,1230.9 1684.6,1232.7 1686.0,1234.7 1687.3,1236.8 1688.7,1238.9 1690.1,1241.1 1691.4,1243.3 1692.8,1245.4 1694.1,1247.4 1695.5,1249.3 1696.9,1251.0 1698.2,1252.5 1699.6,1253.8 1701.0,1254.9 1702.3,1255.8 1703.7,1256.6 1705.0,1257.5 1706.4,1258.3 1707.8,1259.0 1709.1,1259.7 1710.5,1260.4 1711.9,1261.0 1713.2,1261.6 1714.6,1262.2 1715.9,1262.7 1717.3,1263.2 1718.7,1263.8 1720.0,1264.2 1721.4,1264.7 1722.8,1265.2 1724.1,1265.6 1725.5,1266.1 1726.9,1266.6 1728.2,1267.0 1729.6,1267.4 1730.9,1267.9 1732.3,1268.3 1733.7,1268.7 1735.0,1269.0 1736.4,1269.4 1737.8,1269.8 1739.1,1270.1 1740.5,1270.5 1741.8,1270.8 1743.2,1271.2 1744.6,1271.5 1745.9,1271.8 1747.3,1272.1 1748.7,1272.4 1750.0,1272.8 1751.4,1273.1 1752.7,1273.4 1754.1,1273.7 1755.5,1274.0 1756.8,1274.3 1758.2,1274.6 1759.6,1274.9 1760.9,1275.2 1762.3,1275.4 1763.6,1275.7 1765.0,1276.0 1766.4,1276.3 1767.7,1276.5 1769.1,1276.8 1770.5,1277.1 1771.8,1277.3 1773.2,1277.6 1774.5,1277.8 1775.9,1278.0 1777.3,1278.3 1778.6,1278.5 1780.0,1278.7 1781.4,1278.9 1782.7,1279.1 1784.1,1279.3 1785.4,1279.6 1786.8,1279.8 1788.2,1280.0 1789.5,1280.1 1790.9,1280.3 1792.3,1280.5 1793.6,1280.7 1795.0,1280.8 1796.4,1281.0 1797.7,1281.1 1799.1,1281.2 1800.4,1281.3 1801.8,1281.4 1803.2,1281.5 1804.5,1281.6 1805.9,1281.7 1807.3,1281.8 1808.6,1281.9 1810.0,1282.0 1811.3,1282.0" stroke="#6dcbde" stroke-width="9.0" stroke-dasharray="26.5 22" stroke-linecap="round"/></g>
<g fill="none" stroke-linejoin="round" clip-path="url(#c9)"><path d="M1386.5,1270.6 1388.5,1270.6 1389.9,1270.5 1391.2,1270.4 1392.6,1270.2 1394.0,1270.1 1395.3,1269.9 1396.7,1269.7 1398.0,1269.5 1399.4,1269.3 1400.8,1269.0 1402.1,1268.8 1403.5,1268.5 1404.9,1268.2 1406.2,1267.8 1407.6,1267.5 1409.0,1267.1 1410.3,1266.8 1411.7,1266.4 1413.1,1266.1 1414.4,1265.8 1415.8,1265.5 1417.1,1265.2 1418.5,1264.9 1419.9,1264.5 1421.2,1264.0 1422.6,1263.3 1424.0,1262.5 1425.3,1261.6 1426.7,1260.6 1428.1,1259.6 1429.4,1258.4 1430.8,1257.2 1432.1,1255.8 1433.5,1254.2 1434.9,1252.4 1436.2,1250.3 1437.6,1247.9 1439.0,1245.4 1440.3,1242.8 1441.7,1239.9 1443.1,1236.8 1444.4,1233.5 1445.8,1230.0 1447.2,1226.5 1448.5,1222.9 1449.9,1219.1 1451.2,1215.2 1452.6,1211.1 1454.0,1207.0 1455.3,1202.6 1456.7,1198.1 1458.1,1193.5 1459.4,1188.9 1460.8,1184.4 1462.2,1179.8 1463.5,1175.2 1464.9,1170.6 1466.2,1165.8 1467.6,1160.7 1469.0,1155.5 1470.3,1150.2 1471.7,1144.8 1473.1,1139.4 1474.4,1134.1 1475.8,1128.7 1477.2,1123.3 1478.5,1117.9 1479.9,1112.5 1481.3,1107.3 1482.6,1102.4 1484.0,1097.5 1485.3,1092.9 1486.7,1088.5 1488.1,1084.4 1489.4,1080.5 1490.8,1076.5 1492.2,1072.4 1493.5,1068.3 1494.9,1064.0 1496.3,1059.0 1497.6,1053.2 1499.0,1047.0 1500.3,1041.0 1501.7,1034.8 1503.1,1028.6 1504.4,1022.3 1505.8,1015.8 1507.2,1009.9 1508.5,1005.1 1509.9,1000.7 1511.3,997.3 1512.6,994.7 1514.0,992.9 1515.4,992.3 1516.7,992.0 1518.1,992.7 1519.4,994.3 1520.8,996.4 1522.2,999.1 1523.5,1002.2 1524.9,1005.8 1526.3,1009.2 1527.6,1011.8 1529.0,1014.0 1530.4,1016.0 1531.7,1017.4 1533.1,1017.7 1534.4,1017.3 1535.8,1016.7 1537.2,1015.9 1538.5,1015.1 1539.9,1014.1 1541.3,1013.1 1542.6,1012.4 1544.0,1012.4 1545.4,1013.6 1546.7,1015.3 1548.1,1017.4 1549.5,1020.2 1550.8,1024.2 1552.2,1030.4 1553.5,1038.9 1554.9,1048.7 1556.3,1060.8 1557.6,1074.9 1559.0,1091.8 1560.4,1112.1 1561.7,1131.4 1563.1,1147.8 1564.5,1163.5 1565.8,1180.2 1567.2,1196.1 1568.5,1208.8 1569.9,1219.9 1571.3,1229.7 1572.6,1239.0 1574.0,1248.1 1575.4,1256.0 1576.7,1261.5 1578.1,1265.7 1579.5,1269.2 1580.8,1272.0 1582.2,1274.1 1583.6,1275.6 1584.9,1276.9 1586.3,1278.1 1587.6,1279.1 1589.0,1279.9 1590.4,1280.5 1591.7,1281.0 1593.1,1281.4 1594.5,1281.8 1595.8,1282.1 1597.2,1282.2 1598.6,1282.4 1599.9,1282.5 1601.3,1282.6 1602.6,1282.6 1604.0,1282.7 1605.4,1282.8 1606.7,1282.8 1608.1,1282.9 1609.5,1282.9 1610.8,1283.0 1612.2,1283.0 1613.6,1283.0 1614.9,1283.1" stroke="#6dcbde" stroke-width="9.4" stroke-linecap="butt"/></g>
<g fill="none" stroke-linejoin="round" clip-path="url(#c9)"><path d="M1632.5,1277.9 1633.9,1277.8 1635.3,1277.5 1636.6,1277.1 1638.0,1276.5 1639.4,1275.7 1640.7,1274.8 1642.1,1273.7 1643.5,1272.5 1644.8,1270.3 1646.2,1266.3 1647.6,1261.0 1648.9,1255.0 1650.3,1247.9 1651.7,1238.6 1653.0,1227.9 1654.4,1216.1 1655.7,1203.2 1657.1,1188.4 1658.5,1172.2 1659.8,1155.5 1661.2,1138.1 1662.6,1119.1 1663.9,1100.0 1665.3,1082.5 1666.7,1067.4 1668.0,1053.2 1669.4,1040.3 1670.8,1029.5 1672.1,1020.9 1673.5,1013.1 1674.8,1006.5 1676.2,1001.8 1677.6,999.1 1678.9,996.9 1680.3,995.1 1681.7,993.8 1683.0,993.2 1684.4,993.7 1685.8,995.9 1687.1,999.4 1688.5,1003.8 1689.9,1008.5 1691.2,1015.0 1692.6,1023.7 1694.0,1033.0 1695.3,1041.5 1696.7,1049.3 1698.0,1057.1 1699.4,1064.7 1700.8,1072.0 1702.1,1079.1 1703.5,1085.8 1704.9,1092.4 1706.2,1098.8 1707.6,1104.8 1709.0,1110.5 1710.3,1115.8 1711.7,1120.8 1713.1,1125.7 1714.4,1130.4 1715.8,1134.7 1717.2,1138.7 1718.5,1142.3 1719.9,1145.3 1721.2,1148.0 1722.6,1150.5 1724.0,1152.8 1725.3,1155.0 1726.7,1157.0 1728.1,1159.0 1729.4,1161.0 1730.8,1163.0 1732.2,1164.9 1733.5,1166.7 1734.9,1168.4 1736.3,1170.1 1737.6,1171.8 1739.0,1173.6 1740.4,1175.5 1741.7,1177.5 1743.1,1179.6 1744.4,1181.8 1745.8,1184.1 1747.2,1186.5 1748.5,1188.9 1749.9,1191.3 1751.3,1193.7 1752.6,1196.2 1754.0,1198.5 1755.4,1200.9 1756.7,1203.4 1758.1,1205.9 1759.5,1208.4 1760.8,1210.9 1762.2,1213.4 1763.6,1215.8 1764.9,1218.2 1766.3,1220.5 1767.6,1222.7 1769.0,1224.7 1770.4,1226.7 1771.7,1228.6 1773.1,1230.5 1774.5,1232.3 1775.8,1234.1 1777.2,1235.8 1778.6,1237.4 1779.9,1239.0 1781.3,1240.5 1782.7,1241.9 1784.0,1243.3 1785.4,1244.6 1786.8,1245.9 1788.1,1247.1 1789.5,1248.3 1790.8,1249.5 1792.2,1250.6 1793.6,1251.7 1794.9,1252.8 1796.3,1253.8 1797.7,1254.7 1799.0,1255.7 1800.4,1256.6 1801.8,1257.5 1803.1,1258.3 1804.5,1259.1 1805.9,1259.9 1807.2,1260.7 1808.6,1261.5 1809.9,1262.2 1811.3,1262.9 1812.7,1263.6 1814.0,1264.2 1815.4,1264.9 1816.8,1265.4 1818.1,1266.0 1819.5,1266.5 1820.9,1267.0 1822.2,1267.4 1823.6,1267.8 1825.0,1268.2 1826.3,1268.6 1827.7,1269.0 1829.1,1269.3 1830.4,1269.6 1831.8,1269.9 1833.1,1270.3 1834.5,1270.6 1835.9,1270.9 1837.2,1271.2 1838.6,1271.5 1840.0,1271.8 1841.3,1272.1 1842.7,1272.4 1844.1,1272.7 1845.4,1273.0 1846.8,1273.3 1848.2,1273.6 1849.5,1274.0 1850.9,1274.3 1852.3,1274.6 1853.6,1274.9 1855.0,1275.2 1856.3,1275.5 1857.7,1275.8 1859.1,1276.1 1860.4,1276.4 1861.8,1276.7 1863.2,1276.9 1864.5,1277.2 1865.9,1277.5" stroke="#f26522" stroke-width="6.5" stroke-dasharray="12 19.8" stroke-linecap="round"/></g>
<g fill="none" stroke-linejoin="round" clip-path="url(#c9)"><path d="M1387.2,1255.8 1389.2,1255.8 1390.6,1255.9 1392.0,1255.9 1393.3,1256.1 1394.7,1256.2 1396.1,1256.4 1397.4,1256.7 1398.8,1257.1 1400.1,1258.7 1401.5,1261.2 1402.9,1263.7 1404.2,1265.2 1405.6,1266.3 1407.0,1267.2 1408.3,1268.0 1409.7,1268.8 1411.1,1269.4 1412.4,1269.9 1413.8,1270.3 1415.2,1270.6 1416.5,1270.7 1417.9,1270.9 1419.2,1271.0 1420.6,1271.2 1422.0,1271.3 1423.3,1271.4 1424.7,1271.6 1426.1,1271.7 1427.4,1271.8 1428.8,1271.9 1430.2,1271.9 1431.5,1272.0 1432.9,1272.1 1434.2,1272.2 1435.6,1272.2 1437.0,1272.3 1438.3,1272.3 1439.7,1272.3 1441.1,1272.4 1442.4,1272.4 1443.8,1272.4 1445.2,1272.4 1446.5,1272.4 1447.9,1272.4 1449.3,1272.4 1450.6,1272.4 1452.0,1272.4 1453.3,1272.4 1454.7,1272.4 1456.1,1272.4 1457.4,1272.4 1458.8,1272.4 1460.2,1272.4 1461.5,1272.4 1462.9,1272.4 1464.3,1272.4 1465.6,1272.4 1467.0,1272.4 1468.3,1272.4 1469.7,1272.4 1471.1,1272.4 1472.4,1272.4 1473.8,1272.4 1475.2,1272.4 1476.5,1272.4 1477.9,1272.4 1479.3,1272.4 1480.6,1272.4 1482.0,1272.4 1483.4,1272.4 1484.7,1272.4 1486.1,1272.4 1487.4,1272.4 1488.8,1272.3 1490.2,1272.3 1491.5,1272.3 1492.9,1272.3 1494.3,1272.3 1495.6,1272.3 1497.0,1272.2 1498.4,1272.2 1499.7,1272.2 1501.1,1272.1 1502.4,1272.1 1503.8,1272.1 1505.2,1272.0 1506.5,1272.0 1507.9,1271.9 1509.3,1271.9 1510.6,1271.8 1512.0,1271.8 1513.4,1271.7 1514.7,1271.6 1516.1,1271.5 1517.5,1271.3 1518.8,1271.0 1520.2,1270.6 1521.5,1270.1 1522.9,1269.6 1524.3,1269.0 1525.6,1268.5 1527.0,1267.9 1528.4,1267.3 1529.7,1266.7 1531.1,1266.1 1532.5,1265.4 1533.8,1264.6 1535.2,1263.8 1536.5,1263.0 1537.9,1262.1 1539.3,1261.2 1540.6,1260.2 1542.0,1259.2 1543.4,1258.2 1544.7,1257.2 1546.1,1256.1 1547.5,1254.9 1548.8,1253.6 1550.2,1252.4 1551.6,1251.0 1552.9,1249.6 1554.3,1248.2 1555.6,1246.7 1557.0,1245.1 1558.4,1243.5 1559.7,1241.9 1561.1,1240.2 1562.5,1238.4 1563.8,1236.5 1565.2,1234.6 1566.6,1232.6 1567.9,1230.5 1569.3,1228.3 1570.6,1226.1 1572.0,1223.7 1573.4,1221.3 1574.7,1218.7 1576.1,1215.9 1577.5,1212.8 1578.8,1209.7 1580.2,1206.4 1581.6,1203.0 1582.9,1199.5 1584.3,1196.1 1585.7,1192.5 1587.0,1188.6 1588.4,1184.6 1589.7,1180.6 1591.1,1176.6 1592.5,1172.9 1593.8,1169.5 1595.2,1166.2 1596.6,1162.9 1597.9,1159.7 1599.3,1156.7 1600.7,1154.1 1602.0,1152.2 1603.4,1150.9 1604.7,1149.9 1606.1,1148.9 1607.5,1148.1 1608.8,1147.5 1610.2,1147.0 1611.6,1146.8 1612.9,1146.8 1614.3,1147.6 1615.7,1148.9 1617.0,1150.4 1618.4,1151.9 1619.8,1153.2 1621.1,1154.0 1622.5,1154.2 1623.8,1154.4 1625.2,1154.5 1626.6,1154.6 1627.9,1154.7 1629.3,1154.8 1630.7,1154.8 1632.0,1154.1 1633.4,1152.2 1634.8,1149.3 1636.1,1145.7 1637.5,1141.8 1638.8,1137.6 1640.2,1131.8 1641.6,1124.7 1642.9,1116.5 1644.3,1107.6 1645.7,1098.1 1647.0,1086.4 1648.4,1072.9 1649.8,1059.2 1651.1,1047.0 1652.5,1035.5 1653.9,1024.4 1655.2,1014.6 1656.6,1007.5 1657.9,1001.9 1659.3,997.1 1660.7,994.2 1662.0,994.1 1663.4,995.7 1664.8,998.3 1666.1,1001.7 1667.5,1008.9 1668.9,1019.5 1670.2,1031.7 1671.6,1043.9 1672.9,1057.3 1674.3,1072.2 1675.7,1087.6 1677.0,1102.4 1678.4,1117.2 1679.8,1132.0 1681.1,1146.5 1682.5,1160.3 1683.9,1174.1 1685.2,1187.7 1686.6,1200.1 1688.0,1210.7 1689.3,1219.8 1690.7,1228.3 1692.0,1236.0 1693.4,1242.8 1694.8,1248.7 1696.1,1253.6 1697.5,1258.3 1698.9,1262.5 1700.2,1266.1 1701.6,1269.0 1703.0,1271.0 1704.3,1272.7 1705.7,1274.2 1707.0,1275.6 1708.4,1276.8 1709.8,1277.8 1711.1,1278.7 1712.5,1279.3 1713.9,1279.8 1715.2,1280.2 1716.6,1280.5 1718.0,1280.8 1719.3,1281.1 1720.7,1281.4 1722.1,1281.7 1723.4,1281.9 1724.8,1282.1 1726.1,1282.2 1727.5,1282.4 1728.9,1282.5 1730.2,1282.6 1731.6,1282.7 1733.0,1282.7 1734.3,1282.7 1735.7,1282.8 1737.1,1282.8 1738.4,1282.8 1739.8,1282.8 1741.1,1282.9 1742.5,1282.9 1743.9,1282.9 1745.2,1282.9 1746.6,1283.0 1748.0,1283.0 1749.3,1283.0 1750.7,1283.0 1752.1,1283.1 1753.4,1283.1 1754.8,1283.1 1756.2,1283.1 1757.5,1283.1 1758.9,1283.2 1760.2,1283.2 1761.6,1283.2 1763.0,1283.2 1764.3,1283.2 1765.7,1283.2 1767.1,1283.3 1768.4,1283.3 1769.8,1283.3 1771.2,1283.3 1772.5,1283.3 1773.9,1283.3 1775.2,1283.3 1776.6,1283.3 1778.0,1283.3 1779.3,1283.3 1780.7,1283.4 1782.1,1283.4 1783.4,1283.4 1784.8,1283.4 1786.2,1283.4 1787.5,1283.4 1788.9,1283.4 1790.3,1283.4 1791.6,1283.4 1793.0,1283.4 1794.3,1283.4 1795.7,1283.4 1797.1,1283.4 1798.4,1283.4" stroke="#f47b20" stroke-width="9.4" stroke-linecap="butt"/></g>
</g>
<g>
<g stroke="#000" stroke-width="4.3" fill="none" stroke-linecap="butt">
<path d="M82.7,1441.1 V1764.9"/>
<path d="M73.8,1762.7 H563.9"/>
<path d="M73.8,1617.2 H82.7"/>
<path d="M73.8,1471.7 H82.7"/>
<path d="M135.9,1762.7 V1771.2"/>
<path d="M242.4,1762.7 V1771.2"/>
<path d="M348.8,1762.7 V1771.2"/>
<path d="M455.3,1762.7 V1771.2"/>
<path d="M561.7,1762.7 V1771.2"/>
</g>
<g font-family='"Liberation Sans", "DejaVu Sans", sans-serif' font-weight="700" font-size="24.0" fill="#000">
<text x="69.7" y="1771.2" text-anchor="end">0.0</text>
<text x="69.7" y="1625.7" text-anchor="end">0.5</text>
<text x="69.7" y="1480.2" text-anchor="end">1.0</text>
<text x="135.9" y="1797.7" text-anchor="middle">400</text>
<text x="242.4" y="1797.7" text-anchor="middle">500</text>
<text x="348.8" y="1797.7" text-anchor="middle">600</text>
<text x="455.3" y="1797.7" text-anchor="middle">700</text>
<text x="561.7" y="1797.7" text-anchor="middle">800</text>
</g>
<g font-family='"Liberation Sans", "DejaVu Sans", sans-serif' font-size="24.4" fill="#000" stroke="#000" stroke-width="0.35">
<text x="201.0" y="1431.0" textLength="61.8" lengthAdjust="spacingAndGlyphs">mTq2</text>
<text x="312.6" y="1431.0" textLength="101.4" lengthAdjust="spacingAndGlyphs">TagRFP-T</text>
</g>
<text transform="translate(24.8,1594.0) rotate(-90)" text-anchor="middle" font-family='"Liberation Sans", "DejaVu Sans", sans-serif' font-size="26.1" fill="#000">Normalized Instensity (AU)</text>
<clipPath id="c10"><rect x="81.0" y="1413.5" width="481.0" height="349.9"/></clipPath>
<clipPath id="c10b"><rect x="81.0" y="1413.5" width="483.2" height="361.2"/></clipPath>
<g fill="none" stroke-linejoin="round" clip-path="url(#c10)"><path d="M83.0,1762.4 84.1,1762.4 85.1,1762.4 86.2,1762.4 87.3,1762.4 88.3,1762.4 89.4,1762.4 90.5,1762.4 91.5,1762.4 92.6,1762.4 93.6,1762.4 94.7,1762.4 95.8,1762.4 96.8,1762.4 97.9,1762.4 99.0,1762.4 100.0,1762.4 101.1,1762.4 102.2,1762.4 103.2,1762.4 104.3,1762.4 105.3,1762.4 106.4,1762.4 107.5,1762.4 108.5,1762.4 109.6,1762.4 110.7,1762.4 111.7,1762.4 112.8,1762.4 113.9,1762.4 114.9,1762.4 116.0,1762.4 117.0,1762.4 118.1,1762.4 119.2,1762.4 120.2,1762.4 121.3,1762.4 122.4,1762.4 123.4,1762.4 124.5,1762.4 125.5,1762.4 126.6,1762.4 127.7,1762.4 128.7,1762.4 129.8,1762.4 130.9,1762.4 131.9,1762.4 133.0,1762.4 134.1,1762.4 135.1,1762.4 136.2,1762.4 137.2,1762.4 138.3,1762.4 139.4,1762.4 140.4,1762.4 141.5,1762.4 142.6,1762.4 143.6,1762.4 144.7,1762.4 145.8,1762.4 146.8,1762.4 147.9,1762.4 148.9,1762.4 150.0,1762.4 151.1,1762.4 152.1,1762.4 153.2,1762.4 154.3,1762.4 155.3,1762.4 156.4,1762.4 157.5,1762.4 158.5,1762.4 159.6,1762.4 160.6,1762.4 161.7,1762.4 162.8,1762.4 163.8,1762.4 164.9,1762.4 166.0,1762.4 167.0,1762.4 168.1,1762.4 169.2,1762.4 170.2,1762.4 171.3,1762.4 172.3,1762.4 173.4,1762.4 174.5,1762.4 175.5,1762.4 176.6,1762.4 177.7,1762.4 178.7,1762.4 179.8,1762.4 180.9,1762.4 181.9,1762.4 183.0,1762.4 184.0,1762.4 185.1,1762.0 186.2,1761.5 187.2,1760.9 188.3,1760.2 189.4,1759.6 190.4,1758.9 191.5,1758.2 192.5,1757.4 193.6,1756.5 194.7,1755.4 195.7,1754.1 196.8,1752.5 197.9,1750.5 198.9,1748.2 200.0,1745.4 201.1,1742.1 202.1,1738.3 203.2,1732.2 204.2,1724.0 205.3,1714.7 206.4,1705.0 207.4,1695.6 208.5,1685.3 209.6,1673.2 210.6,1657.8 211.7,1633.5 212.8,1608.6 213.8,1588.4 214.9,1569.6 215.9,1551.3 217.0,1532.8 218.1,1516.2 219.1,1502.6 220.2,1490.5 221.3,1482.2 222.3,1477.2 223.4,1473.4 224.5,1472.1 225.5,1473.0 226.6,1475.0 227.6,1477.4 228.7,1480.8 229.8,1485.2 230.8,1490.6 231.9,1497.2 233.0,1504.2 234.0,1511.5 235.1,1518.5 236.2,1525.2 237.2,1531.4 238.3,1537.0 239.3,1542.1 240.4,1544.9 241.5,1546.8 242.5,1547.2 243.6,1546.8 244.7,1546.2 245.7,1545.4 246.8,1544.2 247.9,1542.6 248.9,1540.7 250.0,1539.0 251.0,1537.4 252.1,1535.9 253.2,1534.6 254.2,1534.0 255.3,1533.6 256.4,1533.4 257.4,1534.2 258.5,1536.6 259.5,1540.2 260.6,1545.5 261.7,1550.4 262.7,1555.4 263.8,1560.5 264.9,1566.0 265.9,1572.3 267.0,1579.6 268.1,1587.4 269.1,1594.9 270.2,1601.4 271.2,1606.7 272.3,1611.4 273.4,1615.7 274.4,1619.7 275.5,1623.7 276.6,1627.8 277.6,1632.1 278.7,1636.5 279.8,1641.0 280.8,1645.4 281.9,1649.7 282.9,1653.6 284.0,1657.2 285.1,1660.3 286.1,1663.2 287.2,1665.9 288.3,1668.5 289.3,1671.0 290.4,1673.3 291.5,1675.5 292.5,1677.7 293.6,1679.8 294.6,1681.8 295.7,1683.7 296.8,1685.7 297.8,1687.5 298.9,1689.4 300.0,1691.2 301.0,1692.9 302.1,1694.6 303.2,1696.1 304.2,1697.7 305.3,1699.2 306.3,1700.7 307.4,1702.2 308.5,1703.7 309.5,1705.2 310.6,1706.8 311.7,1708.4 312.7,1710.2 313.8,1712.0 314.9,1714.0 315.9,1716.1 317.0,1718.2 318.0,1720.4 319.1,1722.5 320.2,1724.7 321.2,1726.7 322.3,1728.6 323.4,1730.3 324.4,1731.8 325.5,1733.1 326.5,1734.2 327.6,1735.1 328.7,1735.9 329.7,1736.8 330.8,1737.5 331.9,1738.3 332.9,1739.0 334.0,1739.7 335.1,1740.3 336.1,1740.9 337.2,1741.5 338.2,1742.0 339.3,1742.5 340.4,1743.0 341.4,1743.5 342.5,1744.0 343.6,1744.5 344.6,1744.9 345.7,1745.4 346.8,1745.9 347.8,1746.3 348.9,1746.7 349.9,1747.2 351.0,1747.6 352.1,1748.0 353.1,1748.3 354.2,1748.7 355.3,1749.1 356.3,1749.4 357.4,1749.8 358.5,1750.1 359.5,1750.5 360.6,1750.8 361.6,1751.1 362.7,1751.4 363.8,1751.7 364.8,1752.0 365.9,1752.4 367.0,1752.7 368.0,1753.0 369.1,1753.3 370.2,1753.6 371.2,1753.9 372.3,1754.2 373.3,1754.5 374.4,1754.7 375.5,1755.0 376.5,1755.3 377.6,1755.6 378.7,1755.8 379.7,1756.1 380.8,1756.4 381.9,1756.6 382.9,1756.9 384.0,1757.1 385.0,1757.3 386.1,1757.6 387.2,1757.8 388.2,1758.0 389.3,1758.2 390.4,1758.4 391.4,1758.6 392.5,1758.8 393.5,1759.1 394.6,1759.3 395.7,1759.4 396.7,1759.6 397.8,1759.8 398.9,1760.0 399.9,1760.1 401.0,1760.3 402.1,1760.4 403.1,1760.5 404.2,1760.6 405.2,1760.7 406.3,1760.8 407.4,1760.9 408.4,1761.0 409.5,1761.1" stroke="#6dcbde" stroke-width="6.5" stroke-dasharray="12 19.8" stroke-linecap="round"/></g>
<g fill="none" stroke-linejoin="round" clip-path="url(#c10)"><path d="M80.7,1749.9 82.7,1749.9 83.8,1749.8 84.8,1749.7 85.9,1749.5 87.0,1749.4 88.0,1749.2 89.1,1749.0 90.2,1748.8 91.2,1748.6 92.3,1748.3 93.3,1748.1 94.4,1747.8 95.5,1747.5 96.5,1747.1 97.6,1746.8 98.7,1746.4 99.7,1746.1 100.8,1745.7 101.9,1745.4 102.9,1745.1 104.0,1744.8 105.1,1744.5 106.1,1744.2 107.2,1743.8 108.2,1743.3 109.3,1742.6 110.4,1741.8 111.4,1740.9 112.5,1739.9 113.6,1738.9 114.6,1737.7 115.7,1736.5 116.8,1735.1 117.8,1733.5 118.9,1731.7 120.0,1729.6 121.0,1727.2 122.1,1724.7 123.2,1722.1 124.2,1719.2 125.3,1716.1 126.3,1712.8 127.4,1709.3 128.5,1705.8 129.5,1702.2 130.6,1698.4 131.7,1694.5 132.7,1690.4 133.8,1686.3 134.9,1681.9 135.9,1677.4 137.0,1672.8 138.1,1668.2 139.1,1663.7 140.2,1659.1 141.2,1654.5 142.3,1649.9 143.4,1645.1 144.4,1640.0 145.5,1634.8 146.6,1629.5 147.6,1624.1 148.7,1618.7 149.8,1613.4 150.8,1608.0 151.9,1602.6 153.0,1597.2 154.0,1591.8 155.1,1586.6 156.2,1581.7 157.2,1576.8 158.3,1572.2 159.3,1567.8 160.4,1563.7 161.5,1559.8 162.5,1555.8 163.6,1551.7 164.7,1547.6 165.7,1543.3 166.8,1538.3 167.9,1532.5 168.9,1526.3 170.0,1520.3 171.1,1514.1 172.1,1507.9 173.2,1501.6 174.2,1495.1 175.3,1489.2 176.4,1484.4 177.4,1480.0 178.5,1476.6 179.6,1474.0 180.6,1472.2 181.7,1471.6 182.8,1471.3 183.8,1472.0 184.9,1473.6 186.0,1475.7 187.0,1478.4 188.1,1481.5 189.2,1485.1 190.2,1488.5 191.3,1491.1 192.3,1493.3 193.4,1495.3 194.5,1496.7 195.5,1497.0 196.6,1496.6 197.7,1496.0 198.7,1495.2 199.8,1494.4 200.9,1493.4 201.9,1492.4 203.0,1491.7 204.1,1491.7 205.1,1492.9 206.2,1494.6 207.2,1496.7 208.3,1499.5 209.4,1503.5 210.4,1509.7 211.5,1518.2 212.6,1528.0 213.6,1540.1 214.7,1554.2 215.8,1571.1 216.8,1591.4 217.9,1610.7 219.0,1627.1 220.0,1642.8 221.1,1659.5 222.1,1675.4 223.2,1688.1 224.3,1699.2 225.3,1709.0 226.4,1718.3 227.5,1727.4 228.5,1735.3 229.6,1740.8 230.7,1745.0 231.7,1748.5 232.8,1751.3 233.9,1753.4 234.9,1754.9 236.0,1756.2 237.1,1757.4 238.1,1758.4 239.2,1759.2 240.2,1759.8 241.3,1760.3 242.4,1760.7 243.4,1761.1 244.5,1761.4 245.6,1761.5 246.6,1761.7 247.7,1761.8 248.8,1761.9 249.8,1761.9 250.9,1762.0 252.0,1762.1 253.0,1762.1 254.1,1762.2 255.1,1762.2 256.2,1762.3 257.3,1762.3 258.3,1762.3 259.4,1762.4" stroke="#6dcbde" stroke-width="9.4" stroke-linecap="butt"/></g>
<g fill="none" stroke-linejoin="round" clip-path="url(#c10)"><path d="M293.3,1743.2 294.4,1738.6 295.5,1733.3 296.5,1727.2 297.6,1720.4 298.6,1713.1 299.7,1705.0 300.8,1695.6 301.8,1685.3 302.9,1674.5 304.0,1663.6 305.0,1652.7 306.1,1641.4 307.2,1629.8 308.2,1618.0 309.3,1606.4 310.3,1594.8 311.4,1582.7 312.5,1570.5 313.5,1558.8 314.6,1548.1 315.7,1538.8 316.7,1530.1 317.8,1521.9 318.9,1514.3 319.9,1507.7 321.0,1502.0 322.1,1497.0 323.1,1492.3 324.2,1488.2 325.2,1484.6 326.3,1482.2 327.4,1480.0 328.4,1478.8 329.5,1477.6 330.6,1476.2 331.6,1475.6 332.7,1474.0 333.8,1474.9 334.8,1473.6 335.9,1473.4 336.9,1472.6 338.0,1473.8 339.1,1472.2 340.1,1473.4 341.2,1472.6 342.3,1474.1 343.3,1473.4 344.4,1475.6 345.5,1476.9 346.5,1477.5 347.6,1479.7 348.7,1480.2 349.7,1483.7 350.8,1486.9 351.8,1490.1 352.9,1493.5 354.0,1497.1 355.0,1501.1 356.1,1505.4 357.2,1510.0 358.2,1514.6 359.3,1519.3 360.4,1524.1 361.4,1529.3 362.5,1534.7 363.5,1540.2 364.6,1545.7 365.7,1551.2 366.7,1556.6 367.8,1561.7 368.9,1566.7 369.9,1571.7 371.0,1576.6 372.1,1581.4 373.1,1586.0 374.2,1590.5 375.3,1594.8 376.3,1598.9 377.4,1603.0 378.4,1606.9 379.5,1610.8 380.6,1614.5 381.6,1618.3 382.7,1621.8 383.8,1625.5 384.8,1628.6 385.9,1631.9 387.0,1634.5 388.0,1637.3 389.1,1640.3 390.1,1643.5 391.2,1646.8 392.3,1646.8 393.3,1651.2 394.4,1653.2 395.5,1653.8 396.5,1658.2 397.6,1661.0 398.7,1662.4 399.7,1664.4 400.8,1665.5 401.9,1670.9 402.9,1671.4 404.0,1672.2 405.0,1674.6 406.1,1677.2 407.2,1681.4 408.2,1682.1 409.3,1683.2 410.4,1686.2 411.4,1687.2 412.5,1688.3 413.6,1692.2 414.6,1694.3 415.7,1694.8 416.8,1697.3 417.8,1698.6 418.9,1697.3 419.9,1700.9 421.0,1703.0 422.1,1702.3 423.1,1706.3 424.2,1705.1 425.3,1707.5 426.3,1708.3 427.4,1711.4 428.5,1712.5 429.5,1711.9 430.6,1715.5 431.6,1715.9 432.7,1715.8 433.8,1718.2 434.8,1718.7 435.9,1717.6 437.0,1718.6 438.0,1721.1 439.1,1722.3 440.2,1725.4 441.2,1722.4 442.3,1725.0 443.4,1725.0 444.4,1726.9 445.5,1726.4 446.5,1728.5 447.6,1728.8 448.7,1731.9 449.7,1731.5 450.8,1731.2 451.9,1734.4 452.9,1733.8 454.0,1735.6 455.1,1735.0 456.1,1734.4 457.2,1738.0 458.2,1735.8 459.3,1737.4 460.4,1737.9 461.4,1740.1 462.5,1739.7 463.6,1740.8 464.6,1742.4 465.7,1743.0 466.8,1741.8 467.8,1741.1 468.9,1742.3 470.0,1743.5 471.0,1744.8 472.1,1742.5 473.1,1743.9 474.2,1743.6 475.3,1743.7 476.3,1745.1 477.4,1744.8 478.5,1745.8 479.5,1748.6 480.6,1746.0 481.7,1748.7 482.7,1747.9 483.8,1748.0 484.8,1748.5 485.9,1747.4 487.0,1750.4 488.0,1751.4 489.1,1748.3 490.2,1749.1 491.2,1750.6 492.3,1751.0 493.4,1752.5 494.4,1751.9 495.5,1753.2 496.6,1750.9 497.6,1753.8 498.7,1753.5 499.7,1752.2 500.8,1753.6 501.9,1752.3 502.9,1751.9 504.0,1753.9 505.1,1755.2 506.1,1752.4 507.2,1752.7 508.3,1754.5 509.3,1752.7 510.4,1754.8 511.4,1755.5 512.5,1753.3 513.6,1753.9 514.6,1754.9 515.7,1754.5 516.8,1756.4 517.8,1753.8 518.9,1753.7 520.0,1756.4 521.0,1754.4 522.1,1756.8 523.2,1758.1 524.2,1758.2 525.3,1757.8 526.3,1758.4 527.4,1757.8 528.5,1755.3 529.5,1757.3 530.6,1758.8 531.7,1756.1 532.7,1757.9 533.8,1759.5 534.9,1756.2 535.9,1758.7 537.0,1757.0 538.1,1758.5 539.1,1756.7 540.2,1756.6 541.2,1757.8 542.3,1757.8 543.4,1759.6 544.4,1758.6 545.5,1758.4 546.6,1758.1 547.6,1756.6 548.7,1759.1 549.8,1758.7 550.8,1757.1 551.9,1758.7 552.9,1759.6 554.0,1757.0 555.1,1758.1 556.1,1760.2 557.2,1756.4 558.3,1759.5 559.3,1757.9 560.4,1759.0 561.5,1757.2" stroke="#ed1c24" stroke-width="6.5" stroke-dasharray="12 19.8" stroke-linecap="round"/></g>
<g fill="none" stroke-linejoin="round" clip-path="url(#c10)"><path d="M83.3,1726.7 84.4,1726.9 85.5,1727.0 86.5,1727.0 87.6,1727.2 88.7,1727.4 89.7,1727.6 90.8,1728.0 91.9,1728.0 92.9,1728.2 94.0,1727.7 95.1,1727.5 96.1,1728.4 97.2,1727.5 98.3,1729.0 99.3,1728.4 100.4,1728.9 101.5,1729.1 102.5,1728.7 103.6,1728.5 104.7,1728.6 105.7,1729.6 106.8,1728.8 107.9,1728.4 108.9,1729.4 110.0,1728.3 111.0,1729.2 112.1,1728.5 113.2,1729.7 114.2,1729.6 115.3,1728.9 116.4,1730.5 117.4,1729.6 118.5,1731.6 119.6,1732.2 120.6,1732.4 121.7,1733.3 122.8,1733.1 123.8,1733.3 124.9,1733.7 126.0,1735.1 127.0,1734.7 128.1,1734.7 129.2,1735.8 130.2,1736.3 131.3,1736.4 132.4,1736.3 133.4,1737.3 134.5,1737.8 135.6,1737.3 136.6,1737.5 137.7,1737.5 138.7,1737.4 139.8,1737.8 140.9,1737.8 141.9,1738.7 143.0,1739.7 144.1,1739.7 145.1,1739.2 146.2,1739.0 147.3,1739.1 148.3,1739.1 149.4,1738.7 150.5,1739.8 151.5,1739.7 152.6,1739.0 153.7,1740.0 154.7,1740.0 155.8,1740.1 156.9,1740.4 157.9,1739.3 159.0,1740.1 160.1,1739.9 161.1,1739.6 162.2,1741.1 163.3,1740.1 164.3,1740.3 165.4,1740.7 166.4,1740.7 167.5,1739.8 168.6,1740.4 169.6,1740.6 170.7,1740.0 171.8,1740.0 172.8,1740.2 173.9,1739.7 175.0,1739.9 176.0,1740.0 177.1,1740.1 178.2,1739.4 179.2,1739.8 180.3,1739.7 181.4,1739.6 182.4,1739.6 183.5,1739.5 184.6,1739.4 185.6,1739.3 186.7,1739.2 187.8,1739.1 188.8,1739.0 189.9,1738.8 191.0,1738.6 192.0,1738.5 193.1,1738.3 194.1,1738.1 195.2,1737.8 196.3,1737.6 197.3,1737.4 198.4,1737.1 199.5,1736.9 200.5,1736.6 201.6,1736.3 202.7,1736.0 203.7,1735.7 204.8,1735.3 205.9,1734.9 206.9,1734.5 208.0,1734.0 209.1,1733.5 210.1,1732.9 211.2,1732.4 212.3,1731.7 213.3,1731.1 214.4,1730.5 215.5,1729.8 216.5,1729.1 217.6,1728.5 218.7,1727.8 219.7,1727.1 220.8,1726.3 221.9,1725.5 222.9,1724.7 224.0,1723.9 225.0,1723.0 226.1,1722.1 227.2,1721.1 228.2,1720.1 229.3,1719.0 230.4,1717.9 231.4,1716.8 232.5,1715.6 233.6,1714.2 234.6,1712.8 235.7,1711.2 236.8,1709.5 237.8,1707.7 238.9,1705.8 240.0,1703.9 241.0,1701.9 242.1,1699.8 243.2,1697.7 244.2,1695.6 245.3,1693.4 246.4,1691.1 247.4,1688.8 248.5,1686.3 249.6,1683.8 250.6,1681.2 251.7,1678.5 252.7,1675.8 253.8,1673.1 254.9,1670.2 255.9,1667.1 257.0,1663.6 258.1,1660.1 259.1,1656.7 260.2,1653.5 261.3,1650.7 262.3,1648.5 263.4,1646.5 264.5,1644.8 265.5,1643.2 266.6,1641.7 267.7,1640.3 268.7,1638.9 269.8,1637.5 270.9,1636.2 271.9,1635.1 273.0,1633.9 274.1,1632.5 275.1,1630.7 276.2,1628.6 277.3,1626.0 278.3,1622.9 279.4,1619.6 280.4,1615.8 281.5,1611.4 282.6,1606.2 283.6,1600.3 284.7,1593.9 285.8,1587.1 286.8,1579.7 287.9,1571.3 289.0,1562.4 290.0,1553.2 291.1,1544.3 292.2,1535.6 293.2,1526.6 294.3,1517.6 295.4,1509.0 296.4,1501.0 297.5,1493.6 298.6,1486.1 299.6,1479.8 300.7,1476.1 301.8,1473.8 302.8,1472.4 303.9,1472.4 305.0,1474.3 306.0,1477.4 307.1,1481.7 308.1,1488.8 309.2,1497.8 310.3,1507.7 311.3,1517.6 312.4,1528.9 313.5,1541.4 314.5,1554.2 315.6,1566.8 316.7,1578.7 317.7,1590.5 318.8,1602.3 319.9,1613.8 320.9,1624.9 322.0,1635.7 323.1,1646.8 324.1,1657.6 325.2,1667.9 326.3,1676.9 327.3,1684.4 328.4,1690.9 329.5,1697.0 330.5,1702.5 331.6,1707.6 332.7,1712.2 333.7,1716.4 334.8,1720.2 335.8,1723.8 336.9,1727.2 338.0,1730.3 339.0,1733.2 340.1,1735.8 341.2,1738.0 342.2,1739.8 343.3,1741.4 344.4,1742.9 345.4,1744.4 346.5,1745.7 347.6,1746.9 348.6,1748.1 349.7,1749.1 350.8,1750.0 351.8,1750.9 352.9,1751.6 354.0,1752.3 355.0,1752.9 356.1,1753.5 357.2,1754.0 358.2,1754.6 359.3,1755.1 360.4,1755.6 361.4,1756.0 362.5,1756.4 363.5,1756.8 364.6,1757.1 365.7,1757.4 366.7,1757.6 367.8,1757.7 368.9,1757.8 369.9,1757.9 371.0,1758.0 372.1,1758.1 373.1,1758.1 374.2,1758.2 375.3,1758.3 376.3,1758.3 377.4,1758.4 378.5,1758.4 379.5,1758.5 380.6,1758.5 381.7,1758.6 382.7,1758.6 383.8,1758.7 384.9,1758.7 385.9,1758.7 387.0,1758.8 388.1,1758.8 389.1,1758.8 390.2,1758.9 391.2,1758.9 392.3,1758.9 393.4,1758.9 394.4,1758.9 395.5,1759.0 396.6,1759.0 397.6,1759.0 398.7,1759.0 399.8,1759.0 400.8,1759.0 401.9,1759.0" stroke="#ed1c24" stroke-width="9.4" stroke-linecap="butt"/></g>
</g>
<g>
<g stroke="#000" stroke-width="4.3" fill="none" stroke-linecap="butt">
<path d="M742.4,1441.8 V1765.6"/>
<path d="M733.5,1763.4 H1223.8"/>
<path d="M733.5,1617.9 H742.4"/>
<path d="M733.5,1472.4 H742.4"/>
<path d="M795.6,1763.4 V1771.9"/>
<path d="M902.1,1763.4 V1771.9"/>
<path d="M1008.6,1763.4 V1771.9"/>
<path d="M1115.2,1763.4 V1771.9"/>
<path d="M1221.7,1763.4 V1771.9"/>
</g>
<g font-family='"Liberation Sans", "DejaVu Sans", sans-serif' font-weight="700" font-size="24.0" fill="#000">
<text x="729.4" y="1771.9" text-anchor="end">0.0</text>
<text x="729.4" y="1626.4" text-anchor="end">0.5</text>
<text x="729.4" y="1480.9" text-anchor="end">1.0</text>
<text x="795.6" y="1798.4" text-anchor="middle">400</text>
<text x="902.1" y="1798.4" text-anchor="middle">500</text>
<text x="1008.6" y="1798.4" text-anchor="middle">600</text>
<text x="1115.2" y="1798.4" text-anchor="middle">700</text>
<text x="1221.7" y="1798.4" text-anchor="middle">800</text>
</g>
<g font-family='"Liberation Sans", "DejaVu Sans", sans-serif' font-size="24.4" fill="#000" stroke="#000" stroke-width="0.35">
<text x="861.2" y="1434.5" textLength="61.8" lengthAdjust="spacingAndGlyphs">mTq2</text>
<text x="983.6" y="1431.6" textLength="90.4" lengthAdjust="spacingAndGlyphs">mRuby2</text>
</g>
<clipPath id="c11"><rect x="740.7" y="1414.2" width="481.3" height="349.9"/></clipPath>
<clipPath id="c11b"><rect x="740.7" y="1414.2" width="483.5" height="361.2"/></clipPath>
<g fill="none" stroke-linejoin="round" clip-path="url(#c11)"><path d="M742.7,1763.1 743.8,1763.1 744.8,1763.1 745.9,1763.1 747.0,1763.1 748.0,1763.1 749.1,1763.1 750.2,1763.1 751.2,1763.1 752.3,1763.1 753.3,1763.1 754.4,1763.1 755.5,1763.1 756.5,1763.1 757.6,1763.1 758.7,1763.1 759.7,1763.1 760.8,1763.1 761.9,1763.1 762.9,1763.1 764.0,1763.1 765.1,1763.1 766.1,1763.1 767.2,1763.1 768.2,1763.1 769.3,1763.1 770.4,1763.1 771.4,1763.1 772.5,1763.1 773.6,1763.1 774.6,1763.1 775.7,1763.1 776.8,1763.1 777.8,1763.1 778.9,1763.1 779.9,1763.1 781.0,1763.1 782.1,1763.1 783.1,1763.1 784.2,1763.1 785.3,1763.1 786.3,1763.1 787.4,1763.1 788.5,1763.1 789.5,1763.1 790.6,1763.1 791.7,1763.1 792.7,1763.1 793.8,1763.1 794.8,1763.1 795.9,1763.1 797.0,1763.1 798.0,1763.1 799.1,1763.1 800.2,1763.1 801.2,1763.1 802.3,1763.1 803.4,1763.1 804.4,1763.1 805.5,1763.1 806.5,1763.1 807.6,1763.1 808.7,1763.1 809.7,1763.1 810.8,1763.1 811.9,1763.1 812.9,1763.1 814.0,1763.1 815.1,1763.1 816.1,1763.1 817.2,1763.1 818.3,1763.1 819.3,1763.1 820.4,1763.1 821.4,1763.1 822.5,1763.1 823.6,1763.1 824.6,1763.1 825.7,1763.1 826.8,1763.1 827.8,1763.1 828.9,1763.1 830.0,1763.1 831.0,1763.1 832.1,1763.1 833.1,1763.1 834.2,1763.1 835.3,1763.1 836.3,1763.1 837.4,1763.1 838.5,1763.1 839.5,1763.1 840.6,1763.1 841.7,1763.1 842.7,1763.1 843.8,1763.1 844.9,1762.7 845.9,1762.2 847.0,1761.6 848.0,1760.9 849.1,1760.3 850.2,1759.6 851.2,1758.9 852.3,1758.1 853.4,1757.2 854.4,1756.1 855.5,1754.8 856.6,1753.2 857.6,1751.2 858.7,1748.9 859.7,1746.1 860.8,1742.8 861.9,1739.0 862.9,1732.9 864.0,1724.7 865.1,1715.4 866.1,1705.7 867.2,1696.3 868.3,1686.0 869.3,1673.9 870.4,1658.5 871.5,1634.2 872.5,1609.3 873.6,1589.1 874.6,1570.3 875.7,1552.0 876.8,1533.5 877.8,1516.9 878.9,1503.3 880.0,1491.2 881.0,1482.9 882.1,1477.9 883.2,1474.1 884.2,1472.8 885.3,1473.7 886.3,1475.7 887.4,1478.1 888.5,1481.5 889.5,1485.9 890.6,1491.3 891.7,1497.9 892.7,1504.9 893.8,1512.2 894.9,1519.2 895.9,1525.9 897.0,1532.1 898.1,1537.7 899.1,1542.8 900.2,1545.6 901.2,1547.5 902.3,1547.9 903.4,1547.5 904.4,1546.9 905.5,1546.1 906.6,1544.9 907.6,1543.3 908.7,1541.4 909.8,1539.7 910.8,1538.1 911.9,1536.6 912.9,1535.3 914.0,1534.7 915.1,1534.3 916.1,1534.1 917.2,1534.9 918.3,1537.3 919.3,1540.9 920.4,1546.2 921.5,1551.1 922.5,1556.1 923.6,1561.2 924.7,1566.7 925.7,1573.0 926.8,1580.3 927.8,1588.1 928.9,1595.6 930.0,1602.1 931.0,1607.4 932.1,1612.1 933.2,1616.4 934.2,1620.4 935.3,1624.4 936.4,1628.5 937.4,1632.8 938.5,1637.2 939.5,1641.7 940.6,1646.1 941.7,1650.4 942.7,1654.3 943.8,1657.9 944.9,1661.0 945.9,1663.9 947.0,1666.6 948.1,1669.2 949.1,1671.7 950.2,1674.0 951.3,1676.2 952.3,1678.4 953.4,1680.5 954.4,1682.5 955.5,1684.4 956.6,1686.4 957.6,1688.2 958.7,1690.1 959.8,1691.9 960.8,1693.6 961.9,1695.3 963.0,1696.8 964.0,1698.4 965.1,1699.9 966.1,1701.4 967.2,1702.9 968.3,1704.4 969.3,1705.9 970.4,1707.5 971.5,1709.1 972.5,1710.9 973.6,1712.7 974.7,1714.7 975.7,1716.8 976.8,1718.9 977.9,1721.1 978.9,1723.2 980.0,1725.4 981.0,1727.4 982.1,1729.3 983.2,1731.0 984.2,1732.5 985.3,1733.8 986.4,1734.9 987.4,1735.8 988.5,1736.6 989.6,1737.5 990.6,1738.2 991.7,1739.0 992.7,1739.7 993.8,1740.4 994.9,1741.0 995.9,1741.6 997.0,1742.2 998.1,1742.7 999.1,1743.2 1000.2,1743.7 1001.3,1744.2 1002.3,1744.7 1003.4,1745.2 1004.5,1745.6 1005.5,1746.1 1006.6,1746.6 1007.6,1747.0 1008.7,1747.4 1009.8,1747.9 1010.8,1748.3 1011.9,1748.7 1013.0,1749.0 1014.0,1749.4 1015.1,1749.8 1016.2,1750.1 1017.2,1750.5 1018.3,1750.8 1019.3,1751.2 1020.4,1751.5 1021.5,1751.8 1022.5,1752.1 1023.6,1752.4 1024.7,1752.7 1025.7,1753.1 1026.8,1753.4 1027.9,1753.7 1028.9,1754.0 1030.0,1754.3 1031.1,1754.6 1032.1,1754.9 1033.2,1755.2 1034.2,1755.4 1035.3,1755.7 1036.4,1756.0 1037.4,1756.3 1038.5,1756.5 1039.6,1756.8 1040.6,1757.1 1041.7,1757.3 1042.8,1757.6 1043.8,1757.8 1044.9,1758.0 1045.9,1758.3 1047.0,1758.5 1048.1,1758.7 1049.1,1758.9 1050.2,1759.1 1051.3,1759.3 1052.3,1759.5 1053.4,1759.8 1054.5,1760.0 1055.5,1760.1 1056.6,1760.3 1057.7,1760.5 1058.7,1760.7 1059.8,1760.8 1060.8,1761.0 1061.9,1761.1 1063.0,1761.2 1064.0,1761.3 1065.1,1761.4 1066.2,1761.5 1067.2,1761.6 1068.3,1761.7 1069.4,1761.8" stroke="#6dcbde" stroke-width="6.5" stroke-dasharray="12 19.8" stroke-linecap="round"/></g>
<g fill="none" stroke-linejoin="round" clip-path="url(#c11)"><path d="M740.4,1750.6 742.4,1750.6 743.5,1750.5 744.5,1750.4 745.6,1750.2 746.7,1750.1 747.7,1749.9 748.8,1749.7 749.9,1749.5 750.9,1749.3 752.0,1749.0 753.0,1748.8 754.1,1748.5 755.2,1748.2 756.2,1747.8 757.3,1747.5 758.4,1747.1 759.4,1746.8 760.5,1746.4 761.6,1746.1 762.6,1745.8 763.7,1745.5 764.8,1745.2 765.8,1744.9 766.9,1744.5 768.0,1744.0 769.0,1743.3 770.1,1742.5 771.2,1741.6 772.2,1740.6 773.3,1739.6 774.4,1738.4 775.4,1737.2 776.5,1735.8 777.5,1734.2 778.6,1732.4 779.7,1730.3 780.7,1727.9 781.8,1725.4 782.9,1722.8 783.9,1719.9 785.0,1716.8 786.1,1713.5 787.1,1710.0 788.2,1706.5 789.3,1702.9 790.3,1699.1 791.4,1695.2 792.5,1691.1 793.5,1687.0 794.6,1682.6 795.6,1678.1 796.7,1673.5 797.8,1668.9 798.8,1664.4 799.9,1659.8 801.0,1655.2 802.0,1650.6 803.1,1645.8 804.2,1640.7 805.2,1635.5 806.3,1630.2 807.4,1624.8 808.4,1619.4 809.5,1614.1 810.6,1608.7 811.6,1603.3 812.7,1597.9 813.8,1592.5 814.8,1587.3 815.9,1582.4 816.9,1577.5 818.0,1572.9 819.1,1568.5 820.1,1564.4 821.2,1560.5 822.3,1556.5 823.3,1552.4 824.4,1548.3 825.5,1544.0 826.5,1539.0 827.6,1533.2 828.7,1527.0 829.7,1521.0 830.8,1514.8 831.9,1508.6 832.9,1502.3 834.0,1495.8 835.1,1489.9 836.1,1485.1 837.2,1480.7 838.2,1477.3 839.3,1474.7 840.4,1472.9 841.4,1472.3 842.5,1472.0 843.6,1472.7 844.6,1474.3 845.7,1476.4 846.8,1479.1 847.8,1482.2 848.9,1485.8 850.0,1489.2 851.0,1491.8 852.1,1494.0 853.2,1496.0 854.2,1497.4 855.3,1497.7 856.4,1497.3 857.4,1496.7 858.5,1495.9 859.5,1495.1 860.6,1494.1 861.7,1493.1 862.7,1492.4 863.8,1492.4 864.9,1493.6 865.9,1495.3 867.0,1497.4 868.1,1500.2 869.1,1504.2 870.2,1510.4 871.3,1518.9 872.3,1528.7 873.4,1540.8 874.5,1554.9 875.5,1571.8 876.6,1592.1 877.7,1611.4 878.7,1627.8 879.8,1643.5 880.8,1660.2 881.9,1676.1 883.0,1688.8 884.0,1699.9 885.1,1709.7 886.2,1719.0 887.2,1728.1 888.3,1736.0 889.4,1741.5 890.4,1745.7 891.5,1749.2 892.6,1752.0 893.6,1754.1 894.7,1755.6 895.8,1756.9 896.8,1758.1 897.9,1759.1 899.0,1759.9 900.0,1760.5 901.1,1761.0 902.1,1761.4 903.2,1761.8 904.3,1762.1 905.3,1762.2 906.4,1762.4 907.5,1762.5 908.5,1762.6 909.6,1762.6 910.7,1762.7 911.7,1762.8 912.8,1762.8 913.9,1762.9 914.9,1762.9 916.0,1763.0 917.1,1763.0 918.1,1763.0 919.2,1763.1" stroke="#6dcbde" stroke-width="9.4" stroke-linecap="butt"/></g>
<g fill="none" stroke-linejoin="round" clip-path="url(#c11)"><path d="M953.9,1756.0 955.0,1752.9 956.1,1749.1 957.1,1744.8 958.2,1740.1 959.3,1735.0 960.3,1729.4 961.4,1723.0 962.5,1716.0 963.5,1708.4 964.6,1700.4 965.7,1692.0 966.7,1682.7 967.8,1672.8 968.9,1662.5 969.9,1651.9 971.0,1641.2 972.1,1630.0 973.1,1618.4 974.2,1606.7 975.3,1595.3 976.3,1584.5 977.4,1573.8 978.5,1563.1 979.5,1552.9 980.6,1543.4 981.7,1535.0 982.7,1527.5 983.8,1520.4 984.9,1513.8 985.9,1507.9 987.0,1502.8 988.1,1498.3 989.1,1494.0 990.2,1490.2 991.3,1486.9 992.3,1484.3 993.4,1482.4 994.5,1480.7 995.5,1479.1 996.6,1478.3 997.7,1477.3 998.7,1477.0 999.8,1476.4 1000.9,1476.4 1001.9,1475.8 1003.0,1475.0 1004.1,1474.7 1005.1,1475.1 1006.2,1476.1 1007.3,1476.8 1008.3,1478.4 1009.4,1480.1 1010.5,1480.8 1011.5,1481.4 1012.6,1484.8 1013.7,1487.3 1014.7,1488.8 1015.8,1491.7 1016.9,1494.7 1017.9,1497.8 1019.0,1501.1 1020.1,1504.7 1021.1,1508.4 1022.2,1512.4 1023.3,1516.5 1024.3,1520.9 1025.4,1525.6 1026.5,1530.8 1027.5,1536.3 1028.6,1541.9 1029.7,1547.5 1030.7,1553.0 1031.8,1558.1 1032.9,1563.1 1033.9,1568.0 1035.0,1572.8 1036.1,1577.6 1037.1,1582.3 1038.2,1586.8 1039.3,1591.3 1040.3,1595.6 1041.4,1599.9 1042.5,1604.0 1043.5,1608.1 1044.6,1612.1 1045.7,1616.0 1046.7,1619.8 1047.8,1623.4 1048.9,1627.0 1049.9,1630.3 1051.0,1633.6 1052.1,1636.7 1053.1,1639.7 1054.2,1642.6 1055.3,1645.4 1056.3,1648.2 1057.4,1650.9 1058.5,1653.5 1059.5,1656.2 1060.6,1658.8 1061.7,1661.5 1062.7,1664.1 1063.8,1666.9 1064.9,1669.5 1065.9,1672.4 1067.0,1674.8 1068.1,1677.7 1069.1,1679.8 1070.2,1681.4 1071.3,1682.9 1072.3,1685.8 1073.4,1688.9 1074.5,1689.7 1075.5,1691.7 1076.6,1692.8 1077.7,1695.7 1078.7,1695.9 1079.8,1699.7 1080.9,1701.9 1081.9,1702.6 1083.0,1702.6 1084.1,1704.9 1085.1,1707.4 1086.2,1708.8 1087.3,1709.7 1088.3,1711.9 1089.4,1712.8 1090.5,1712.4 1091.5,1713.9 1092.6,1715.5 1093.7,1719.7 1094.7,1719.1 1095.8,1721.1 1096.9,1720.0 1097.9,1723.6 1099.0,1722.1 1100.1,1726.0 1101.1,1726.2 1102.2,1725.0 1103.3,1727.4 1104.3,1727.0 1105.4,1729.5 1106.5,1731.6 1107.5,1730.5 1108.6,1732.1 1109.7,1732.9 1110.7,1735.2 1111.8,1735.9 1112.9,1733.5 1113.9,1734.1 1115.0,1734.7 1116.1,1737.8 1117.1,1739.8 1118.2,1738.3 1119.3,1738.2 1120.3,1739.2 1121.4,1742.2 1122.5,1742.0 1123.5,1740.6 1124.6,1743.8 1125.7,1741.2 1126.7,1741.1 1127.8,1744.6 1128.9,1745.9 1129.9,1742.7 1131.0,1744.0 1132.1,1745.7 1133.1,1746.1 1134.2,1744.8 1135.3,1747.5 1136.3,1749.1 1137.4,1747.3 1138.5,1748.9 1139.5,1747.8 1140.6,1747.1 1141.7,1749.9 1142.7,1750.7 1143.8,1751.9 1144.9,1749.1 1145.9,1752.5 1147.0,1749.3 1148.1,1750.7 1149.1,1750.2 1150.2,1750.9 1151.3,1753.7 1152.3,1754.1 1153.4,1751.2 1154.5,1754.3 1155.5,1752.5 1156.6,1755.3 1157.7,1755.1 1158.7,1753.9 1159.8,1755.9 1160.9,1754.1 1161.9,1753.9 1163.0,1756.4 1164.1,1756.8 1165.1,1758.2 1166.2,1756.8 1167.3,1758.5 1168.3,1756.7 1169.4,1756.5 1170.5,1757.2 1171.5,1757.3 1172.6,1757.5 1173.7,1756.5 1174.7,1758.2 1175.8,1757.0 1176.9,1759.3 1177.9,1760.3 1179.0,1760.1 1180.1,1757.8 1181.1,1760.2 1182.2,1758.1 1183.3,1757.7 1184.3,1759.3 1185.4,1761.0 1186.5,1759.1 1187.5,1760.2 1188.6,1758.2 1189.7,1761.1 1190.7,1761.1 1191.8,1760.2 1192.9,1760.2 1193.9,1761.6 1195.0,1760.9 1196.1,1759.8 1197.1,1760.6 1198.2,1762.4 1199.3,1761.0 1200.3,1761.1 1201.4,1761.0 1202.5,1762.8 1203.5,1761.9 1204.6,1759.2 1205.7,1759.5 1206.7,1759.3 1207.8,1760.1 1208.9,1761.5 1209.9,1759.5 1211.0,1762.1 1212.1,1761.0 1213.1,1761.0 1214.2,1761.7 1215.3,1762.5 1216.3,1762.2 1217.4,1760.9 1218.5,1762.4 1219.5,1762.2 1220.6,1762.1 1221.7,1762.3" stroke="#ed1c24" stroke-width="6.5" stroke-dasharray="12 19.8" stroke-linecap="round"/></g>
<g fill="none" stroke-linejoin="round" clip-path="url(#c11)"><path d="M740.4,1737.6 742.4,1737.6 743.5,1737.7 744.5,1737.7 745.6,1737.8 746.7,1737.9 747.7,1737.9 748.8,1738.0 749.8,1738.0 750.9,1738.1 752.0,1738.1 753.0,1738.2 754.1,1738.2 755.2,1738.2 756.2,1738.3 757.3,1738.3 758.4,1738.3 759.4,1738.3 760.5,1738.3 761.6,1738.4 762.6,1738.4 763.7,1738.4 764.7,1738.4 765.8,1738.4 766.9,1738.4 767.9,1738.4 769.0,1738.4 770.1,1738.4 771.1,1738.4 772.2,1738.4 773.3,1738.4 774.3,1738.4 775.4,1738.4 776.5,1738.4 777.5,1738.5 778.6,1738.9 779.6,1739.4 780.7,1740.1 781.8,1740.9 782.8,1741.8 783.9,1742.7 785.0,1743.5 786.0,1744.2 787.1,1744.8 788.2,1745.2 789.2,1745.7 790.3,1746.1 791.4,1746.5 792.4,1746.8 793.5,1747.2 794.5,1747.6 795.6,1747.9 796.7,1748.2 797.7,1748.5 798.8,1748.8 799.9,1749.1 800.9,1749.4 802.0,1749.7 803.1,1749.9 804.1,1750.1 805.2,1750.3 806.3,1750.6 807.3,1750.8 808.4,1751.0 809.4,1751.2 810.5,1751.4 811.6,1751.6 812.6,1751.8 813.7,1752.0 814.8,1752.2 815.8,1752.3 816.9,1752.5 818.0,1752.6 819.0,1752.8 820.1,1752.9 821.2,1753.0 822.2,1753.0 823.3,1753.1 824.3,1753.1 825.4,1753.1 826.5,1753.1 827.5,1753.1 828.6,1753.0 829.7,1753.0 830.7,1753.0 831.8,1752.9 832.9,1752.9 833.9,1752.9 835.0,1752.8 836.1,1752.8 837.1,1752.7 838.2,1752.6 839.2,1752.6 840.3,1752.5 841.4,1752.5 842.4,1752.4 843.5,1752.3 844.6,1752.2 845.6,1752.1 846.7,1752.0 847.8,1751.8 848.8,1751.7 849.9,1751.5 851.0,1751.3 852.0,1751.1 853.1,1750.8 854.1,1750.6 855.2,1750.3 856.3,1750.1 857.3,1749.8 858.4,1749.5 859.5,1749.2 860.5,1748.9 861.6,1748.6 862.7,1748.3 863.7,1748.0 864.8,1747.6 865.8,1747.2 866.9,1746.8 868.0,1746.3 869.0,1745.8 870.1,1745.3 871.2,1744.8 872.2,1744.2 873.3,1743.7 874.4,1743.0 875.4,1742.4 876.5,1741.8 877.6,1741.1 878.6,1740.4 879.7,1739.7 880.7,1738.9 881.8,1738.0 882.9,1737.1 883.9,1736.2 885.0,1735.1 886.1,1734.0 887.1,1732.8 888.2,1731.6 889.3,1730.3 890.3,1729.0 891.4,1727.6 892.5,1726.1 893.5,1724.7 894.6,1723.1 895.6,1721.5 896.7,1719.8 897.8,1717.9 898.8,1715.9 899.9,1713.9 901.0,1711.7 902.0,1709.4 903.1,1707.1 904.2,1704.7 905.2,1702.2 906.3,1699.7 907.4,1697.1 908.4,1694.3 909.5,1691.3 910.5,1688.3 911.6,1685.2 912.7,1682.1 913.7,1678.9 914.8,1675.8 915.9,1672.7 916.9,1669.3 918.0,1665.7 919.1,1662.2 920.1,1658.9 921.2,1655.9 922.3,1653.4 923.3,1651.3 924.4,1649.5 925.4,1647.9 926.5,1646.4 927.6,1644.9 928.6,1643.5 929.7,1642.1 930.8,1640.7 931.8,1639.4 932.9,1638.1 934.0,1636.8 935.0,1635.2 936.1,1633.2 937.2,1630.9 938.2,1628.2 939.3,1625.2 940.3,1621.8 941.4,1618.2 942.5,1614.1 943.5,1609.4 944.6,1604.3 945.7,1598.7 946.7,1592.8 947.8,1586.0 948.9,1578.4 949.9,1570.2 951.0,1561.9 952.1,1553.6 953.1,1545.2 954.2,1536.4 955.2,1527.6 956.3,1519.0 957.4,1511.0 958.4,1503.4 959.5,1495.8 960.6,1488.9 961.6,1483.3 962.7,1479.4 963.8,1475.8 964.8,1473.2 965.9,1472.4 967.0,1473.1 968.0,1474.8 969.1,1477.1 970.1,1480.2 971.2,1485.9 972.3,1493.4 973.3,1501.8 974.4,1510.3 975.5,1519.6 976.5,1530.0 977.6,1541.1 978.7,1552.4 979.7,1563.6 980.8,1574.8 981.8,1586.3 982.9,1597.8 984.0,1609.3 985.0,1620.3 986.1,1631.0 987.2,1641.8 988.2,1652.3 989.3,1662.2 990.4,1671.0 991.4,1678.6 992.5,1685.6 993.6,1692.0 994.6,1698.1 995.7,1703.6 996.7,1708.8 997.8,1713.5 998.9,1717.9 999.9,1722.0 1001.0,1726.0 1002.1,1729.7 1003.1,1733.1 1004.2,1736.1 1005.3,1738.6 1006.3,1740.7 1007.4,1742.6 1008.5,1744.5 1009.5,1746.2 1010.6,1747.8 1011.6,1749.2 1012.7,1750.5 1013.8,1751.7 1014.8,1752.7 1015.9,1753.6 1017.0,1754.3 1018.0,1754.9 1019.1,1755.5 1020.2,1756.1 1021.2,1756.6 1022.3,1757.1 1023.4,1757.5 1024.4,1758.0 1025.5,1758.3 1026.5,1758.7 1027.6,1759.0 1028.7,1759.2 1029.7,1759.5 1030.8,1759.6 1031.9,1759.7 1032.9,1759.9 1034.0,1760.0 1035.1,1760.1 1036.1,1760.2 1037.2,1760.3 1038.3,1760.4 1039.3,1760.5 1040.4,1760.5 1041.4,1760.6 1042.5,1760.7 1043.6,1760.8 1044.6,1760.9 1045.7,1760.9 1046.8,1761.0 1047.8,1761.1 1048.9,1761.1 1050.0,1761.2 1051.0,1761.2 1052.1,1761.3 1053.2,1761.3 1054.2,1761.4 1055.3,1761.4 1056.3,1761.4 1057.4,1761.5 1058.5,1761.5 1059.5,1761.5 1060.6,1761.5 1061.7,1761.5 1062.7,1761.6 1063.8,1761.6 1064.9,1761.6" stroke="#ed1c24" stroke-width="9.4" stroke-linecap="butt"/></g>
</g>
<g>
<g stroke="#000" stroke-width="4.8" fill="none" stroke-linecap="butt">
<path d="M1390.5,1428.3 V1758.4"/>
<path d="M1380.1,1756.0 H1879.8"/>
<path d="M1380.1,1607.8 H1390.5"/>
<path d="M1380.1,1459.5 H1390.5"/>
<path d="M1444.6,1756.0 V1766.0"/>
<path d="M1552.8,1756.0 V1766.0"/>
<path d="M1661.0,1756.0 V1766.0"/>
<path d="M1769.2,1756.0 V1766.0"/>
<path d="M1877.4,1756.0 V1766.0"/>
</g>
<g font-family='"Liberation Sans", "DejaVu Sans", sans-serif' font-weight="700" font-size="24.3" fill="#000">
<text x="1378.9" y="1764.5" text-anchor="end">0.0</text>
<text x="1378.9" y="1616.2" text-anchor="end">0.5</text>
<text x="1378.9" y="1468.0" text-anchor="end">1.0</text>
<text x="1444.6" y="1789.3" text-anchor="middle">400</text>
<text x="1552.8" y="1789.3" text-anchor="middle">500</text>
<text x="1661.0" y="1789.3" text-anchor="middle">600</text>
<text x="1769.2" y="1789.3" text-anchor="middle">700</text>
<text x="1877.4" y="1789.3" text-anchor="middle">800</text>
</g>
<g font-family='"Liberation Sans", "DejaVu Sans", sans-serif' font-size="24.4" fill="#000" stroke="#000" stroke-width="0.35">
<text x="1516.2" y="1422.4" textLength="61.8" lengthAdjust="spacingAndGlyphs">mTq2</text>
<text x="1636.0" y="1422.4" textLength="109.1" lengthAdjust="spacingAndGlyphs">mScarlet-I</text>
</g>
<text x="1533.3" y="1833.0" font-family='"Liberation Sans", "DejaVu Sans", sans-serif' font-size="26.7" fill="#000">Wavelength (nm)</text>
<clipPath id="c12"><rect x="1388.8" y="1400.2" width="488.9" height="356.5"/></clipPath>
<clipPath id="c12b"><rect x="1388.8" y="1400.2" width="491.1" height="367.8"/></clipPath>
<g fill="none" stroke-linejoin="round" clip-path="url(#c12b)"><path d="M1390.8,1755.7 1391.9,1755.7 1393.0,1755.7 1394.1,1755.7 1395.1,1755.7 1396.2,1755.7 1397.3,1755.7 1398.4,1755.7 1399.5,1755.7 1400.5,1755.7 1401.6,1755.7 1402.7,1755.7 1403.8,1755.7 1404.9,1755.7 1405.9,1755.7 1407.0,1755.7 1408.1,1755.7 1409.2,1755.7 1410.3,1755.7 1411.3,1755.7 1412.4,1755.7 1413.5,1755.7 1414.6,1755.7 1415.7,1755.7 1416.8,1755.7 1417.8,1755.7 1418.9,1755.7 1420.0,1755.7 1421.1,1755.7 1422.2,1755.7 1423.2,1755.7 1424.3,1755.7 1425.4,1755.7 1426.5,1755.7 1427.6,1755.7 1428.6,1755.7 1429.7,1755.7 1430.8,1755.7 1431.9,1755.7 1433.0,1755.7 1434.0,1755.7 1435.1,1755.7 1436.2,1755.7 1437.3,1755.7 1438.4,1755.7 1439.5,1755.7 1440.5,1755.7 1441.6,1755.7 1442.7,1755.7 1443.8,1755.7 1444.9,1755.7 1445.9,1755.7 1447.0,1755.7 1448.1,1755.7 1449.2,1755.7 1450.3,1755.7 1451.3,1755.7 1452.4,1755.7 1453.5,1755.7 1454.6,1755.7 1455.7,1755.7 1456.7,1755.7 1457.8,1755.7 1458.9,1755.7 1460.0,1755.7 1461.1,1755.7 1462.1,1755.7 1463.2,1755.7 1464.3,1755.7 1465.4,1755.7 1466.5,1755.7 1467.6,1755.7 1468.6,1755.7 1469.7,1755.7 1470.8,1755.7 1471.9,1755.7 1473.0,1755.7 1474.0,1755.7 1475.1,1755.7 1476.2,1755.7 1477.3,1755.7 1478.4,1755.7 1479.4,1755.7 1480.5,1755.7 1481.6,1755.7 1482.7,1755.7 1483.8,1755.7 1484.8,1755.7 1485.9,1755.7 1487.0,1755.7 1488.1,1755.7 1489.2,1755.7 1490.3,1755.7 1491.3,1755.7 1492.4,1755.7 1493.5,1755.7 1494.6,1755.3 1495.7,1754.8 1496.7,1754.2 1497.8,1753.5 1498.9,1752.8 1500.0,1752.1 1501.1,1751.4 1502.1,1750.6 1503.2,1749.7 1504.3,1748.6 1505.4,1747.3 1506.5,1745.6 1507.5,1743.6 1508.6,1741.2 1509.7,1738.4 1510.8,1735.1 1511.9,1731.2 1512.9,1725.0 1514.0,1716.7 1515.1,1707.2 1516.2,1697.4 1517.3,1687.7 1518.4,1677.3 1519.4,1665.0 1520.5,1649.4 1521.6,1624.8 1522.7,1599.3 1523.8,1578.7 1524.8,1559.6 1525.9,1540.9 1527.0,1522.1 1528.1,1505.1 1529.2,1491.2 1530.2,1478.8 1531.3,1470.3 1532.4,1465.1 1533.5,1461.2 1534.6,1459.9 1535.6,1460.8 1536.7,1462.8 1537.8,1465.2 1538.9,1468.7 1540.0,1473.2 1541.1,1478.6 1542.1,1485.4 1543.2,1492.5 1544.3,1500.0 1545.4,1507.1 1546.5,1513.9 1547.5,1520.3 1548.6,1526.0 1549.7,1531.1 1550.8,1534.0 1551.9,1535.9 1552.9,1536.4 1554.0,1536.1 1555.1,1535.4 1556.2,1534.6 1557.3,1533.4 1558.3,1531.7 1559.4,1529.8 1560.5,1528.1 1561.6,1526.5 1562.7,1524.9 1563.7,1523.6 1564.8,1523.0 1565.9,1522.6 1567.0,1522.4 1568.1,1523.1 1569.2,1525.6 1570.2,1529.2 1571.3,1534.6 1572.4,1539.6 1573.5,1544.6 1574.6,1549.9 1575.6,1555.5 1576.7,1561.8 1577.8,1569.3 1578.9,1577.2 1580.0,1584.9 1581.0,1591.5 1582.1,1596.9 1583.2,1601.7 1584.3,1606.1 1585.4,1610.2 1586.4,1614.3 1587.5,1618.4 1588.6,1622.8 1589.7,1627.3 1590.8,1631.9 1591.9,1636.4 1592.9,1640.7 1594.0,1644.8 1595.1,1648.4 1596.2,1651.6 1597.3,1654.6 1598.3,1657.3 1599.4,1660.0 1600.5,1662.5 1601.6,1664.9 1602.7,1667.1 1603.7,1669.3 1604.8,1671.5 1605.9,1673.5 1607.0,1675.5 1608.1,1677.5 1609.1,1679.4 1610.2,1681.3 1611.3,1683.1 1612.4,1684.9 1613.5,1686.5 1614.5,1688.1 1615.6,1689.7 1616.7,1691.3 1617.8,1692.8 1618.9,1694.3 1620.0,1695.8 1621.0,1697.4 1622.1,1699.0 1623.2,1700.7 1624.3,1702.4 1625.4,1704.3 1626.4,1706.3 1627.5,1708.4 1628.6,1710.6 1629.7,1712.8 1630.8,1715.0 1631.8,1717.2 1632.9,1719.2 1634.0,1721.2 1635.1,1722.9 1636.2,1724.5 1637.2,1725.8 1638.3,1726.9 1639.4,1727.8 1640.5,1728.7 1641.6,1729.6 1642.6,1730.4 1643.7,1731.1 1644.8,1731.8 1645.9,1732.5 1647.0,1733.1 1648.1,1733.8 1649.1,1734.3 1650.2,1734.9 1651.3,1735.4 1652.4,1736.0 1653.5,1736.5 1654.5,1737.0 1655.6,1737.4 1656.7,1737.9 1657.8,1738.4 1658.9,1738.8 1659.9,1739.3 1661.0,1739.7 1662.1,1740.1 1663.2,1740.6 1664.3,1741.0 1665.3,1741.4 1666.4,1741.7 1667.5,1742.1 1668.6,1742.5 1669.7,1742.8 1670.8,1743.2 1671.8,1743.5 1672.9,1743.9 1674.0,1744.2 1675.1,1744.5 1676.2,1744.8 1677.2,1745.1 1678.3,1745.5 1679.4,1745.8 1680.5,1746.1 1681.6,1746.4 1682.6,1746.7 1683.7,1747.0" stroke="#6dcbde" stroke-width="8.8" stroke-dasharray="28.5 20" stroke-linecap="round"/></g>
<g fill="none" stroke-linejoin="round" clip-path="url(#c12)"><path d="M1388.5,1743.0 1390.5,1743.0 1391.6,1742.9 1392.7,1742.7 1393.7,1742.6 1394.8,1742.4 1395.9,1742.2 1397.0,1742.0 1398.1,1741.8 1399.2,1741.6 1400.2,1741.4 1401.3,1741.1 1402.4,1740.8 1403.5,1740.5 1404.6,1740.1 1405.6,1739.8 1406.7,1739.4 1407.8,1739.1 1408.9,1738.7 1410.0,1738.4 1411.1,1738.1 1412.1,1737.8 1413.2,1737.5 1414.3,1737.2 1415.4,1736.8 1416.5,1736.2 1417.5,1735.5 1418.6,1734.7 1419.7,1733.7 1420.8,1732.8 1421.9,1731.7 1423.0,1730.5 1424.0,1729.3 1425.1,1727.8 1426.2,1726.2 1427.3,1724.4 1428.4,1722.2 1429.5,1719.9 1430.5,1717.3 1431.6,1714.6 1432.7,1711.7 1433.8,1708.5 1434.9,1705.1 1435.9,1701.6 1437.0,1698.1 1438.1,1694.4 1439.2,1690.5 1440.3,1686.5 1441.4,1682.4 1442.4,1678.1 1443.5,1673.7 1444.6,1669.1 1445.7,1664.4 1446.8,1659.7 1447.8,1655.1 1448.9,1650.5 1450.0,1645.8 1451.1,1641.0 1452.2,1636.1 1453.3,1631.0 1454.3,1625.7 1455.4,1620.2 1456.5,1614.7 1457.6,1609.3 1458.7,1603.8 1459.7,1598.4 1460.8,1592.9 1461.9,1587.4 1463.0,1581.9 1464.1,1576.6 1465.2,1571.5 1466.2,1566.6 1467.3,1561.9 1468.4,1557.4 1469.5,1553.2 1470.6,1549.2 1471.7,1545.2 1472.7,1541.1 1473.8,1536.9 1474.9,1532.4 1476.0,1527.4 1477.1,1521.5 1478.1,1515.2 1479.2,1509.0 1480.3,1502.7 1481.4,1496.4 1482.5,1490.0 1483.6,1483.4 1484.6,1477.3 1485.7,1472.4 1486.8,1468.0 1487.9,1464.5 1489.0,1461.8 1490.0,1460.0 1491.1,1459.4 1492.2,1459.1 1493.3,1459.8 1494.4,1461.4 1495.5,1463.6 1496.5,1466.3 1497.6,1469.5 1498.7,1473.2 1499.8,1476.6 1500.9,1479.3 1501.9,1481.5 1503.0,1483.5 1504.1,1484.9 1505.2,1485.3 1506.3,1484.9 1507.4,1484.2 1508.4,1483.4 1509.5,1482.6 1510.6,1481.6 1511.7,1480.6 1512.8,1479.9 1513.8,1479.9 1514.9,1481.1 1516.0,1482.9 1517.1,1484.9 1518.2,1487.8 1519.3,1491.9 1520.3,1498.3 1521.4,1506.9 1522.5,1516.9 1523.6,1529.1 1524.7,1543.6 1525.8,1560.8 1526.8,1581.5 1527.9,1601.1 1529.0,1617.9 1530.1,1633.9 1531.2,1650.8 1532.2,1667.1 1533.3,1680.0 1534.4,1691.3 1535.5,1701.3 1536.6,1710.8 1537.7,1720.1 1538.7,1728.1 1539.8,1733.7 1540.9,1738.0 1542.0,1741.6 1543.1,1744.4 1544.1,1746.5 1545.2,1748.0 1546.3,1749.4 1547.4,1750.6 1548.5,1751.6 1549.6,1752.4 1550.6,1753.1 1551.7,1753.6 1552.8,1754.0 1553.9,1754.3 1555.0,1754.6 1556.0,1754.8 1557.1,1754.9 1558.2,1755.1 1559.3,1755.1 1560.4,1755.2 1561.5,1755.3 1562.5,1755.4 1563.6,1755.4" stroke="#6dcbde" stroke-width="9.6" stroke-linecap="butt"/></g>
<g fill="none" stroke-linejoin="round" clip-path="url(#c12b)"><path d="M1606.1,1754.1 1607.2,1753.8 1608.2,1753.0 1609.3,1751.8 1610.4,1750.2 1611.5,1748.3 1612.6,1746.3 1613.6,1744.0 1614.7,1740.8 1615.8,1736.5 1616.9,1731.4 1618.0,1725.5 1619.0,1719.1 1620.1,1711.5 1621.2,1702.0 1622.3,1691.3 1623.4,1679.9 1624.5,1668.3 1625.5,1656.3 1626.6,1643.4 1627.7,1629.9 1628.8,1616.3 1629.9,1602.9 1630.9,1589.5 1632.0,1575.7 1633.1,1562.0 1634.2,1548.9 1635.3,1536.9 1636.3,1525.8 1637.4,1515.0 1638.5,1504.8 1639.6,1495.9 1640.7,1488.5 1641.7,1482.8 1642.8,1477.5 1643.9,1472.8 1645.0,1469.0 1646.1,1466.1 1647.2,1464.2 1648.2,1462.6 1649.3,1461.2 1650.4,1460.2 1651.5,1459.6 1652.6,1459.5 1653.6,1459.7 1654.7,1460.2 1655.8,1460.8 1656.9,1461.5 1658.0,1462.4 1659.0,1463.4 1660.1,1464.9 1661.2,1466.8 1662.3,1469.1 1663.4,1471.6 1664.4,1474.2 1665.5,1476.9 1666.6,1479.6 1667.7,1482.5 1668.8,1485.7 1669.9,1489.2 1670.9,1492.8 1672.0,1496.6 1673.1,1500.4 1674.2,1504.2 1675.3,1508.1 1676.3,1511.8 1677.4,1515.5 1678.5,1519.2 1679.6,1523.0 1680.7,1526.8 1681.7,1530.6 1682.8,1534.5 1683.9,1538.3 1685.0,1542.2 1686.1,1546.0 1687.2,1549.8 1688.2,1553.6 1689.3,1557.3 1690.4,1561.1 1691.5,1565.0 1692.6,1568.8 1693.6,1572.6 1694.7,1576.4 1695.8,1580.1 1696.9,1583.8 1698.0,1587.4 1699.0,1591.0 1700.1,1594.4 1701.2,1597.8 1702.3,1601.1 1703.4,1604.5 1704.4,1607.7 1705.5,1611.0 1706.6,1614.2 1707.7,1617.4 1708.8,1620.5 1709.9,1623.5 1710.9,1626.5 1712.0,1629.5 1713.1,1632.4 1714.2,1635.3 1715.3,1638.0 1716.3,1640.8 1717.4,1643.5 1718.5,1646.1 1719.6,1648.7 1720.7,1651.3 1721.7,1653.8 1722.8,1656.3 1723.9,1658.8 1725.0,1661.2 1726.1,1663.5 1727.1,1665.7 1728.2,1668.2 1729.3,1670.3 1730.4,1672.1 1731.5,1674.4 1732.6,1676.7 1733.6,1677.9 1734.7,1681.2 1735.8,1683.1 1736.9,1684.5 1738.0,1685.2 1739.0,1688.8 1740.1,1691.1 1741.2,1689.8 1742.3,1694.7 1743.4,1694.4 1744.4,1697.3 1745.5,1697.4 1746.6,1698.8 1747.7,1702.8 1748.8,1703.1 1749.8,1704.7 1750.9,1706.7 1752.0,1708.9 1753.1,1710.2 1754.2,1709.2 1755.3,1712.6 1756.3,1713.0 1757.4,1711.5 1758.5,1713.1 1759.6,1714.2 1760.7,1718.4 1761.7,1718.9 1762.8,1720.3 1763.9,1720.4 1765.0,1721.2 1766.1,1722.8 1767.1,1722.4 1768.2,1723.8 1769.3,1724.7 1770.4,1727.7 1771.5,1726.1 1772.5,1727.5 1773.6,1729.8 1774.7,1730.3 1775.8,1728.6 1776.9,1732.0 1778.0,1732.8 1779.0,1732.4 1780.1,1733.1 1781.2,1736.3 1782.3,1734.6 1783.4,1734.5 1784.4,1734.4 1785.5,1736.0 1786.6,1739.1 1787.7,1739.1 1788.8,1739.0 1789.8,1738.7 1790.9,1741.5 1792.0,1740.8 1793.1,1741.6 1794.2,1739.4 1795.2,1739.9 1796.3,1741.3 1797.4,1742.6 1798.5,1744.5 1799.6,1741.7 1800.7,1742.2 1801.7,1742.7 1802.8,1746.6 1803.9,1743.9 1805.0,1747.1 1806.1,1744.1 1807.1,1745.8 1808.2,1744.4 1809.3,1747.1 1810.4,1746.5 1811.5,1746.2 1812.5,1748.7 1813.6,1747.4 1814.7,1746.9 1815.8,1748.4 1816.9,1749.0 1817.9,1748.8 1819.0,1747.3 1820.1,1747.3 1821.2,1748.9 1822.3,1748.7 1823.4,1748.1 1824.4,1751.8 1825.5,1752.5 1826.6,1749.7 1827.7,1750.4 1828.8,1752.7 1829.8,1751.2 1830.9,1751.4 1832.0,1752.5 1833.1,1752.8 1834.2,1753.2 1835.2,1751.7 1836.3,1753.6 1837.4,1751.4 1838.5,1750.9 1839.6,1751.8 1840.6,1753.6 1841.7,1753.2 1842.8,1752.8 1843.9,1753.6 1845.0,1752.9 1846.1,1752.4 1847.1,1754.1 1848.2,1754.6 1849.3,1752.3 1850.4,1752.5 1851.5,1755.6 1852.5,1753.2 1853.6,1755.5 1854.7,1753.8 1855.8,1755.0 1856.9,1752.9 1857.9,1756.0 1859.0,1752.7 1860.1,1755.1 1861.2,1756.1 1862.3,1754.8 1863.3,1756.4 1864.4,1753.8 1865.5,1755.4 1866.6,1755.6 1867.7,1756.6 1868.8,1756.3 1869.8,1755.0 1870.9,1756.7 1872.0,1755.2 1873.1,1753.4 1874.2,1755.6 1875.2,1756.5 1876.3,1753.9 1877.4,1754.6" stroke="#ee3124" stroke-width="8.8" stroke-dasharray="28.5 20" stroke-linecap="round"/></g>
<g fill="none" stroke-linejoin="round" clip-path="url(#c12)"><path d="M1392.5,1730.2 1393.6,1730.7 1394.7,1731.2 1395.8,1731.7 1396.9,1732.2 1397.9,1732.7 1399.0,1733.2 1400.1,1733.7 1401.2,1734.2 1402.3,1734.7 1403.3,1735.2 1404.4,1735.7 1405.5,1736.2 1406.6,1736.7 1407.7,1737.2 1408.7,1737.7 1409.8,1738.3 1410.9,1738.8 1412.0,1739.4 1413.1,1739.9 1414.1,1740.5 1415.2,1741.1 1416.3,1741.7 1417.4,1742.2 1418.5,1742.8 1419.5,1743.4 1420.6,1743.9 1421.7,1744.5 1422.8,1745.0 1423.9,1745.5 1424.9,1746.0 1426.0,1746.4 1427.1,1746.9 1428.2,1747.3 1429.3,1747.8 1430.4,1748.2 1431.4,1748.7 1432.5,1749.2 1433.6,1749.6 1434.7,1750.1 1435.8,1750.5 1436.8,1750.9 1437.9,1751.3 1439.0,1751.6 1440.1,1752.0 1441.2,1752.3 1442.2,1752.5 1443.3,1752.8 1444.4,1752.9 1445.5,1753.1 1446.6,1753.2 1447.6,1753.3 1448.7,1753.4 1449.8,1753.5 1450.9,1753.6 1452.0,1753.7 1453.0,1753.7 1454.1,1753.8 1455.2,1753.9 1456.3,1753.9 1457.4,1754.0 1458.4,1754.0 1459.5,1754.1 1460.6,1754.1 1461.7,1754.1 1462.8,1754.2 1463.9,1754.2 1464.9,1754.1 1466.0,1754.1 1467.1,1754.1 1468.2,1754.0 1469.3,1753.9 1470.3,1753.8 1471.4,1753.7 1472.5,1753.6 1473.6,1753.5 1474.7,1753.3 1475.7,1753.2 1476.8,1753.1 1477.9,1752.9 1479.0,1752.8 1480.1,1752.6 1481.1,1752.5 1482.2,1752.3 1483.3,1752.2 1484.4,1752.0 1485.5,1751.9 1486.5,1751.7 1487.6,1751.5 1488.7,1751.3 1489.8,1751.1 1490.9,1750.9 1491.9,1750.7 1493.0,1750.5 1494.1,1750.3 1495.2,1750.0 1496.3,1749.8 1497.3,1749.5 1498.4,1749.3 1499.5,1749.0 1500.6,1748.7 1501.7,1748.4 1502.8,1748.0 1503.8,1747.6 1504.9,1747.2 1506.0,1746.7 1507.1,1746.3 1508.2,1745.8 1509.2,1745.2 1510.3,1744.7 1511.4,1744.1 1512.5,1743.5 1513.6,1742.9 1514.6,1742.2 1515.7,1741.6 1516.8,1740.9 1517.9,1740.3 1519.0,1739.6 1520.0,1738.9 1521.1,1738.1 1522.2,1737.3 1523.3,1736.5 1524.4,1735.6 1525.4,1734.7 1526.5,1733.7 1527.6,1732.8 1528.7,1731.8 1529.8,1730.7 1530.8,1729.7 1531.9,1728.6 1533.0,1727.5 1534.1,1726.4 1535.2,1725.3 1536.3,1724.1 1537.3,1722.8 1538.4,1721.5 1539.5,1720.2 1540.6,1718.8 1541.7,1717.4 1542.7,1716.0 1543.8,1714.6 1544.9,1713.2 1546.0,1711.7 1547.1,1710.3 1548.1,1708.9 1549.2,1707.5 1550.3,1706.2 1551.4,1704.9 1552.5,1703.6 1553.5,1702.3 1554.6,1701.0 1555.7,1699.6 1556.8,1698.2 1557.9,1696.6 1558.9,1694.9 1560.0,1693.0 1561.1,1690.9 1562.2,1688.6 1563.3,1686.0 1564.3,1683.2 1565.4,1680.2 1566.5,1677.1 1567.6,1673.7 1568.7,1670.0 1569.7,1665.8 1570.8,1661.4 1571.9,1656.8 1573.0,1652.1 1574.1,1647.6 1575.2,1643.2 1576.2,1638.5 1577.3,1633.7 1578.4,1629.2 1579.5,1625.3 1580.6,1622.3 1581.6,1619.3 1582.7,1616.6 1583.8,1614.3 1584.9,1612.8 1586.0,1612.3 1587.0,1612.1 1588.1,1612.0 1589.2,1612.0 1590.3,1611.9 1591.4,1611.8 1592.4,1611.7 1593.5,1611.5 1594.6,1611.3 1595.7,1611.0 1596.8,1610.6 1597.8,1610.2 1598.9,1609.6 1600.0,1609.0 1601.1,1608.1 1602.2,1606.6 1603.2,1604.4 1604.3,1601.7 1605.4,1598.6 1606.5,1595.0 1607.6,1591.2 1608.7,1586.6 1609.7,1580.4 1610.8,1572.9 1611.9,1564.7 1613.0,1556.4 1614.1,1548.0 1615.1,1538.8 1616.2,1529.1 1617.3,1519.3 1618.4,1509.9 1619.5,1501.0 1620.5,1491.8 1621.6,1483.0 1622.7,1475.7 1623.8,1470.4 1624.9,1465.7 1625.9,1461.8 1627.0,1459.7 1628.1,1459.8 1629.2,1461.4 1630.3,1463.9 1631.3,1467.1 1632.4,1471.3 1633.5,1478.6 1634.6,1488.3 1635.7,1499.3 1636.7,1510.4 1637.8,1522.7 1638.9,1536.5 1640.0,1550.8 1641.1,1564.6 1642.1,1577.9 1643.2,1591.2 1644.3,1604.4 1645.4,1617.2 1646.5,1629.4 1647.6,1641.3 1648.6,1653.1 1649.7,1664.5 1650.8,1675.0 1651.9,1684.1 1653.0,1691.7 1654.0,1698.9 1655.1,1705.5 1656.2,1711.5 1657.3,1717.0 1658.4,1721.9 1659.4,1726.2 1660.5,1730.1 1661.6,1733.8 1662.7,1737.3 1663.8,1740.4 1664.8,1743.1 1665.9,1745.3 1667.0,1746.9 1668.1,1748.2 1669.2,1749.4 1670.2,1750.5 1671.3,1751.5 1672.4,1752.4 1673.5,1753.1 1674.6,1753.6 1675.6,1754.0 1676.7,1754.3 1677.8,1754.5 1678.9,1754.7 1680.0,1754.8 1681.1,1755.0 1682.1,1755.1 1683.2,1755.2 1684.3,1755.2 1685.4,1755.3" stroke="#ee3124" stroke-width="9.6" stroke-linecap="butt"/></g>
<path d="M1390.5,1428.3 V1758.4" stroke="#000" stroke-width="4.8" fill="none"/>
</g>
<g>
<g stroke="#000" stroke-width="4.3" fill="none" stroke-linecap="butt">
<path d="M82.7,1916.0 V2239.8"/>
<path d="M73.8,2237.6 H563.9"/>
<path d="M73.8,2092.1 H82.7"/>
<path d="M73.8,1946.6 H82.7"/>
<path d="M135.9,2237.6 V2246.1"/>
<path d="M242.4,2237.6 V2246.1"/>
<path d="M348.8,2237.6 V2246.1"/>
<path d="M455.3,2237.6 V2246.1"/>
<path d="M561.7,2237.6 V2246.1"/>
</g>
<g font-family='"Liberation Sans", "DejaVu Sans", sans-serif' font-weight="700" font-size="24.0" fill="#000">
<text x="69.7" y="2246.1" text-anchor="end">0.0</text>
<text x="69.7" y="2100.6" text-anchor="end">0.5</text>
<text x="69.7" y="1955.1" text-anchor="end">1.0</text>
<text x="135.9" y="2272.6" text-anchor="middle">400</text>
<text x="242.4" y="2272.6" text-anchor="middle">500</text>
<text x="348.8" y="2272.6" text-anchor="middle">600</text>
<text x="455.3" y="2272.6" text-anchor="middle">700</text>
<text x="561.7" y="2272.6" text-anchor="middle">800</text>
</g>
<g font-family='"Liberation Sans", "DejaVu Sans", sans-serif' font-size="24.4" fill="#000" stroke="#000" stroke-width="0.35">
<text x="201.0" y="1905.0" textLength="61.8" lengthAdjust="spacingAndGlyphs">mTq2</text>
<text x="320.7" y="1902.0" textLength="93.5" lengthAdjust="spacingAndGlyphs">mCherry</text>
</g>
<text transform="translate(27.3,2076.8) rotate(-90)" text-anchor="middle" font-family='"Liberation Sans", "DejaVu Sans", sans-serif' font-size="26.1" fill="#000">Normalized Instensity (AU)</text>
<text x="224.3" y="2309.4" font-family='"Liberation Sans", "DejaVu Sans", sans-serif' font-size="26.3" fill="#000">Wavelength (nm)</text>
<clipPath id="c13"><rect x="81.0" y="1888.4" width="481.0" height="349.9"/></clipPath>
<clipPath id="c13b"><rect x="81.0" y="1888.4" width="483.2" height="361.2"/></clipPath>
<g fill="none" stroke-linejoin="round" clip-path="url(#c13)"><path d="M83.0,2237.3 84.1,2237.3 85.1,2237.3 86.2,2237.3 87.3,2237.3 88.3,2237.3 89.4,2237.3 90.5,2237.3 91.5,2237.3 92.6,2237.3 93.6,2237.3 94.7,2237.3 95.8,2237.3 96.8,2237.3 97.9,2237.3 99.0,2237.3 100.0,2237.3 101.1,2237.3 102.2,2237.3 103.2,2237.3 104.3,2237.3 105.3,2237.3 106.4,2237.3 107.5,2237.3 108.5,2237.3 109.6,2237.3 110.7,2237.3 111.7,2237.3 112.8,2237.3 113.9,2237.3 114.9,2237.3 116.0,2237.3 117.0,2237.3 118.1,2237.3 119.2,2237.3 120.2,2237.3 121.3,2237.3 122.4,2237.3 123.4,2237.3 124.5,2237.3 125.5,2237.3 126.6,2237.3 127.7,2237.3 128.7,2237.3 129.8,2237.3 130.9,2237.3 131.9,2237.3 133.0,2237.3 134.1,2237.3 135.1,2237.3 136.2,2237.3 137.2,2237.3 138.3,2237.3 139.4,2237.3 140.4,2237.3 141.5,2237.3 142.6,2237.3 143.6,2237.3 144.7,2237.3 145.8,2237.3 146.8,2237.3 147.9,2237.3 148.9,2237.3 150.0,2237.3 151.1,2237.3 152.1,2237.3 153.2,2237.3 154.3,2237.3 155.3,2237.3 156.4,2237.3 157.5,2237.3 158.5,2237.3 159.6,2237.3 160.6,2237.3 161.7,2237.3 162.8,2237.3 163.8,2237.3 164.9,2237.3 166.0,2237.3 167.0,2237.3 168.1,2237.3 169.2,2237.3 170.2,2237.3 171.3,2237.3 172.3,2237.3 173.4,2237.3 174.5,2237.3 175.5,2237.3 176.6,2237.3 177.7,2237.3 178.7,2237.3 179.8,2237.3 180.9,2237.3 181.9,2237.3 183.0,2237.3 184.0,2237.3 185.1,2236.9 186.2,2236.4 187.2,2235.8 188.3,2235.1 189.4,2234.5 190.4,2233.8 191.5,2233.1 192.5,2232.3 193.6,2231.4 194.7,2230.3 195.7,2229.0 196.8,2227.4 197.9,2225.4 198.9,2223.1 200.0,2220.3 201.1,2217.0 202.1,2213.2 203.2,2207.1 204.2,2198.9 205.3,2189.6 206.4,2179.9 207.4,2170.5 208.5,2160.2 209.6,2148.1 210.6,2132.7 211.7,2108.4 212.8,2083.5 213.8,2063.3 214.9,2044.5 215.9,2026.2 217.0,2007.7 218.1,1991.1 219.1,1977.5 220.2,1965.4 221.3,1957.1 222.3,1952.1 223.4,1948.3 224.5,1947.0 225.5,1947.9 226.6,1949.9 227.6,1952.3 228.7,1955.7 229.8,1960.1 230.8,1965.5 231.9,1972.1 233.0,1979.1 234.0,1986.4 235.1,1993.4 236.2,2000.1 237.2,2006.3 238.3,2011.9 239.3,2017.0 240.4,2019.8 241.5,2021.7 242.5,2022.1 243.6,2021.7 244.7,2021.1 245.7,2020.3 246.8,2019.1 247.9,2017.5 248.9,2015.6 250.0,2013.9 251.0,2012.3 252.1,2010.8 253.2,2009.5 254.2,2008.9 255.3,2008.5 256.4,2008.3 257.4,2009.1 258.5,2011.5 259.5,2015.1 260.6,2020.4 261.7,2025.3 262.7,2030.3 263.8,2035.4 264.9,2040.9 265.9,2047.2 267.0,2054.5 268.1,2062.3 269.1,2069.8 270.2,2076.3 271.2,2081.6 272.3,2086.3 273.4,2090.6 274.4,2094.6 275.5,2098.6 276.6,2102.7 277.6,2107.0 278.7,2111.4 279.8,2115.9 280.8,2120.3 281.9,2124.6 282.9,2128.5 284.0,2132.1 285.1,2135.2 286.1,2138.1 287.2,2140.8 288.3,2143.4 289.3,2145.9 290.4,2148.2 291.5,2150.4 292.5,2152.6 293.6,2154.7 294.6,2156.7 295.7,2158.6 296.8,2160.6 297.8,2162.4 298.9,2164.3 300.0,2166.1 301.0,2167.8 302.1,2169.5 303.2,2171.0 304.2,2172.6 305.3,2174.1 306.3,2175.6 307.4,2177.1 308.5,2178.6 309.5,2180.1 310.6,2181.7 311.7,2183.3 312.7,2185.1 313.8,2186.9 314.9,2188.9 315.9,2191.0 317.0,2193.1 318.0,2195.3 319.1,2197.4 320.2,2199.6 321.2,2201.6 322.3,2203.5 323.4,2205.2 324.4,2206.7 325.5,2208.0 326.5,2209.1 327.6,2210.0 328.7,2210.8 329.7,2211.7 330.8,2212.4 331.9,2213.2 332.9,2213.9 334.0,2214.6 335.1,2215.2 336.1,2215.8 337.2,2216.4 338.2,2216.9 339.3,2217.4 340.4,2217.9 341.4,2218.4 342.5,2218.9 343.6,2219.4 344.6,2219.8 345.7,2220.3 346.8,2220.8 347.8,2221.2 348.9,2221.6 349.9,2222.1 351.0,2222.5 352.1,2222.9 353.1,2223.2 354.2,2223.6 355.3,2224.0 356.3,2224.3 357.4,2224.7 358.5,2225.0 359.5,2225.4 360.6,2225.7 361.6,2226.0 362.7,2226.3 363.8,2226.6 364.8,2226.9 365.9,2227.3 367.0,2227.6 368.0,2227.9 369.1,2228.2 370.2,2228.5 371.2,2228.8 372.3,2229.1 373.3,2229.4 374.4,2229.6 375.5,2229.9 376.5,2230.2 377.6,2230.5 378.7,2230.7 379.7,2231.0 380.8,2231.3 381.9,2231.5 382.9,2231.8 384.0,2232.0 385.0,2232.2 386.1,2232.5 387.2,2232.7 388.2,2232.9 389.3,2233.1 390.4,2233.3 391.4,2233.5 392.5,2233.7 393.5,2234.0 394.6,2234.2 395.7,2234.3 396.7,2234.5 397.8,2234.7 398.9,2234.9 399.9,2235.0 401.0,2235.2 402.1,2235.3 403.1,2235.4 404.2,2235.5 405.2,2235.6 406.3,2235.7 407.4,2235.8 408.4,2235.9 409.5,2236.0" stroke="#6dcbde" stroke-width="6.5" stroke-dasharray="12 19.8" stroke-linecap="round"/></g>
<g fill="none" stroke-linejoin="round" clip-path="url(#c13)"><path d="M80.7,2224.8 82.7,2224.8 83.8,2224.7 84.8,2224.6 85.9,2224.4 87.0,2224.3 88.0,2224.1 89.1,2223.9 90.2,2223.7 91.2,2223.5 92.3,2223.2 93.3,2223.0 94.4,2222.7 95.5,2222.4 96.5,2222.0 97.6,2221.7 98.7,2221.3 99.7,2221.0 100.8,2220.6 101.9,2220.3 102.9,2220.0 104.0,2219.7 105.1,2219.4 106.1,2219.1 107.2,2218.7 108.2,2218.2 109.3,2217.5 110.4,2216.7 111.4,2215.8 112.5,2214.8 113.6,2213.8 114.6,2212.6 115.7,2211.4 116.8,2210.0 117.8,2208.4 118.9,2206.6 120.0,2204.5 121.0,2202.1 122.1,2199.6 123.2,2197.0 124.2,2194.1 125.3,2191.0 126.3,2187.7 127.4,2184.2 128.5,2180.7 129.5,2177.1 130.6,2173.3 131.7,2169.4 132.7,2165.3 133.8,2161.2 134.9,2156.8 135.9,2152.3 137.0,2147.7 138.1,2143.1 139.1,2138.6 140.2,2134.0 141.2,2129.4 142.3,2124.8 143.4,2120.0 144.4,2114.9 145.5,2109.7 146.6,2104.4 147.6,2099.0 148.7,2093.6 149.8,2088.3 150.8,2082.9 151.9,2077.5 153.0,2072.1 154.0,2066.7 155.1,2061.5 156.2,2056.6 157.2,2051.7 158.3,2047.1 159.3,2042.7 160.4,2038.6 161.5,2034.7 162.5,2030.7 163.6,2026.6 164.7,2022.5 165.7,2018.2 166.8,2013.2 167.9,2007.4 168.9,2001.2 170.0,1995.2 171.1,1989.0 172.1,1982.8 173.2,1976.5 174.2,1970.0 175.3,1964.1 176.4,1959.3 177.4,1954.9 178.5,1951.5 179.6,1948.9 180.6,1947.1 181.7,1946.5 182.8,1946.2 183.8,1946.9 184.9,1948.5 186.0,1950.6 187.0,1953.3 188.1,1956.4 189.2,1960.0 190.2,1963.4 191.3,1966.0 192.3,1968.2 193.4,1970.2 194.5,1971.6 195.5,1971.9 196.6,1971.5 197.7,1970.9 198.7,1970.1 199.8,1969.3 200.9,1968.3 201.9,1967.3 203.0,1966.6 204.1,1966.6 205.1,1967.8 206.2,1969.5 207.2,1971.6 208.3,1974.4 209.4,1978.4 210.4,1984.6 211.5,1993.1 212.6,2002.9 213.6,2015.0 214.7,2029.1 215.8,2046.0 216.8,2066.3 217.9,2085.6 219.0,2102.0 220.0,2117.7 221.1,2134.4 222.1,2150.3 223.2,2163.0 224.3,2174.1 225.3,2183.9 226.4,2193.2 227.5,2202.3 228.5,2210.2 229.6,2215.7 230.7,2219.9 231.7,2223.4 232.8,2226.2 233.9,2228.3 234.9,2229.8 236.0,2231.1 237.1,2232.3 238.1,2233.3 239.2,2234.1 240.2,2234.7 241.3,2235.2 242.4,2235.6 243.4,2236.0 244.5,2236.3 245.6,2236.4 246.6,2236.6 247.7,2236.7 248.8,2236.8 249.8,2236.8 250.9,2236.9 252.0,2237.0 253.0,2237.0 254.1,2237.1 255.1,2237.1 256.2,2237.2 257.3,2237.2 258.3,2237.2 259.4,2237.3" stroke="#6dcbde" stroke-width="9.4" stroke-linecap="butt"/></g>
<g fill="none" stroke-linejoin="round" clip-path="url(#c13)"><path d="M295.0,2237.5 296.1,2237.4 297.2,2237.4 298.2,2237.3 299.3,2237.3 300.4,2237.1 301.4,2237.0 302.5,2236.9 303.6,2236.7 304.6,2236.6 305.7,2236.4 306.8,2236.2 307.8,2235.9 308.9,2235.5 310.0,2235.0 311.0,2234.4 312.1,2233.8 313.2,2233.0 314.2,2232.1 315.3,2231.1 316.4,2230.1 317.4,2228.9 318.5,2227.5 319.6,2225.3 320.6,2222.0 321.7,2217.7 322.8,2212.8 323.8,2207.5 324.9,2201.9 326.0,2195.1 327.0,2187.3 328.1,2178.7 329.1,2169.5 330.2,2160.0 331.3,2149.8 332.3,2138.4 333.4,2126.5 334.5,2114.3 335.5,2102.5 336.6,2090.8 337.7,2078.9 338.7,2067.0 339.8,2055.6 340.9,2044.9 341.9,2035.1 343.0,2025.8 344.1,2016.9 345.1,2008.5 346.2,2000.8 347.3,1993.7 348.3,1986.8 349.4,1980.4 350.5,1974.6 351.5,1969.8 352.6,1965.7 353.7,1962.0 354.7,1958.6 355.8,1955.8 356.9,1953.8 357.9,1952.3 359.0,1951.1 360.1,1950.0 361.1,1949.2 362.2,1948.9 363.2,1949.1 364.3,1950.1 365.4,1951.6 366.4,1953.5 367.5,1955.6 368.6,1958.5 369.6,1962.5 370.7,1967.2 371.8,1972.3 372.8,1977.5 373.9,1983.6 375.0,1990.4 376.0,1997.4 377.1,2004.2 378.2,2010.3 379.2,2015.9 380.3,2021.3 381.4,2026.6 382.4,2031.6 383.5,2036.5 384.6,2041.0 385.6,2045.3 386.7,2049.4 387.8,2053.4 388.8,2057.2 389.9,2060.8 391.0,2064.3 392.0,2067.7 393.1,2071.1 394.2,2074.2 395.2,2076.2 396.3,2079.8 397.3,2082.6 398.4,2084.7 399.5,2086.2 400.5,2088.6 401.6,2090.3 402.7,2091.4 403.7,2095.7 404.8,2097.9 405.9,2097.3 406.9,2102.0 408.0,2101.8 409.1,2106.2 410.1,2107.9 411.2,2110.3 412.3,2108.9 413.3,2113.4 414.4,2115.4 415.5,2116.7 416.5,2118.2 417.6,2121.1 418.7,2121.9 419.7,2121.8 420.8,2123.3 421.9,2127.7 422.9,2127.8 424.0,2128.3 425.1,2131.9 426.1,2134.6 427.2,2138.2 428.3,2136.3 429.3,2138.3 430.4,2143.7 431.4,2145.3 432.5,2144.2 433.6,2147.5 434.6,2150.5 435.7,2153.6 436.8,2155.9 437.8,2155.8 438.9,2157.1 440.0,2158.0 441.0,2161.0 442.1,2164.7 443.2,2164.8 444.2,2169.8 445.3,2169.0 446.4,2170.3 447.4,2175.2 448.5,2175.2 449.6,2177.9 450.6,2179.0 451.7,2180.9 452.8,2182.0 453.8,2184.4 454.9,2183.3 456.0,2187.7 457.0,2186.6 458.1,2189.9 459.2,2189.7 460.2,2192.0 461.3,2192.8 462.4,2193.4 463.4,2196.4 464.5,2197.5 465.6,2195.4 466.6,2198.6 467.7,2200.7 468.7,2198.8 469.8,2199.3 470.9,2200.7 471.9,2202.1 473.0,2205.9 474.1,2202.9 475.1,2205.3 476.2,2204.5 477.3,2206.8 478.3,2210.1 479.4,2206.2 480.5,2210.9 481.5,2209.0 482.6,2211.3 483.7,2212.6 484.7,2213.4 485.8,2211.5 486.9,2213.7 487.9,2212.8 489.0,2211.8 490.1,2215.7 491.1,2216.6 492.2,2215.8 493.3,2214.8 494.3,2214.1 495.4,2218.2 496.5,2217.2 497.5,2218.5 498.6,2219.2 499.7,2219.1 500.7,2217.2 501.8,2220.8 502.8,2217.5 503.9,2218.0 505.0,2219.1 506.0,2221.2 507.1,2222.1 508.2,2218.9 509.2,2223.2 510.3,2221.6 511.4,2222.4 512.4,2223.7 513.5,2220.2 514.6,2224.0 515.6,2222.0 516.7,2221.5 517.8,2222.7 518.8,2225.4 519.9,2222.7 521.0,2225.6 522.0,2222.4 523.1,2226.7 524.2,2224.3 525.2,2224.6 526.3,2225.3 527.4,2227.0 528.4,2226.7 529.5,2224.6 530.6,2223.7 531.6,2224.0 532.7,2225.0 533.8,2227.4 534.8,2225.1 535.9,2227.4 536.9,2227.6 538.0,2225.5 539.1,2226.0 540.1,2228.0 541.2,2228.6 542.3,2229.0 543.3,2227.3 544.4,2225.8 545.5,2228.3 546.5,2227.1 547.6,2229.1 548.7,2228.6 549.7,2226.9 550.8,2227.9 551.9,2226.2 552.9,2226.5 554.0,2229.0 555.1,2230.3 556.1,2227.5 557.2,2226.4 558.3,2226.6 559.3,2230.5 560.4,2229.8 561.5,2229.7" stroke="#ed1c24" stroke-width="6.5" stroke-dasharray="12 19.8" stroke-linecap="round"/></g>
<g fill="none" stroke-linejoin="round" clip-path="url(#c13)"><path d="M83.3,2204.3 84.4,2205.5 85.5,2206.5 86.5,2207.6 87.6,2208.6 88.7,2209.5 89.7,2210.3 90.8,2211.0 91.9,2211.6 92.9,2211.9 94.0,2212.2 95.1,2212.5 96.1,2212.7 97.2,2212.9 98.3,2213.1 99.3,2213.3 100.4,2213.4 101.5,2213.6 102.5,2213.7 103.6,2213.9 104.7,2214.1 105.7,2214.3 106.8,2214.6 107.9,2214.9 108.9,2215.3 110.0,2215.7 111.1,2216.3 112.1,2216.9 113.2,2217.5 114.2,2218.1 115.3,2218.8 116.4,2219.5 117.4,2220.2 118.5,2220.8 119.6,2221.5 120.6,2222.1 121.7,2222.6 122.8,2223.2 123.8,2223.7 124.9,2224.2 126.0,2224.8 127.0,2225.3 128.1,2225.9 129.2,2226.4 130.2,2226.9 131.3,2227.4 132.4,2227.9 133.4,2228.4 134.5,2228.9 135.6,2229.3 136.6,2229.7 137.7,2230.1 138.8,2230.4 139.8,2230.7 140.9,2231.0 141.9,2231.2 143.0,2231.5 144.1,2231.8 145.1,2232.0 146.2,2232.3 147.3,2232.5 148.3,2232.7 149.4,2232.9 150.5,2233.2 151.5,2233.3 152.6,2233.5 153.7,2233.6 154.7,2233.8 155.8,2233.9 156.9,2233.9 157.9,2234.0 159.0,2234.0 160.1,2234.0 161.1,2234.0 162.2,2234.0 163.3,2233.9 164.3,2233.9 165.4,2233.9 166.5,2233.8 167.5,2233.8 168.6,2233.7 169.6,2233.7 170.7,2233.6 171.8,2233.5 172.8,2233.5 173.9,2233.4 175.0,2233.3 176.0,2233.2 177.1,2233.2 178.2,2233.1 179.2,2232.9 180.3,2232.8 181.4,2232.6 182.4,2232.4 183.5,2232.2 184.6,2232.0 185.6,2231.7 186.7,2231.5 187.8,2231.2 188.8,2230.9 189.9,2230.6 191.0,2230.3 192.0,2229.9 193.1,2229.6 194.2,2229.3 195.2,2229.0 196.3,2228.6 197.3,2228.3 198.4,2227.9 199.5,2227.5 200.5,2227.1 201.6,2226.6 202.7,2226.2 203.7,2225.7 204.8,2225.2 205.9,2224.7 206.9,2224.1 208.0,2223.6 209.1,2223.0 210.1,2222.4 211.2,2221.9 212.3,2221.2 213.3,2220.6 214.4,2220.0 215.5,2219.3 216.5,2218.7 217.6,2217.9 218.7,2217.2 219.7,2216.4 220.8,2215.6 221.9,2214.8 222.9,2213.9 224.0,2213.0 225.0,2212.1 226.1,2211.1 227.2,2210.2 228.2,2209.2 229.3,2208.2 230.4,2207.1 231.4,2205.9 232.5,2204.7 233.6,2203.4 234.6,2202.1 235.7,2200.8 236.8,2199.4 237.8,2198.1 238.9,2196.7 240.0,2195.4 241.0,2194.1 242.1,2192.8 243.2,2191.6 244.2,2190.3 245.3,2189.0 246.4,2187.6 247.4,2186.3 248.5,2184.9 249.6,2183.4 250.6,2181.8 251.7,2180.2 252.8,2178.5 253.8,2176.7 254.9,2174.9 255.9,2172.9 257.0,2170.8 258.1,2168.6 259.1,2166.2 260.2,2163.7 261.3,2160.9 262.3,2158.1 263.4,2155.0 264.5,2151.9 265.5,2148.6 266.6,2145.1 267.7,2141.3 268.7,2137.3 269.8,2133.1 270.9,2128.8 271.9,2124.5 273.0,2120.4 274.1,2116.2 275.1,2111.9 276.2,2107.5 277.3,2103.2 278.3,2099.0 279.4,2094.8 280.5,2090.8 281.5,2086.7 282.6,2082.5 283.6,2078.4 284.7,2074.5 285.8,2070.9 286.8,2067.8 287.9,2065.3 289.0,2063.2 290.0,2061.4 291.1,2059.7 292.2,2058.2 293.2,2056.7 294.3,2055.1 295.4,2053.5 296.4,2051.9 297.5,2050.3 298.6,2048.7 299.6,2047.2 300.7,2045.5 301.8,2043.8 302.8,2042.0 303.9,2040.0 305.0,2038.0 306.0,2035.8 307.1,2033.6 308.2,2031.2 309.2,2028.7 310.3,2026.2 311.3,2023.5 312.4,2020.6 313.5,2017.6 314.5,2014.5 315.6,2011.1 316.7,2007.5 317.7,2003.7 318.8,1999.2 319.9,1994.3 320.9,1989.1 322.0,1983.8 323.1,1978.7 324.1,1973.7 325.2,1969.0 326.3,1963.8 327.3,1958.7 328.4,1954.3 329.5,1951.1 330.5,1949.3 331.6,1947.9 332.7,1946.9 333.7,1946.6 334.8,1947.0 335.9,1948.1 336.9,1949.6 338.0,1951.5 339.0,1955.0 340.1,1959.9 341.2,1965.7 342.2,1972.1 343.3,1979.0 344.4,1987.6 345.4,1997.6 346.5,2008.5 347.6,2019.7 348.6,2030.7 349.7,2041.9 350.8,2053.5 351.8,2065.3 352.9,2077.2 354.0,2088.9 355.0,2100.6 356.1,2112.7 357.2,2124.6 358.2,2136.1 359.3,2146.8 360.4,2156.7 361.4,2166.4 362.5,2175.6 363.6,2183.9 364.6,2191.0 365.7,2196.8 366.7,2202.1 367.8,2207.0 368.9,2211.4 369.9,2215.4 371.0,2218.8 372.1,2221.7 373.1,2224.1 374.2,2226.4 375.3,2228.5 376.3,2230.3 377.4,2231.9 378.5,2233.1 379.5,2233.9 380.6,2234.4 381.7,2234.8 382.7,2235.2 383.8,2235.6 384.9,2236.0 385.9,2236.2 387.0,2236.5 388.1,2236.7 389.1,2236.8 390.2,2236.9 391.3,2236.9 392.3,2236.9 393.4,2236.9 394.5,2236.9 395.5,2236.9 396.6,2236.9 397.6,2236.9 398.7,2236.9 399.8,2236.9 400.8,2236.9 401.9,2236.9 403.0,2236.9 404.0,2236.9 405.1,2236.9 406.2,2236.9 407.2,2236.9 408.3,2236.9 409.4,2236.9 410.4,2236.9 411.5,2236.9 412.6,2236.9 413.6,2236.9 414.7,2236.9 415.8,2236.9 416.8,2236.9 417.9,2236.9 419.0,2236.9 420.0,2236.9 421.1,2236.9 422.2,2236.9 423.2,2236.9 424.3,2236.9 425.3,2236.9 426.4,2236.9 427.5,2236.9 428.5,2236.9 429.6,2236.9 430.7,2236.9 431.7,2236.9 432.8,2236.9 433.9,2236.9 434.9,2236.9 436.0,2236.9 437.1,2236.9 438.1,2236.9 439.2,2236.9 440.3,2236.9 441.3,2236.9 442.4,2236.9 443.5,2236.9 444.5,2236.9 445.6,2236.9 446.7,2236.9 447.7,2236.9 448.8,2236.9 449.9,2236.9 450.9,2236.9 452.0,2236.9 453.0,2236.9 454.1,2236.9 455.2,2236.9" stroke="#ed1c24" stroke-width="9.4" stroke-linecap="butt"/></g>
</g>
<g>
<g stroke="#000" stroke-width="4.3" fill="none" stroke-linecap="butt">
<path d="M742.4,1916.7 V2240.5"/>
<path d="M733.5,2238.3 H1223.8"/>
<path d="M733.5,2092.8 H742.4"/>
<path d="M733.5,1947.3 H742.4"/>
<path d="M795.6,2238.3 V2246.8"/>
<path d="M902.1,2238.3 V2246.8"/>
<path d="M1008.6,2238.3 V2246.8"/>
<path d="M1115.2,2238.3 V2246.8"/>
<path d="M1221.7,2238.3 V2246.8"/>
</g>
<g font-family='"Liberation Sans", "DejaVu Sans", sans-serif' font-weight="700" font-size="24.0" fill="#000">
<text x="729.4" y="2246.8" text-anchor="end">0.0</text>
<text x="729.4" y="2101.3" text-anchor="end">0.5</text>
<text x="729.4" y="1955.8" text-anchor="end">1.0</text>
<text x="795.6" y="2273.3" text-anchor="middle">400</text>
<text x="902.1" y="2273.3" text-anchor="middle">500</text>
<text x="1008.6" y="2273.3" text-anchor="middle">600</text>
<text x="1115.2" y="2273.3" text-anchor="middle">700</text>
<text x="1221.7" y="2273.3" text-anchor="middle">800</text>
</g>
<g font-family='"Liberation Sans", "DejaVu Sans", sans-serif' font-size="24.4" fill="#000" stroke="#000" stroke-width="0.35">
<text x="860.5" y="1906.5" textLength="61.8" lengthAdjust="spacingAndGlyphs">mTq2</text>
<text x="981.0" y="1906.5" textLength="83.3" lengthAdjust="spacingAndGlyphs">mKate2</text>
</g>
<text x="883.9" y="2309.4" font-family='"Liberation Sans", "DejaVu Sans", sans-serif' font-size="26.3" fill="#000">Wavelength (nm)</text>
<clipPath id="c14"><rect x="740.7" y="1889.1" width="481.3" height="349.9"/></clipPath>
<clipPath id="c14b"><rect x="740.7" y="1889.1" width="483.5" height="361.2"/></clipPath>
<g fill="none" stroke-linejoin="round" clip-path="url(#c14)"><path d="M742.7,2238.0 743.8,2238.0 744.8,2238.0 745.9,2238.0 747.0,2238.0 748.0,2238.0 749.1,2238.0 750.2,2238.0 751.2,2238.0 752.3,2238.0 753.3,2238.0 754.4,2238.0 755.5,2238.0 756.5,2238.0 757.6,2238.0 758.7,2238.0 759.7,2238.0 760.8,2238.0 761.9,2238.0 762.9,2238.0 764.0,2238.0 765.1,2238.0 766.1,2238.0 767.2,2238.0 768.2,2238.0 769.3,2238.0 770.4,2238.0 771.4,2238.0 772.5,2238.0 773.6,2238.0 774.6,2238.0 775.7,2238.0 776.8,2238.0 777.8,2238.0 778.9,2238.0 779.9,2238.0 781.0,2238.0 782.1,2238.0 783.1,2238.0 784.2,2238.0 785.3,2238.0 786.3,2238.0 787.4,2238.0 788.5,2238.0 789.5,2238.0 790.6,2238.0 791.7,2238.0 792.7,2238.0 793.8,2238.0 794.8,2238.0 795.9,2238.0 797.0,2238.0 798.0,2238.0 799.1,2238.0 800.2,2238.0 801.2,2238.0 802.3,2238.0 803.4,2238.0 804.4,2238.0 805.5,2238.0 806.5,2238.0 807.6,2238.0 808.7,2238.0 809.7,2238.0 810.8,2238.0 811.9,2238.0 812.9,2238.0 814.0,2238.0 815.1,2238.0 816.1,2238.0 817.2,2238.0 818.3,2238.0 819.3,2238.0 820.4,2238.0 821.4,2238.0 822.5,2238.0 823.6,2238.0 824.6,2238.0 825.7,2238.0 826.8,2238.0 827.8,2238.0 828.9,2238.0 830.0,2238.0 831.0,2238.0 832.1,2238.0 833.1,2238.0 834.2,2238.0 835.3,2238.0 836.3,2238.0 837.4,2238.0 838.5,2238.0 839.5,2238.0 840.6,2238.0 841.7,2238.0 842.7,2238.0 843.8,2238.0 844.9,2237.6 845.9,2237.1 847.0,2236.5 848.0,2235.8 849.1,2235.2 850.2,2234.5 851.2,2233.8 852.3,2233.0 853.4,2232.1 854.4,2231.0 855.5,2229.7 856.6,2228.1 857.6,2226.1 858.7,2223.8 859.7,2221.0 860.8,2217.7 861.9,2213.9 862.9,2207.8 864.0,2199.6 865.1,2190.3 866.1,2180.6 867.2,2171.2 868.3,2160.9 869.3,2148.8 870.4,2133.4 871.5,2109.1 872.5,2084.2 873.6,2064.0 874.6,2045.2 875.7,2026.9 876.8,2008.4 877.8,1991.8 878.9,1978.2 880.0,1966.1 881.0,1957.8 882.1,1952.8 883.2,1949.0 884.2,1947.7 885.3,1948.6 886.3,1950.6 887.4,1953.0 888.5,1956.4 889.5,1960.8 890.6,1966.2 891.7,1972.8 892.7,1979.8 893.8,1987.1 894.9,1994.1 895.9,2000.8 897.0,2007.0 898.1,2012.6 899.1,2017.7 900.2,2020.5 901.2,2022.4 902.3,2022.8 903.4,2022.4 904.4,2021.8 905.5,2021.0 906.6,2019.8 907.6,2018.2 908.7,2016.3 909.8,2014.6 910.8,2013.0 911.9,2011.5 912.9,2010.2 914.0,2009.6 915.1,2009.2 916.1,2009.0 917.2,2009.8 918.3,2012.2 919.3,2015.8 920.4,2021.1 921.5,2026.0 922.5,2031.0 923.6,2036.1 924.7,2041.6 925.7,2047.9 926.8,2055.2 927.8,2063.0 928.9,2070.5 930.0,2077.0 931.0,2082.3 932.1,2087.0 933.2,2091.3 934.2,2095.3 935.3,2099.3 936.4,2103.4 937.4,2107.7 938.5,2112.1 939.5,2116.6 940.6,2121.0 941.7,2125.3 942.7,2129.2 943.8,2132.8 944.9,2135.9 945.9,2138.8 947.0,2141.5 948.1,2144.1 949.1,2146.6 950.2,2148.9 951.3,2151.1 952.3,2153.3 953.4,2155.4 954.4,2157.4 955.5,2159.3 956.6,2161.3 957.6,2163.1 958.7,2165.0 959.8,2166.8 960.8,2168.5 961.9,2170.2 963.0,2171.7 964.0,2173.3 965.1,2174.8 966.1,2176.3 967.2,2177.8 968.3,2179.3 969.3,2180.8 970.4,2182.4 971.5,2184.0 972.5,2185.8 973.6,2187.6 974.7,2189.6 975.7,2191.7 976.8,2193.8 977.9,2196.0 978.9,2198.1 980.0,2200.3 981.0,2202.3 982.1,2204.2 983.2,2205.9 984.2,2207.4 985.3,2208.7 986.4,2209.8 987.4,2210.7 988.5,2211.5 989.6,2212.4 990.6,2213.1 991.7,2213.9 992.7,2214.6 993.8,2215.3 994.9,2215.9 995.9,2216.5 997.0,2217.1 998.1,2217.6 999.1,2218.1 1000.2,2218.6 1001.3,2219.1 1002.3,2219.6 1003.4,2220.1 1004.5,2220.5 1005.5,2221.0 1006.6,2221.5 1007.6,2221.9 1008.7,2222.3 1009.8,2222.8 1010.8,2223.2 1011.9,2223.6 1013.0,2223.9 1014.0,2224.3 1015.1,2224.7 1016.2,2225.0 1017.2,2225.4 1018.3,2225.7 1019.3,2226.1 1020.4,2226.4 1021.5,2226.7 1022.5,2227.0 1023.6,2227.3 1024.7,2227.6 1025.7,2228.0 1026.8,2228.3 1027.9,2228.6 1028.9,2228.9 1030.0,2229.2 1031.1,2229.5 1032.1,2229.8 1033.2,2230.1 1034.2,2230.3 1035.3,2230.6 1036.4,2230.9 1037.4,2231.2 1038.5,2231.4 1039.6,2231.7 1040.6,2232.0 1041.7,2232.2 1042.8,2232.5 1043.8,2232.7 1044.9,2232.9 1045.9,2233.2 1047.0,2233.4 1048.1,2233.6 1049.1,2233.8 1050.2,2234.0 1051.3,2234.2 1052.3,2234.4 1053.4,2234.7 1054.5,2234.9 1055.5,2235.0 1056.6,2235.2 1057.7,2235.4 1058.7,2235.6 1059.8,2235.7 1060.8,2235.9 1061.9,2236.0 1063.0,2236.1 1064.0,2236.2 1065.1,2236.3 1066.2,2236.4 1067.2,2236.5 1068.3,2236.6 1069.4,2236.7" stroke="#6dcbde" stroke-width="6.5" stroke-dasharray="12 19.8" stroke-linecap="round"/></g>
<g fill="none" stroke-linejoin="round" clip-path="url(#c14)"><path d="M740.4,2225.5 742.4,2225.5 743.5,2225.4 744.5,2225.3 745.6,2225.1 746.7,2225.0 747.7,2224.8 748.8,2224.6 749.9,2224.4 750.9,2224.2 752.0,2223.9 753.0,2223.7 754.1,2223.4 755.2,2223.1 756.2,2222.7 757.3,2222.4 758.4,2222.0 759.4,2221.7 760.5,2221.3 761.6,2221.0 762.6,2220.7 763.7,2220.4 764.8,2220.1 765.8,2219.8 766.9,2219.4 768.0,2218.9 769.0,2218.2 770.1,2217.4 771.2,2216.5 772.2,2215.5 773.3,2214.5 774.4,2213.3 775.4,2212.1 776.5,2210.7 777.5,2209.1 778.6,2207.3 779.7,2205.2 780.7,2202.8 781.8,2200.3 782.9,2197.7 783.9,2194.8 785.0,2191.7 786.1,2188.4 787.1,2184.9 788.2,2181.4 789.3,2177.8 790.3,2174.0 791.4,2170.1 792.5,2166.0 793.5,2161.9 794.6,2157.5 795.6,2153.0 796.7,2148.4 797.8,2143.8 798.8,2139.3 799.9,2134.7 801.0,2130.1 802.0,2125.5 803.1,2120.7 804.2,2115.6 805.2,2110.4 806.3,2105.1 807.4,2099.7 808.4,2094.3 809.5,2089.0 810.6,2083.6 811.6,2078.2 812.7,2072.8 813.8,2067.4 814.8,2062.2 815.9,2057.3 816.9,2052.4 818.0,2047.8 819.1,2043.4 820.1,2039.3 821.2,2035.4 822.3,2031.4 823.3,2027.3 824.4,2023.2 825.5,2018.9 826.5,2013.9 827.6,2008.1 828.7,2001.9 829.7,1995.9 830.8,1989.7 831.9,1983.5 832.9,1977.2 834.0,1970.7 835.1,1964.8 836.1,1960.0 837.2,1955.6 838.2,1952.2 839.3,1949.6 840.4,1947.8 841.4,1947.2 842.5,1946.9 843.6,1947.6 844.6,1949.2 845.7,1951.3 846.8,1954.0 847.8,1957.1 848.9,1960.7 850.0,1964.1 851.0,1966.7 852.1,1968.9 853.2,1970.9 854.2,1972.3 855.3,1972.6 856.4,1972.2 857.4,1971.6 858.5,1970.8 859.5,1970.0 860.6,1969.0 861.7,1968.0 862.7,1967.3 863.8,1967.3 864.9,1968.5 865.9,1970.2 867.0,1972.3 868.1,1975.1 869.1,1979.1 870.2,1985.3 871.3,1993.8 872.3,2003.6 873.4,2015.7 874.5,2029.8 875.5,2046.7 876.6,2067.0 877.7,2086.3 878.7,2102.7 879.8,2118.4 880.8,2135.1 881.9,2151.0 883.0,2163.7 884.0,2174.8 885.1,2184.6 886.2,2193.9 887.2,2203.0 888.3,2210.9 889.4,2216.4 890.4,2220.6 891.5,2224.1 892.6,2226.9 893.6,2229.0 894.7,2230.5 895.8,2231.8 896.8,2233.0 897.9,2234.0 899.0,2234.8 900.0,2235.4 901.1,2235.9 902.1,2236.3 903.2,2236.7 904.3,2237.0 905.3,2237.1 906.4,2237.3 907.5,2237.4 908.5,2237.5 909.6,2237.5 910.7,2237.6 911.7,2237.7 912.8,2237.7 913.9,2237.8 914.9,2237.8 916.0,2237.9 917.1,2237.9 918.1,2237.9 919.2,2238.0" stroke="#6dcbde" stroke-width="9.4" stroke-linecap="butt"/></g>
<g fill="none" stroke-linejoin="round" clip-path="url(#c14)"><path d="M954.0,2237.5 955.1,2237.4 956.2,2237.4 957.2,2237.4 958.3,2237.3 959.4,2237.2 960.4,2237.1 961.5,2237.0 962.6,2236.8 963.6,2236.7 964.7,2236.5 965.8,2236.3 966.8,2236.1 967.9,2235.9 969.0,2235.7 970.0,2235.3 971.1,2234.8 972.2,2234.2 973.2,2233.4 974.3,2232.5 975.4,2231.5 976.4,2230.4 977.5,2229.2 978.6,2227.9 979.6,2226.6 980.7,2225.0 981.8,2222.9 982.8,2220.5 983.9,2217.8 985.0,2214.8 986.0,2211.6 987.1,2208.3 988.2,2204.7 989.2,2200.6 990.3,2196.0 991.4,2191.2 992.4,2186.0 993.5,2180.6 994.6,2175.2 995.6,2169.4 996.7,2163.3 997.8,2156.8 998.8,2150.1 999.9,2143.2 1001.0,2136.2 1002.0,2129.2 1003.1,2122.1 1004.2,2114.8 1005.2,2107.4 1006.3,2099.9 1007.4,2092.4 1008.4,2084.9 1009.5,2077.5 1010.6,2070.0 1011.6,2062.4 1012.7,2054.8 1013.8,2047.2 1014.8,2039.9 1015.9,2032.8 1017.0,2026.2 1018.0,2019.7 1019.1,2013.4 1020.1,2007.3 1021.2,2001.3 1022.3,1995.9 1023.3,1990.7 1024.4,1985.7 1025.5,1981.1 1026.5,1976.1 1027.6,1972.7 1028.7,1968.4 1029.7,1965.1 1030.8,1961.6 1031.9,1959.3 1032.9,1957.3 1034.0,1956.8 1035.1,1954.8 1036.1,1953.3 1037.2,1953.4 1038.3,1951.1 1039.3,1951.5 1040.4,1951.5 1041.5,1948.3 1042.5,1950.4 1043.6,1948.1 1044.7,1948.5 1045.7,1949.5 1046.8,1948.2 1047.9,1948.8 1048.9,1949.1 1050.0,1948.8 1051.1,1949.7 1052.1,1952.2 1053.2,1953.3 1054.3,1954.3 1055.3,1955.4 1056.4,1956.5 1057.5,1957.8 1058.5,1959.2 1059.6,1960.7 1060.7,1962.4 1061.7,1964.3 1062.8,1966.6 1063.9,1969.0 1064.9,1972.3 1066.0,1975.7 1067.1,1979.1 1068.1,1982.6 1069.2,1986.8 1070.3,1989.2 1071.3,1993.3 1072.4,1997.8 1073.5,2004.5 1074.5,2008.9 1075.6,2012.8 1076.7,2017.4 1077.7,2022.9 1078.8,2026.1 1079.9,2027.5 1080.9,2031.7 1082.0,2037.6 1083.1,2040.3 1084.1,2040.8 1085.2,2046.0 1086.2,2050.1 1087.3,2052.9 1088.4,2056.1 1089.4,2058.4 1090.5,2064.6 1091.6,2065.5 1092.6,2071.4 1093.7,2074.9 1094.8,2080.3 1095.8,2083.6 1096.9,2084.7 1098.0,2090.3 1099.0,2095.3 1100.1,2097.1 1101.2,2100.2 1102.2,2102.6 1103.3,2107.5 1104.4,2108.5 1105.4,2114.8 1106.5,2116.5 1107.6,2120.0 1108.6,2123.4 1109.7,2125.0 1110.8,2129.9 1111.8,2131.0 1112.9,2133.7 1114.0,2135.3 1115.0,2139.8 1116.1,2142.7 1117.2,2145.2 1118.2,2144.5 1119.3,2149.0 1120.4,2149.2 1121.4,2151.6 1122.5,2155.5 1123.6,2157.6 1124.6,2158.5 1125.7,2159.2 1126.8,2161.5 1127.8,2164.6 1128.9,2166.2 1130.0,2168.9 1131.0,2169.0 1132.1,2172.8 1133.2,2172.2 1134.2,2175.7 1135.3,2175.3 1136.4,2176.4 1137.4,2177.0 1138.5,2179.3 1139.6,2180.1 1140.6,2181.8 1141.7,2184.1 1142.8,2185.1 1143.8,2185.7 1144.9,2187.1 1146.0,2187.4 1147.0,2189.1 1148.1,2187.9 1149.2,2190.4 1150.2,2191.9 1151.3,2190.7 1152.4,2194.8 1153.4,2194.8 1154.5,2195.9 1155.5,2195.4 1156.6,2197.1 1157.7,2197.5 1158.7,2199.5 1159.8,2201.1 1160.9,2202.2 1161.9,2202.6 1163.0,2202.8 1164.1,2204.8 1165.1,2202.5 1166.2,2206.2 1167.3,2206.9 1168.3,2206.9 1169.4,2207.4 1170.5,2207.8 1171.5,2209.4 1172.6,2208.4 1173.7,2207.7 1174.7,2210.7 1175.8,2208.7 1176.9,2211.7 1177.9,2209.0 1179.0,2211.2 1180.1,2211.3 1181.1,2212.3 1182.2,2211.2 1183.3,2213.6 1184.3,2214.2 1185.4,2215.5 1186.5,2213.1 1187.5,2216.6 1188.6,2217.1 1189.7,2215.1 1190.7,2214.6 1191.8,2218.5 1192.9,2218.2 1193.9,2219.3 1195.0,2218.7 1196.1,2218.4 1197.1,2217.7 1198.2,2219.7 1199.3,2218.7 1200.3,2220.5 1201.4,2220.5 1202.5,2220.8 1203.5,2222.0 1204.6,2221.9 1205.7,2219.4 1206.7,2223.3 1207.8,2221.3 1208.9,2223.5 1209.9,2222.2 1211.0,2223.7 1212.1,2224.6 1213.1,2222.8 1214.2,2223.3 1215.3,2222.5 1216.3,2224.4 1217.4,2221.6 1218.5,2223.9 1219.5,2223.1 1220.6,2223.0 1221.7,2222.0" stroke="#d71f27" stroke-width="6.5" stroke-dasharray="12 19.8" stroke-linecap="round"/></g>
<g fill="none" stroke-linejoin="round" clip-path="url(#c14)"><path d="M740.4,2174.7 742.4,2174.7 743.5,2175.3 744.5,2175.8 745.6,2176.3 746.7,2176.8 747.7,2177.2 748.8,2177.5 749.9,2177.8 750.9,2178.1 752.0,2178.3 753.0,2178.4 754.1,2178.4 755.2,2178.4 756.2,2178.3 757.3,2178.1 758.4,2177.9 759.4,2177.6 760.5,2177.4 761.6,2177.2 762.6,2177.0 763.7,2176.8 764.8,2176.7 765.8,2176.7 766.9,2176.8 767.9,2177.0 769.0,2177.2 770.1,2177.5 771.1,2177.9 772.2,2178.3 773.3,2178.8 774.3,2179.2 775.4,2179.7 776.5,2180.2 777.5,2180.8 778.6,2181.4 779.7,2182.2 780.7,2183.1 781.8,2184.0 782.8,2184.9 783.9,2185.9 785.0,2186.9 786.0,2187.9 787.1,2188.9 788.2,2189.9 789.2,2190.9 790.3,2192.0 791.4,2193.2 792.4,2194.3 793.5,2195.5 794.6,2196.7 795.6,2197.9 796.7,2199.0 797.8,2200.2 798.8,2201.3 799.9,2202.3 800.9,2203.3 802.0,2204.1 803.1,2205.0 804.1,2205.8 805.2,2206.6 806.3,2207.4 807.3,2208.2 808.4,2209.0 809.5,2209.8 810.5,2210.5 811.6,2211.1 812.7,2211.7 813.7,2212.3 814.8,2212.8 815.8,2213.2 816.9,2213.5 818.0,2213.7 819.0,2214.0 820.1,2214.2 821.2,2214.4 822.2,2214.7 823.3,2214.9 824.4,2215.1 825.4,2215.2 826.5,2215.4 827.6,2215.6 828.6,2215.7 829.7,2215.8 830.8,2215.9 831.8,2216.0 832.9,2216.1 833.9,2216.1 835.0,2216.2 836.1,2216.2 837.1,2216.1 838.2,2216.1 839.3,2216.0 840.3,2215.9 841.4,2215.8 842.5,2215.7 843.5,2215.5 844.6,2215.3 845.7,2215.2 846.7,2215.0 847.8,2214.8 848.8,2214.6 849.9,2214.4 851.0,2214.2 852.0,2214.0 853.1,2213.8 854.2,2213.6 855.2,2213.3 856.3,2213.1 857.4,2212.9 858.4,2212.6 859.5,2212.4 860.6,2212.1 861.6,2211.8 862.7,2211.5 863.7,2211.2 864.8,2210.8 865.9,2210.5 866.9,2210.1 868.0,2209.8 869.1,2209.4 870.1,2209.0 871.2,2208.6 872.3,2208.2 873.3,2207.8 874.4,2207.3 875.5,2206.8 876.5,2206.3 877.6,2205.8 878.7,2205.2 879.7,2204.6 880.8,2204.0 881.8,2203.4 882.9,2202.8 884.0,2202.1 885.0,2201.5 886.1,2200.8 887.2,2200.1 888.2,2199.4 889.3,2198.8 890.4,2198.1 891.4,2197.4 892.5,2196.8 893.6,2196.1 894.6,2195.4 895.7,2194.8 896.7,2194.1 897.8,2193.4 898.9,2192.7 899.9,2191.9 901.0,2191.2 902.1,2190.4 903.1,2189.5 904.2,2188.6 905.3,2187.7 906.3,2186.7 907.4,2185.6 908.5,2184.5 909.5,2183.3 910.6,2182.0 911.7,2180.6 912.7,2179.1 913.8,2177.6 914.8,2176.0 915.9,2174.3 917.0,2172.5 918.0,2170.6 919.1,2168.5 920.2,2166.2 921.2,2163.8 922.3,2161.2 923.4,2158.5 924.4,2155.6 925.5,2152.7 926.6,2149.7 927.6,2146.5 928.7,2143.1 929.7,2139.2 930.8,2135.1 931.9,2130.9 932.9,2126.7 934.0,2122.6 935.1,2118.8 936.1,2115.0 937.2,2111.3 938.3,2107.5 939.3,2104.0 940.4,2100.6 941.5,2097.6 942.5,2094.9 943.6,2092.5 944.6,2090.1 945.7,2088.0 946.8,2086.0 947.8,2084.1 948.9,2082.4 950.0,2080.9 951.0,2079.6 952.1,2078.4 953.2,2077.2 954.2,2076.0 955.3,2074.6 956.4,2073.0 957.4,2071.2 958.5,2069.4 959.6,2067.4 960.6,2065.2 961.7,2062.8 962.7,2060.2 963.8,2057.0 964.9,2053.3 965.9,2049.1 967.0,2044.5 968.1,2039.7 969.1,2034.8 970.2,2030.0 971.3,2024.9 972.3,2019.4 973.4,2013.6 974.5,2007.8 975.5,2002.0 976.6,1996.5 977.6,1991.3 978.7,1986.2 979.8,1981.0 980.8,1975.9 981.9,1971.1 983.0,1966.6 984.0,1962.8 985.1,1959.7 986.2,1957.1 987.2,1954.7 988.3,1952.6 989.4,1950.9 990.4,1949.6 991.5,1948.8 992.6,1948.0 993.6,1947.5 994.7,1947.2 995.7,1947.2 996.8,1947.8 997.9,1949.0 998.9,1950.4 1000.0,1952.3 1001.1,1955.6 1002.1,1960.1 1003.2,1965.2 1004.3,1970.9 1005.3,1976.8 1006.4,1983.5 1007.5,1991.3 1008.5,1999.8 1009.6,2008.9 1010.6,2018.2 1011.7,2027.9 1012.8,2038.4 1013.8,2049.5 1014.9,2060.7 1016.0,2071.8 1017.0,2082.7 1018.1,2093.9 1019.2,2105.1 1020.2,2116.0 1021.3,2126.3 1022.4,2136.0 1023.4,2145.6 1024.5,2154.8 1025.5,2163.4 1026.6,2171.0 1027.7,2177.4 1028.7,2183.2 1029.8,2188.6 1030.9,2193.5 1031.9,2198.1 1033.0,2202.3 1034.1,2206.1 1035.1,2209.5 1036.2,2212.8 1037.3,2215.9 1038.3,2218.8 1039.4,2221.4 1040.5,2223.7 1041.5,2225.6 1042.6,2227.0 1043.6,2228.3 1044.7,2229.5 1045.8,2230.6 1046.8,2231.6 1047.9,2232.5 1049.0,2233.4 1050.0,2234.1 1051.1,2234.7 1052.2,2235.2 1053.2,2235.6 1054.3,2235.9 1055.4,2236.1 1056.4,2236.4 1057.5,2236.6 1058.5,2236.8 1059.6,2237.0 1060.7,2237.2 1061.7,2237.3 1062.8,2237.4 1063.9,2237.4 1064.9,2237.5" stroke="#d71f27" stroke-width="9.4" stroke-linecap="butt"/></g>
</g>
</svg>
</body>
</html>
